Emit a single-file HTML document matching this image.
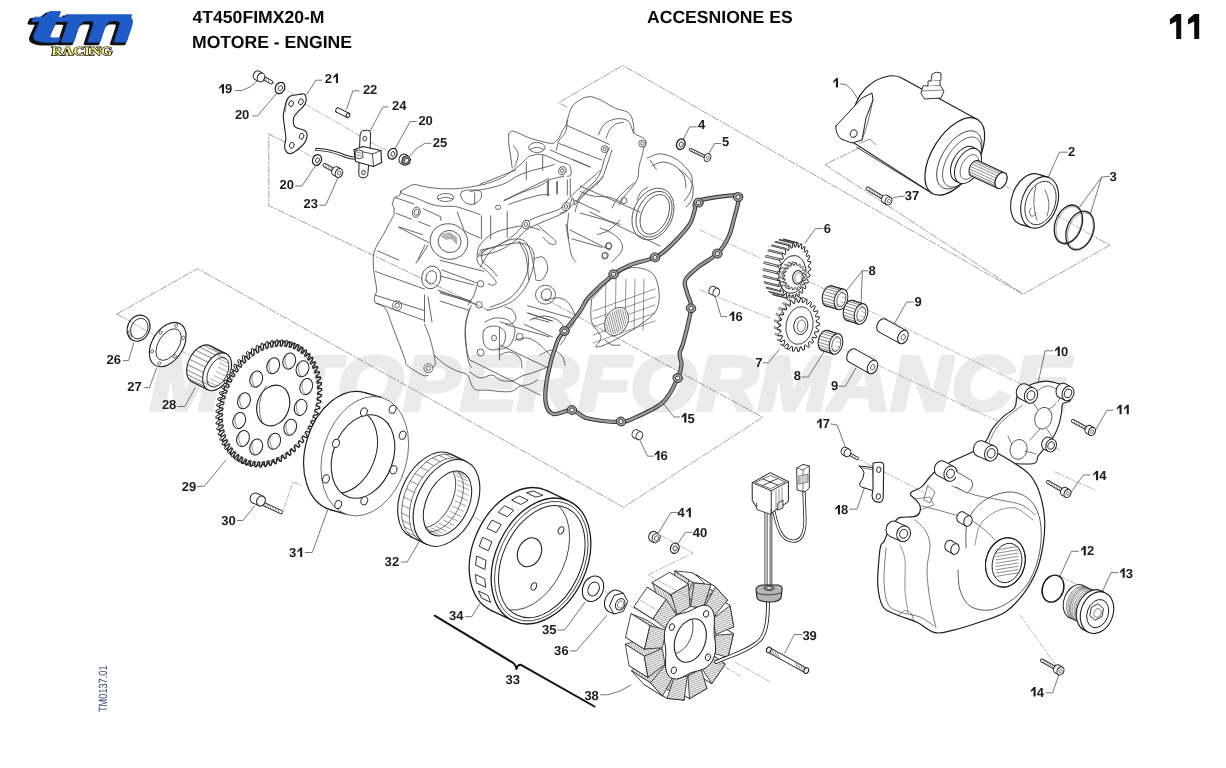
<!DOCTYPE html>
<html><head><meta charset="utf-8"><title>Accensione ES</title>
<style>
html,body{margin:0;padding:0;background:#fff;}
body{width:1226px;height:768px;overflow:hidden;position:relative;font-family:"Liberation Sans",sans-serif;}
svg{position:absolute;left:0;top:0;will-change:transform;}
text{text-rendering:geometricPrecision;}
</style></head><body>
<svg width="1226" height="768" viewBox="0 0 1226 768">

<rect width="1226" height="768" fill="#fff"/>
<text x="150" y="409.5" font-family="Liberation Sans" font-weight="bold" font-style="italic" font-size="77" fill="#eaeaea" stroke="#eaeaea" stroke-width="4" stroke-linejoin="round" textLength="920" lengthAdjust="spacingAndGlyphs">MOTOPERFORMANCE</text>
<g>
<text x="0" y="0" font-family="Liberation Sans" font-weight="bold" font-style="italic" font-size="100" transform="translate(25.5,43.800000000000004) scale(1.1,0.47)" fill="#111" stroke="#111" stroke-width="5" stroke-linejoin="round">t</text>
<text x="0" y="0" font-family="Liberation Sans" font-weight="bold" font-style="italic" font-size="100" transform="translate(57.699999999999996,44.300000000000004) scale(0.85,0.5)" fill="#111" stroke="#111" stroke-width="5" stroke-linejoin="round">m</text>
<path d="M66,14.8 L131.5,14.8 L130.1,20.8 L64.5,20.8 Z" fill="#111" stroke="#111" stroke-width="3.0" stroke-linejoin="round" transform="translate(-2.6,2.2)"/>
<text x="0" y="0" font-family="Liberation Sans" font-weight="bold" font-style="italic" font-size="100" transform="translate(28.1,41.6) scale(1.1,0.47)" fill="#1f5cc8" stroke="#1f5cc8" stroke-width="1.6" stroke-linejoin="round">t</text>
<text x="0" y="0" font-family="Liberation Sans" font-weight="bold" font-style="italic" font-size="100" transform="translate(60.3,42.1) scale(0.85,0.5)" fill="#1f5cc8" stroke="#1f5cc8" stroke-width="1.6" stroke-linejoin="round">m</text>
<path d="M66,14.8 L131.5,14.8 L130.1,20.8 L64.5,20.8 Z" fill="#1f5cc8" stroke="#1f5cc8" stroke-width="0.96" stroke-linejoin="round" transform="translate(0,0)"/>
<text x="51.5" y="55.4" font-family="Liberation Serif" font-weight="bold" font-size="12" fill="#f3ec78" stroke="#111" stroke-width="1.3" paint-order="stroke" textLength="61" lengthAdjust="spacingAndGlyphs">RACING</text>
</g>
<g font-family="Liberation Sans" font-weight="bold" fill="#0a0a0a">
<text x="192.5" y="23.2" font-size="17.6">4T450FIMX20-M</text>
<text x="192" y="48.4" font-size="17.6">MOTORE - ENGINE</text>
<text x="647" y="22.8" font-size="17.6">ACCESNIONE ES</text>
<path d="M1169.9,19.3 L1176.3,14 L1181.2,14 L1181.2,38.9 L1176.2,38.9 L1176.2,21.6 L1169.9,24.6 Z M1188,19.3 L1194.3,14 L1199.2,14 L1199.2,38.9 L1194.2,38.9 L1194.2,21.6 L1188,24.6 Z" fill="#0a0a0a"/>
</g>
<path d="M117.0,314.0 L197.5,268.6 L623.6,507.3 L762.6,417.2 L540.0,296.0" fill="none" stroke="#777" stroke-width="0.7" stroke-dasharray="7,2,1.5,2" stroke-linejoin="round" stroke-linecap="round" />
<path d="M117.0,314.0 L131.0,322.0" fill="none" stroke="#777" stroke-width="0.7" stroke-dasharray="7,2,1.5,2" stroke-linejoin="round" stroke-linecap="round" />
<path d="M285.2,142.3 L268.8,134.0 L268.8,205.6 L490.0,311.0" fill="none" stroke="#777" stroke-width="0.7" stroke-dasharray="7,2,1.5,2" stroke-linejoin="round" stroke-linecap="round" />
<path d="M567.0,107.0 L558.3,102.9 L622.9,65.4 L1023.0,294.1 L1110.0,245.2 L1096.5,237.9" fill="none" stroke="#777" stroke-width="0.7" stroke-dasharray="7,2,1.5,2" stroke-linejoin="round" stroke-linecap="round" />
<path d="M869.0,142.4 L855.5,149.8 L824.9,164.5 L1023.0,294.1" fill="none" stroke="#777" stroke-width="0.7" stroke-dasharray="7,2,1.5,2" stroke-linejoin="round" stroke-linecap="round" />
<path d="M131.0,322.0 L300.0,418.0" fill="none" stroke="#888" stroke-width="0.6" stroke-dasharray="6,2,1.5,2" stroke-linejoin="round" stroke-linecap="round" />
<path d="M335.0,438.0 L620.0,600.0" fill="none" stroke="#888" stroke-width="0.6" stroke-dasharray="6,2,1.5,2" stroke-linejoin="round" stroke-linecap="round" />
<path d="M630.0,606.0 L700.0,646.0" fill="none" stroke="#888" stroke-width="0.6" stroke-dasharray="6,2,1.5,2" stroke-linejoin="round" stroke-linecap="round" />
<ellipse cx="138.6" cy="328.2" rx="11.0" ry="13.4" fill="none" stroke="#1e1e1e" stroke-width="1.1" transform="rotate(25 138.6 328.2)" />
<ellipse cx="139.3" cy="328.6" rx="8.3" ry="10.6" fill="none" stroke="#1e1e1e" stroke-width="0.8" transform="rotate(25 139.3 328.6)" />
<ellipse cx="129.5" cy="332.0" rx="1.3" ry="1.3" fill="#fff" stroke="#1e1e1e" stroke-width="0.6" />
<ellipse cx="130.5" cy="336.0" rx="1.3" ry="1.3" fill="#fff" stroke="#1e1e1e" stroke-width="0.6" />
<ellipse cx="167.7" cy="344.6" rx="15.5" ry="24.2" fill="#fff" stroke="#1e1e1e" stroke-width="1.1" transform="rotate(32 167.7 344.6)" />
<ellipse cx="168.6" cy="344.6" rx="10.2" ry="17.5" fill="none" stroke="#1e1e1e" stroke-width="0.8" transform="rotate(32 168.6 344.6)" />
<ellipse cx="174.9" cy="356.4" rx="1.4" ry="1.8" fill="#fff" stroke="#1e1e1e" stroke-width="0.6" transform="rotate(32 174.9 356.4)" />
<ellipse cx="159.3" cy="363.5" rx="1.4" ry="1.8" fill="#fff" stroke="#1e1e1e" stroke-width="0.6" transform="rotate(32 159.3 363.5)" />
<ellipse cx="152.1" cy="351.5" rx="1.4" ry="1.8" fill="#fff" stroke="#1e1e1e" stroke-width="0.6" transform="rotate(32 152.1 351.5)" />
<ellipse cx="160.6" cy="332.6" rx="1.4" ry="1.8" fill="#fff" stroke="#1e1e1e" stroke-width="0.6" transform="rotate(32 160.6 332.6)" />
<ellipse cx="176.3" cy="325.7" rx="1.4" ry="1.8" fill="#fff" stroke="#1e1e1e" stroke-width="0.6" transform="rotate(32 176.3 325.7)" />
<ellipse cx="183.3" cy="337.8" rx="1.4" ry="1.8" fill="#fff" stroke="#1e1e1e" stroke-width="0.6" transform="rotate(32 183.3 337.8)" />
<ellipse cx="201.1" cy="363.8" rx="12.5" ry="20.2" fill="#fff" stroke="#1e1e1e" stroke-width="1.1" transform="rotate(27 201.1 363.8)" />
<path d="M207.9,389.8 L191.9,381.8 L210.3,345.8 L226.3,353.8 Z" fill="#fff" stroke="none"/>
<path d="M207.9,389.8 L191.9,381.8 M226.3,353.8 L210.3,345.8" stroke="#1e1e1e" stroke-width="1.1" fill="none"/>
<path d="M206.8,389.1 L190.8,381.1" fill="none" stroke="#333" stroke-width="0.6" stroke-linejoin="round" stroke-linecap="round" />
<path d="M204.4,386.3 L188.4,378.3" fill="none" stroke="#333" stroke-width="0.6" stroke-linejoin="round" stroke-linecap="round" />
<path d="M203.0,382.4 L187.0,374.4" fill="none" stroke="#333" stroke-width="0.6" stroke-linejoin="round" stroke-linecap="round" />
<path d="M202.7,377.7 L186.7,369.7" fill="none" stroke="#333" stroke-width="0.6" stroke-linejoin="round" stroke-linecap="round" />
<path d="M203.5,372.5 L187.5,364.5" fill="none" stroke="#333" stroke-width="0.6" stroke-linejoin="round" stroke-linecap="round" />
<path d="M205.4,367.2 L189.4,359.2" fill="none" stroke="#333" stroke-width="0.6" stroke-linejoin="round" stroke-linecap="round" />
<path d="M208.2,362.4 L192.2,354.4" fill="none" stroke="#333" stroke-width="0.6" stroke-linejoin="round" stroke-linecap="round" />
<path d="M211.7,358.2 L195.7,350.2" fill="none" stroke="#333" stroke-width="0.6" stroke-linejoin="round" stroke-linecap="round" />
<path d="M215.6,355.1 L199.6,347.1" fill="none" stroke="#333" stroke-width="0.6" stroke-linejoin="round" stroke-linecap="round" />
<path d="M219.6,353.3 L203.6,345.3" fill="none" stroke="#333" stroke-width="0.6" stroke-linejoin="round" stroke-linecap="round" />
<path d="M223.5,353.0 L207.5,345.0" fill="none" stroke="#333" stroke-width="0.6" stroke-linejoin="round" stroke-linecap="round" />
<path d="M226.8,354.1 L210.8,346.1" fill="none" stroke="#333" stroke-width="0.6" stroke-linejoin="round" stroke-linecap="round" />
<path d="M229.4,356.6 L213.4,348.6" fill="none" stroke="#333" stroke-width="0.6" stroke-linejoin="round" stroke-linecap="round" />
<ellipse cx="217.1" cy="371.8" rx="12.5" ry="20.2" fill="#fff" stroke="#1e1e1e" stroke-width="1.1" transform="rotate(27 217.1 371.8)" />
<ellipse cx="217.9" cy="372.2" rx="9.3" ry="16.0" fill="#fff" stroke="#1e1e1e" stroke-width="0.8" transform="rotate(27 217.9 372.2)" />
<path d="M225.7,358.3 L216.1,353.5" fill="none" stroke="#555" stroke-width="0.5" stroke-linejoin="round" stroke-linecap="round" />
<path d="M227.7,360.4 L218.1,355.6" fill="none" stroke="#555" stroke-width="0.5" stroke-linejoin="round" stroke-linecap="round" />
<path d="M228.7,363.7 L219.1,358.9" fill="none" stroke="#555" stroke-width="0.5" stroke-linejoin="round" stroke-linecap="round" />
<path d="M228.8,367.6 L219.2,362.8" fill="none" stroke="#555" stroke-width="0.5" stroke-linejoin="round" stroke-linecap="round" />
<path d="M228.0,372.0 L218.4,367.2" fill="none" stroke="#555" stroke-width="0.5" stroke-linejoin="round" stroke-linecap="round" />
<path d="M226.2,376.4 L216.6,371.6" fill="none" stroke="#555" stroke-width="0.5" stroke-linejoin="round" stroke-linecap="round" />
<path d="M223.7,380.4 L214.1,375.6" fill="none" stroke="#555" stroke-width="0.5" stroke-linejoin="round" stroke-linecap="round" />
<path d="M220.6,383.7 L211.0,378.9" fill="none" stroke="#555" stroke-width="0.5" stroke-linejoin="round" stroke-linecap="round" />
<path d="M217.4,386.0 L207.8,381.2" fill="none" stroke="#555" stroke-width="0.5" stroke-linejoin="round" stroke-linecap="round" />
<path d="M214.1,387.0 L204.5,382.2" fill="none" stroke="#555" stroke-width="0.5" stroke-linejoin="round" stroke-linecap="round" />
<path d="M211.2,386.7 L201.6,381.9" fill="none" stroke="#555" stroke-width="0.5" stroke-linejoin="round" stroke-linecap="round" />
<path d="M308.3,420.9 L311.1,424.0 L310.4,425.4 L306.3,424.9 L305.7,426.3 L308.2,429.7 L307.4,431.1 L303.5,430.1 L302.7,431.3 L304.9,435.2 L304.0,436.5 L300.2,435.0 L299.4,436.1 L301.2,440.3 L300.2,441.5 L296.7,439.5 L295.8,440.6 L297.2,445.1 L296.2,446.2 L292.9,443.8 L291.9,444.8 L292.9,449.5 L291.8,450.5 L288.8,447.6 L287.8,448.5 L288.4,453.4 L287.2,454.3 L284.6,451.0 L283.5,451.8 L283.6,456.8 L282.4,457.6 L280.1,453.9 L279.0,454.6 L278.8,459.7 L277.5,460.4 L275.6,456.3 L274.4,456.9 L273.8,462.1 L272.5,462.6 L270.9,458.3 L269.8,458.7 L268.7,463.9 L267.4,464.3 L266.3,459.6 L265.1,459.9 L263.6,465.1 L262.4,465.3 L261.6,460.5 L260.5,460.6 L258.6,465.7 L257.3,465.8 L257.0,460.8 L255.9,460.7 L253.6,465.7 L252.4,465.6 L252.5,460.5 L251.4,460.3 L248.8,465.1 L247.6,464.9 L248.2,459.7 L247.1,459.4 L244.2,463.9 L243.1,463.5 L244.0,458.3 L243.0,457.9 L239.8,462.1 L238.7,461.6 L240.1,456.4 L239.1,455.8 L235.6,459.8 L234.6,459.1 L236.4,453.9 L235.5,453.3 L231.8,456.9 L230.9,456.1 L233.0,451.0 L232.2,450.2 L228.3,453.4 L227.5,452.5 L230.0,447.6 L229.3,446.7 L225.2,449.5 L224.5,448.5 L227.3,443.8 L226.7,442.8 L222.5,445.1 L221.9,444.0 L225.0,439.6 L224.5,438.5 L220.2,440.4 L219.7,439.1 L223.1,435.0 L222.7,433.8 L218.4,435.2 L218.0,433.9 L221.6,430.2 L221.3,428.9 L217.0,429.8 L216.8,428.4 L220.6,425.0 L220.4,423.7 L216.2,424.1 L216.0,422.6 L220.1,419.7 L220.0,418.3 L215.8,418.1 L215.8,416.6 L220.0,414.1 L220.0,412.7 L215.9,412.1 L216.1,410.6 L220.3,408.5 L220.5,407.1 L216.6,405.9 L216.8,404.4 L221.1,402.8 L221.4,401.4 L217.7,399.7 L218.0,398.2 L222.4,397.2 L222.7,395.7 L219.3,393.6 L219.8,392.1 L224.0,391.5 L224.5,390.1 L221.4,387.5 L221.9,386.0 L226.1,386.0 L226.7,384.7 L223.9,381.6 L224.6,380.2 L228.7,380.7 L229.3,379.3 L226.8,375.9 L227.6,374.5 L231.5,375.5 L232.3,374.3 L230.1,370.4 L231.0,369.1 L234.8,370.6 L235.6,369.5 L233.8,365.3 L234.8,364.1 L238.3,366.1 L239.2,365.0 L237.8,360.5 L238.8,359.4 L242.1,361.8 L243.1,360.8 L242.1,356.1 L243.2,355.1 L246.2,358.0 L247.2,357.1 L246.6,352.2 L247.8,351.3 L250.4,354.6 L251.5,353.8 L251.4,348.8 L252.6,348.0 L254.9,351.7 L256.0,351.0 L256.2,345.9 L257.5,345.2 L259.4,349.3 L260.6,348.7 L261.2,343.5 L262.5,343.0 L264.1,347.3 L265.2,346.9 L266.3,341.7 L267.6,341.3 L268.7,346.0 L269.9,345.7 L271.4,340.5 L272.6,340.3 L273.4,345.1 L274.5,345.0 L276.4,339.9 L277.7,339.8 L278.0,344.8 L279.1,344.9 L281.4,339.9 L282.6,340.0 L282.5,345.1 L283.6,345.3 L286.2,340.5 L287.4,340.7 L286.8,345.9 L287.9,346.2 L290.8,341.7 L291.9,342.1 L291.0,347.3 L292.0,347.7 L295.2,343.5 L296.3,344.0 L294.9,349.2 L295.9,349.8 L299.4,345.8 L300.4,346.5 L298.6,351.7 L299.5,352.3 L303.2,348.7 L304.1,349.5 L302.0,354.6 L302.8,355.4 L306.7,352.2 L307.5,353.1 L305.0,358.0 L305.7,358.9 L309.8,356.1 L310.5,357.1 L307.7,361.8 L308.3,362.8 L312.5,360.5 L313.1,361.6 L310.0,366.0 L310.5,367.1 L314.8,365.2 L315.3,366.5 L311.9,370.6 L312.3,371.8 L316.6,370.4 L317.0,371.7 L313.4,375.4 L313.7,376.7 L318.0,375.8 L318.2,377.2 L314.4,380.6 L314.6,381.9 L318.8,381.5 L319.0,383.0 L314.9,385.9 L315.0,387.3 L319.2,387.5 L319.2,389.0 L315.0,391.5 L315.0,392.9 L319.1,393.5 L318.9,395.0 L314.7,397.1 L314.5,398.5 L318.4,399.7 L318.2,401.2 L313.9,402.8 L313.6,404.2 L317.3,405.9 L317.0,407.4 L312.6,408.4 L312.3,409.9 L315.7,412.0 L315.2,413.5 L311.0,414.1 L310.5,415.5 L313.6,418.1 L313.1,419.6 L308.9,419.6 Z" fill="#fff" stroke="#1e1e1e" stroke-width="1.0" stroke-linejoin="round"/>
<path d="M310.8,422.1 L313.6,425.2 L312.9,426.6 L308.8,426.1 L308.2,427.5 L310.7,430.9 L309.9,432.3 L306.0,431.3 L305.2,432.5 L307.4,436.4 L306.5,437.7 L302.7,436.2 L301.9,437.3 L303.7,441.5 L302.7,442.7 L299.2,440.7 L298.3,441.8 L299.7,446.3 L298.7,447.4 L295.4,445.0 L294.4,446.0 L295.4,450.7 L294.3,451.7 L291.3,448.8 L290.3,449.7 L290.9,454.6 L289.7,455.5 L287.1,452.2 L286.0,453.0 L286.1,458.0 L284.9,458.8 L282.6,455.1 L281.5,455.8 L281.3,460.9 L280.0,461.6 L278.1,457.5 L276.9,458.1 L276.3,463.3 L275.0,463.8 L273.4,459.5 L272.3,459.9 L271.2,465.1 L269.9,465.5 L268.8,460.8 L267.6,461.1 L266.1,466.3 L264.9,466.5 L264.1,461.7 L263.0,461.8 L261.1,466.9 L259.8,467.0 L259.5,462.0 L258.4,461.9 L256.1,466.9 L254.9,466.8 L255.0,461.7 L253.9,461.5 L251.3,466.3 L250.1,466.1 L250.7,460.9 L249.6,460.6 L246.7,465.1 L245.6,464.7 L246.5,459.5 L245.5,459.1 L242.3,463.3 L241.2,462.8 L242.6,457.6 L241.6,457.0 L238.1,461.0 L237.1,460.3 L238.9,455.1 L238.0,454.5 L234.3,458.1 L233.4,457.3 L235.5,452.2 L234.7,451.4 L230.8,454.6 L230.0,453.7 L232.5,448.8 L231.8,447.9 L227.7,450.7 L227.0,449.7 L229.8,445.0 L229.2,444.0 L225.0,446.3 L224.4,445.2 L227.5,440.8 L227.0,439.7 L222.7,441.6 L222.2,440.3 L225.6,436.2 L225.2,435.0 L220.9,436.4 L220.5,435.1 L224.1,431.4 L223.8,430.1 L219.5,431.0 L219.3,429.6 L223.1,426.2 L222.9,424.9 L218.7,425.3 L218.5,423.8 L222.6,420.9 L222.5,419.5 L218.3,419.3 L218.3,417.8 L222.5,415.3 L222.5,413.9 L218.4,413.3 L218.6,411.8 L222.8,409.7 L223.0,408.3 L219.1,407.1 L219.3,405.6 L223.6,404.0 L223.9,402.6 L220.2,400.9 L220.5,399.4 L224.9,398.4 L225.2,396.9 L221.8,394.8 L222.3,393.3 L226.5,392.7 L227.0,391.3 L223.9,388.7 L224.4,387.2 L228.6,387.2 L229.2,385.9 L226.4,382.8 L227.1,381.4 L231.2,381.9 L231.8,380.5 L229.3,377.1 L230.1,375.7 L234.0,376.7 L234.8,375.5 L232.6,371.6 L233.5,370.3 L237.3,371.8 L238.1,370.7 L236.3,366.5 L237.3,365.3 L240.8,367.3 L241.7,366.2 L240.3,361.7 L241.3,360.6 L244.6,363.0 L245.6,362.0 L244.6,357.3 L245.7,356.3 L248.7,359.2 L249.7,358.3 L249.1,353.4 L250.3,352.5 L252.9,355.8 L254.0,355.0 L253.9,350.0 L255.1,349.2 L257.4,352.9 L258.5,352.2 L258.7,347.1 L260.0,346.4 L261.9,350.5 L263.1,349.9 L263.7,344.7 L265.0,344.2 L266.6,348.5 L267.7,348.1 L268.8,342.9 L270.1,342.5 L271.2,347.2 L272.4,346.9 L273.9,341.7 L275.1,341.5 L275.9,346.3 L277.0,346.2 L278.9,341.1 L280.2,341.0 L280.5,346.0 L281.6,346.1 L283.9,341.1 L285.1,341.2 L285.0,346.3 L286.1,346.5 L288.7,341.7 L289.9,341.9 L289.3,347.1 L290.4,347.4 L293.3,342.9 L294.4,343.3 L293.5,348.5 L294.5,348.9 L297.7,344.7 L298.8,345.2 L297.4,350.4 L298.4,351.0 L301.9,347.0 L302.9,347.7 L301.1,352.9 L302.0,353.5 L305.7,349.9 L306.6,350.7 L304.5,355.8 L305.3,356.6 L309.2,353.4 L310.0,354.3 L307.5,359.2 L308.2,360.1 L312.3,357.3 L313.0,358.3 L310.2,363.0 L310.8,364.0 L315.0,361.7 L315.6,362.8 L312.5,367.2 L313.0,368.3 L317.3,366.4 L317.8,367.7 L314.4,371.8 L314.8,373.0 L319.1,371.6 L319.5,372.9 L315.9,376.6 L316.2,377.9 L320.5,377.0 L320.7,378.4 L316.9,381.8 L317.1,383.1 L321.3,382.7 L321.5,384.2 L317.4,387.1 L317.5,388.5 L321.7,388.7 L321.7,390.2 L317.5,392.7 L317.5,394.1 L321.6,394.7 L321.4,396.2 L317.2,398.3 L317.0,399.7 L320.9,400.9 L320.7,402.4 L316.4,404.0 L316.1,405.4 L319.8,407.1 L319.5,408.6 L315.1,409.6 L314.8,411.1 L318.2,413.2 L317.7,414.7 L313.5,415.3 L313.0,416.7 L316.1,419.3 L315.6,420.8 L311.4,420.8 Z" fill="#fff" stroke="#1e1e1e" stroke-width="1.3" stroke-linejoin="round"/>
<ellipse cx="270.0" cy="404.0" rx="45.1" ry="60.9" fill="none" stroke="#555" stroke-width="0.5" transform="rotate(24 270.0 404.0)" />
<ellipse cx="273.2" cy="365.8" rx="6.2" ry="8.2" fill="#fff" stroke="#1e1e1e" stroke-width="1.0" transform="rotate(19 273.2 365.8)" />
<path d="M270.2,359.3 Q266.7,366.8 271.7,373.3" fill="none" stroke="#444" stroke-width="0.6" stroke-linejoin="round" stroke-linecap="round" />
<ellipse cx="289.2" cy="361.1" rx="6.2" ry="8.2" fill="#fff" stroke="#1e1e1e" stroke-width="1.0" transform="rotate(19 289.2 361.1)" />
<path d="M286.2,354.6 Q282.7,362.1 287.7,368.6" fill="none" stroke="#444" stroke-width="0.6" stroke-linejoin="round" stroke-linecap="round" />
<ellipse cx="302.5" cy="368.7" rx="6.2" ry="8.2" fill="#fff" stroke="#1e1e1e" stroke-width="1.0" transform="rotate(19 302.5 368.7)" />
<path d="M299.5,362.2 Q296.0,369.7 301.0,376.2" fill="none" stroke="#444" stroke-width="0.6" stroke-linejoin="round" stroke-linecap="round" />
<ellipse cx="306.2" cy="386.6" rx="6.2" ry="8.2" fill="#fff" stroke="#1e1e1e" stroke-width="1.0" transform="rotate(19 306.2 386.6)" />
<path d="M303.2,380.1 Q299.7,387.6 304.7,394.1" fill="none" stroke="#444" stroke-width="0.6" stroke-linejoin="round" stroke-linecap="round" />
<ellipse cx="300.6" cy="407.4" rx="6.2" ry="8.2" fill="#fff" stroke="#1e1e1e" stroke-width="1.0" transform="rotate(19 300.6 407.4)" />
<path d="M297.6,400.9 Q294.1,408.4 299.1,414.9" fill="none" stroke="#444" stroke-width="0.6" stroke-linejoin="round" stroke-linecap="round" />
<ellipse cx="290.2" cy="427.2" rx="6.2" ry="8.2" fill="#fff" stroke="#1e1e1e" stroke-width="1.0" transform="rotate(19 290.2 427.2)" />
<path d="M287.2,420.7 Q283.7,428.2 288.7,434.7" fill="none" stroke="#444" stroke-width="0.6" stroke-linejoin="round" stroke-linecap="round" />
<ellipse cx="274.2" cy="441.3" rx="6.2" ry="8.2" fill="#fff" stroke="#1e1e1e" stroke-width="1.0" transform="rotate(19 274.2 441.3)" />
<path d="M271.2,434.8 Q267.7,442.3 272.7,448.8" fill="none" stroke="#444" stroke-width="0.6" stroke-linejoin="round" stroke-linecap="round" />
<ellipse cx="256.2" cy="447.0" rx="6.2" ry="8.2" fill="#fff" stroke="#1e1e1e" stroke-width="1.0" transform="rotate(19 256.2 447.0)" />
<path d="M253.2,440.5 Q249.7,448.0 254.7,454.5" fill="none" stroke="#444" stroke-width="0.6" stroke-linejoin="round" stroke-linecap="round" />
<ellipse cx="243.0" cy="438.5" rx="6.2" ry="8.2" fill="#fff" stroke="#1e1e1e" stroke-width="1.0" transform="rotate(19 243.0 438.5)" />
<path d="M240.0,432.0 Q236.5,439.5 241.5,446.0" fill="none" stroke="#444" stroke-width="0.6" stroke-linejoin="round" stroke-linecap="round" />
<ellipse cx="239.2" cy="420.6" rx="6.2" ry="8.2" fill="#fff" stroke="#1e1e1e" stroke-width="1.0" transform="rotate(19 239.2 420.6)" />
<path d="M236.2,414.1 Q232.7,421.6 237.7,428.1" fill="none" stroke="#444" stroke-width="0.6" stroke-linejoin="round" stroke-linecap="round" />
<ellipse cx="244.0" cy="400.8" rx="6.2" ry="8.2" fill="#fff" stroke="#1e1e1e" stroke-width="1.0" transform="rotate(19 244.0 400.8)" />
<path d="M241.0,394.3 Q237.5,401.8 242.5,408.3" fill="none" stroke="#444" stroke-width="0.6" stroke-linejoin="round" stroke-linecap="round" />
<ellipse cx="256.2" cy="379.1" rx="6.2" ry="8.2" fill="#fff" stroke="#1e1e1e" stroke-width="1.0" transform="rotate(19 256.2 379.1)" />
<path d="M253.2,372.6 Q249.7,380.1 254.7,386.6" fill="none" stroke="#444" stroke-width="0.6" stroke-linejoin="round" stroke-linecap="round" />
<ellipse cx="273.2" cy="405.5" rx="16.0" ry="20.8" fill="#fff" stroke="#1e1e1e" stroke-width="1.1" transform="rotate(19 273.2 405.5)" />
<path d="M266,386 Q255,402 262,423" fill="none" stroke="#444" stroke-width="0.7" stroke-linejoin="round" stroke-linecap="round" />
<path d="M259.0,502.0 L281.0,512.0" fill="none" stroke="#1e1e1e" stroke-width="4.2" stroke-linejoin="round" stroke-linecap="round" />
<path d="M259.0,502.0 L281.0,512.0" fill="none" stroke="#fff" stroke-width="2.6" stroke-linejoin="round" stroke-linecap="round" />
<path d="M264.4,502.5 L265.6,506.9" fill="none" stroke="#333" stroke-width="0.5" stroke-linejoin="round" stroke-linecap="round" />
<path d="M267.1,503.7 L268.3,508.1" fill="none" stroke="#333" stroke-width="0.5" stroke-linejoin="round" stroke-linecap="round" />
<path d="M269.8,505.0 L271.0,509.4" fill="none" stroke="#333" stroke-width="0.5" stroke-linejoin="round" stroke-linecap="round" />
<path d="M272.5,506.2 L273.7,510.6" fill="none" stroke="#333" stroke-width="0.5" stroke-linejoin="round" stroke-linecap="round" />
<path d="M275.2,507.4 L276.4,511.8" fill="none" stroke="#333" stroke-width="0.5" stroke-linejoin="round" stroke-linecap="round" />
<path d="M277.9,508.6 L279.1,513.0" fill="none" stroke="#333" stroke-width="0.5" stroke-linejoin="round" stroke-linecap="round" />
<ellipse cx="254.5" cy="498.0" rx="4.2" ry="5.2" fill="#fff" stroke="#1e1e1e" stroke-width="1.0" transform="rotate(25 254.5 498.0)" />
<path d="M258.8,505.7 L252.3,502.7 L256.7,493.3 L263.2,496.3 Z" fill="#fff" stroke="none"/>
<path d="M258.8,505.7 L252.3,502.7 M263.2,496.3 L256.7,493.3" stroke="#1e1e1e" stroke-width="1.0" fill="none"/>
<ellipse cx="261.0" cy="501.0" rx="4.2" ry="5.2" fill="#fff" stroke="#1e1e1e" stroke-width="1.0" transform="rotate(25 261.0 501.0)" />
<ellipse cx="347.5" cy="451.1" rx="42.0" ry="61.0" fill="#fff" stroke="#1e1e1e" stroke-width="1.2" transform="rotate(16.5 347.5 451.1)" />
<path d="M347.5,514.7 L330.2,509.6 L364.8,392.6 L382.1,397.7 Z" fill="#fff" stroke="none"/>
<path d="M347.5,514.7 L330.2,509.6 M382.1,397.7 L364.8,392.6" stroke="#1e1e1e" stroke-width="1.2" fill="none"/>
<ellipse cx="364.8" cy="456.2" rx="42.0" ry="61.0" fill="#fff" stroke="#444" stroke-width="0.7" transform="rotate(16.5 364.8 456.2)" />
<ellipse cx="363.0" cy="456.5" rx="30.0" ry="43.0" fill="#fff" stroke="#1e1e1e" stroke-width="1.1" transform="rotate(20 363.0 456.5)" />
<clipPath id="c31"><ellipse cx="363" cy="456.5" rx="30" ry="43" transform="rotate(20 363 456.5)"/></clipPath>
<g clip-path="url(#c31)"><ellipse cx="345.7" cy="451.4" rx="30.0" ry="43.0" fill="none" stroke="#1e1e1e" stroke-width="1.0" transform="rotate(20 345.7 451.4)" /></g>
<ellipse cx="363.9" cy="412.0" rx="3.3" ry="4.3" fill="#fff" stroke="#1e1e1e" stroke-width="0.9" transform="rotate(16 363.9 412.0)" />
<ellipse cx="392.6" cy="409.3" rx="3.3" ry="4.3" fill="#fff" stroke="#1e1e1e" stroke-width="0.9" transform="rotate(16 392.6 409.3)" />
<ellipse cx="402.6" cy="435.2" rx="3.3" ry="4.3" fill="#fff" stroke="#1e1e1e" stroke-width="0.9" transform="rotate(16 402.6 435.2)" />
<ellipse cx="393.5" cy="469.8" rx="3.3" ry="4.3" fill="#fff" stroke="#1e1e1e" stroke-width="0.9" transform="rotate(16 393.5 469.8)" />
<ellipse cx="364.3" cy="500.8" rx="3.3" ry="4.3" fill="#fff" stroke="#1e1e1e" stroke-width="0.9" transform="rotate(16 364.3 500.8)" />
<ellipse cx="338.2" cy="504.5" rx="3.3" ry="4.3" fill="#fff" stroke="#1e1e1e" stroke-width="0.9" transform="rotate(16 338.2 504.5)" />
<ellipse cx="326.0" cy="478.9" rx="3.3" ry="4.3" fill="#fff" stroke="#1e1e1e" stroke-width="0.9" transform="rotate(16 326.0 478.9)" />
<ellipse cx="336.0" cy="443.4" rx="3.3" ry="4.3" fill="#fff" stroke="#1e1e1e" stroke-width="0.9" transform="rotate(16 336.0 443.4)" />
<ellipse cx="431.0" cy="495.5" rx="29.5" ry="46.0" fill="#fff" stroke="#1e1e1e" stroke-width="1.1" transform="rotate(26 431.0 495.5)" />
<path d="M426.3,544.3 L410.8,536.8 L451.2,454.2 L466.7,461.7 Z" fill="#fff" stroke="none"/>
<path d="M426.3,544.3 L410.8,536.8 M466.7,461.7 L451.2,454.2" stroke="#1e1e1e" stroke-width="1.1" fill="none"/>
<ellipse cx="442.6" cy="501.1" rx="29.5" ry="46.0" fill="none" stroke="#333" stroke-width="0.6" transform="rotate(26 442.6 501.1)" />
<ellipse cx="434.9" cy="497.4" rx="29.5" ry="46.0" fill="none" stroke="#333" stroke-width="0.6" transform="rotate(26 434.9 497.4)" />
<path d="M415.0,536.1 L407.2,532.3" fill="none" stroke="#333" stroke-width="0.55" stroke-linejoin="round" stroke-linecap="round" />
<path d="M412.0,530.6 L404.2,526.9" fill="none" stroke="#333" stroke-width="0.55" stroke-linejoin="round" stroke-linecap="round" />
<path d="M410.1,524.1 L402.3,520.3" fill="none" stroke="#333" stroke-width="0.55" stroke-linejoin="round" stroke-linecap="round" />
<path d="M409.3,516.7 L401.6,513.0" fill="none" stroke="#333" stroke-width="0.55" stroke-linejoin="round" stroke-linecap="round" />
<path d="M409.8,508.8 L402.0,505.1" fill="none" stroke="#333" stroke-width="0.55" stroke-linejoin="round" stroke-linecap="round" />
<path d="M411.4,500.6 L403.7,496.9" fill="none" stroke="#333" stroke-width="0.55" stroke-linejoin="round" stroke-linecap="round" />
<path d="M414.2,492.5 L406.5,488.7" fill="none" stroke="#333" stroke-width="0.55" stroke-linejoin="round" stroke-linecap="round" />
<path d="M418.0,484.6 L410.2,480.8" fill="none" stroke="#333" stroke-width="0.55" stroke-linejoin="round" stroke-linecap="round" />
<path d="M422.7,477.3 L414.9,473.6" fill="none" stroke="#333" stroke-width="0.55" stroke-linejoin="round" stroke-linecap="round" />
<path d="M428.1,470.9 L420.3,467.2" fill="none" stroke="#333" stroke-width="0.55" stroke-linejoin="round" stroke-linecap="round" />
<path d="M434.0,465.6 L426.2,461.8" fill="none" stroke="#333" stroke-width="0.55" stroke-linejoin="round" stroke-linecap="round" />
<path d="M440.2,461.6 L432.5,457.8" fill="none" stroke="#333" stroke-width="0.55" stroke-linejoin="round" stroke-linecap="round" />
<path d="M446.5,458.9 L438.8,455.2" fill="none" stroke="#333" stroke-width="0.55" stroke-linejoin="round" stroke-linecap="round" />
<path d="M452.7,457.8 L445.0,454.1" fill="none" stroke="#333" stroke-width="0.55" stroke-linejoin="round" stroke-linecap="round" />
<path d="M458.5,458.3 L450.8,454.5" fill="none" stroke="#333" stroke-width="0.55" stroke-linejoin="round" stroke-linecap="round" />
<path d="M463.8,460.3 L456.0,456.5" fill="none" stroke="#333" stroke-width="0.55" stroke-linejoin="round" stroke-linecap="round" />
<path d="M468.3,463.8 L460.5,460.0" fill="none" stroke="#333" stroke-width="0.55" stroke-linejoin="round" stroke-linecap="round" />
<path d="M471.8,468.6 L464.1,464.8" fill="none" stroke="#333" stroke-width="0.55" stroke-linejoin="round" stroke-linecap="round" />
<path d="M474.3,474.6 L466.6,470.8" fill="none" stroke="#333" stroke-width="0.55" stroke-linejoin="round" stroke-linecap="round" />
<path d="M475.7,481.5 L467.9,477.8" fill="none" stroke="#333" stroke-width="0.55" stroke-linejoin="round" stroke-linecap="round" />
<path d="M475.9,489.2 L468.1,485.4" fill="none" stroke="#333" stroke-width="0.55" stroke-linejoin="round" stroke-linecap="round" />
<path d="M474.8,497.2 L467.1,493.5" fill="none" stroke="#333" stroke-width="0.55" stroke-linejoin="round" stroke-linecap="round" />
<ellipse cx="446.5" cy="503.0" rx="29.5" ry="46.0" fill="#fff" stroke="#1e1e1e" stroke-width="1.1" transform="rotate(26 446.5 503.0)" />
<ellipse cx="447.5" cy="503.5" rx="21.0" ry="34.5" fill="#fff" stroke="#1e1e1e" stroke-width="1.0" transform="rotate(26 447.5 503.5)" />
<clipPath id="c32"><ellipse cx="447.5" cy="503.5" rx="21" ry="34.5" transform="rotate(26 447.5 503.5)"/></clipPath>
<g clip-path="url(#c32)"><ellipse cx="432.0" cy="496.0" rx="20.5" ry="34.0" fill="none" stroke="#333" stroke-width="0.8" transform="rotate(26 432.0 496.0)" /><ellipse cx="439.8" cy="499.8" rx="20.5" ry="34.0" fill="none" stroke="#333" stroke-width="0.6" transform="rotate(26 439.8 499.8)" /><path d="M463.6,474.4 L452.8,469.1" fill="none" stroke="#444" stroke-width="0.5" stroke-linejoin="round" stroke-linecap="round" /><path d="M465.9,477.3 L455.0,472.1" fill="none" stroke="#444" stroke-width="0.5" stroke-linejoin="round" stroke-linecap="round" /><path d="M467.5,481.0 L456.7,475.8" fill="none" stroke="#444" stroke-width="0.5" stroke-linejoin="round" stroke-linecap="round" /><path d="M468.5,485.3 L457.7,480.1" fill="none" stroke="#444" stroke-width="0.5" stroke-linejoin="round" stroke-linecap="round" /><path d="M468.9,490.1 L458.0,484.9" fill="none" stroke="#444" stroke-width="0.5" stroke-linejoin="round" stroke-linecap="round" /><path d="M468.5,495.3 L457.7,490.0" fill="none" stroke="#444" stroke-width="0.5" stroke-linejoin="round" stroke-linecap="round" /><path d="M467.5,500.7 L456.7,495.4" fill="none" stroke="#444" stroke-width="0.5" stroke-linejoin="round" stroke-linecap="round" /><path d="M465.9,506.1 L455.0,500.8" fill="none" stroke="#444" stroke-width="0.5" stroke-linejoin="round" stroke-linecap="round" /><path d="M463.6,511.4 L452.8,506.1" fill="none" stroke="#444" stroke-width="0.5" stroke-linejoin="round" stroke-linecap="round" /><path d="M460.8,516.4 L450.0,511.2" fill="none" stroke="#444" stroke-width="0.5" stroke-linejoin="round" stroke-linecap="round" /><path d="M457.6,521.0 L446.7,515.8" fill="none" stroke="#444" stroke-width="0.5" stroke-linejoin="round" stroke-linecap="round" /><path d="M454.0,525.1 L443.1,519.9" fill="none" stroke="#444" stroke-width="0.5" stroke-linejoin="round" stroke-linecap="round" /><path d="M450.1,528.6 L439.3,523.3" fill="none" stroke="#444" stroke-width="0.5" stroke-linejoin="round" stroke-linecap="round" /><path d="M446.1,531.3 L435.3,526.0" fill="none" stroke="#444" stroke-width="0.5" stroke-linejoin="round" stroke-linecap="round" /><path d="M442.1,533.1 L431.3,527.9" fill="none" stroke="#444" stroke-width="0.5" stroke-linejoin="round" stroke-linecap="round" /><path d="M438.2,534.1 L427.3,528.8" fill="none" stroke="#444" stroke-width="0.5" stroke-linejoin="round" stroke-linecap="round" /><path d="M434.5,534.1 L423.6,528.9" fill="none" stroke="#444" stroke-width="0.5" stroke-linejoin="round" stroke-linecap="round" /></g>
<ellipse cx="519.0" cy="550.5" rx="45.5" ry="66.0" fill="#fff" stroke="#1e1e1e" stroke-width="1.3" transform="rotate(25 519.0 550.5)" />
<path d="M513.1,620.8 L491.1,610.3 L546.9,490.7 L568.9,501.2 Z" fill="#fff" stroke="none"/>
<path d="M513.1,620.8 L491.1,610.3 M568.9,501.2 L546.9,490.7" stroke="#1e1e1e" stroke-width="1.3" fill="none"/>
<path d="M490.6,602.1 L487.8,595.4 L478.5,591.0 L481.4,597.7 Z" fill="#fff" stroke="#1e1e1e" stroke-width="0.9" stroke-linejoin="round" stroke-linecap="round" />
<path d="M485.6,586.9 L484.7,578.8 L475.5,574.4 L476.3,582.5 Z" fill="#fff" stroke="#1e1e1e" stroke-width="0.9" stroke-linejoin="round" stroke-linecap="round" />
<path d="M484.9,569.1 L486.1,560.4 L476.8,556.0 L475.6,564.7 Z" fill="#fff" stroke="#1e1e1e" stroke-width="0.9" stroke-linejoin="round" stroke-linecap="round" />
<path d="M488.6,550.4 L491.8,541.7 L482.5,537.3 L479.4,546.0 Z" fill="#fff" stroke="#1e1e1e" stroke-width="0.9" stroke-linejoin="round" stroke-linecap="round" />
<path d="M496.4,532.3 L501.3,524.5 L492.0,520.1 L487.2,527.9 Z" fill="#fff" stroke="#1e1e1e" stroke-width="0.9" stroke-linejoin="round" stroke-linecap="round" />
<path d="M507.6,516.4 L513.8,510.3 L504.5,505.8 L498.4,512.0 Z" fill="#fff" stroke="#1e1e1e" stroke-width="0.9" stroke-linejoin="round" stroke-linecap="round" />
<path d="M521.2,504.3 L528.1,500.3 L518.8,495.9 L512.0,499.9 Z" fill="#fff" stroke="#1e1e1e" stroke-width="0.9" stroke-linejoin="round" stroke-linecap="round" />
<path d="M536.0,497.0 L542.9,495.4 L533.7,491.0 L526.8,492.6 Z" fill="#fff" stroke="#1e1e1e" stroke-width="0.9" stroke-linejoin="round" stroke-linecap="round" />
<ellipse cx="541.0" cy="561.0" rx="45.5" ry="66.0" fill="#fff" stroke="#1e1e1e" stroke-width="1.3" transform="rotate(25 541.0 561.0)" />
<ellipse cx="541.3" cy="561.2" rx="42.5" ry="63.0" fill="none" stroke="#333" stroke-width="0.8" transform="rotate(25 541.3 561.2)" />
<ellipse cx="541.8" cy="561.6" rx="39.0" ry="59.0" fill="none" stroke="#1e1e1e" stroke-width="1.0" transform="rotate(25 541.8 561.6)" />
<clipPath id="c34"><ellipse cx="541.8" cy="561.6" rx="39" ry="59" transform="rotate(25 541.8 561.6)"/></clipPath>
<g clip-path="url(#c34)"><ellipse cx="526.4" cy="554.2" rx="39.0" ry="59.0" fill="none" stroke="#333" stroke-width="0.8" transform="rotate(25 526.4 554.2)" /></g>
<ellipse cx="529.5" cy="552.3" rx="11.5" ry="15.0" fill="#fff" stroke="#1e1e1e" stroke-width="1.1" transform="rotate(25 529.5 552.3)" />
<ellipse cx="561.0" cy="530.4" rx="2.6" ry="3.8" fill="#fff" stroke="#1e1e1e" stroke-width="0.9" transform="rotate(25 561.0 530.4)" />
<ellipse cx="533.8" cy="586.4" rx="2.6" ry="3.8" fill="#fff" stroke="#1e1e1e" stroke-width="0.9" transform="rotate(25 533.8 586.4)" />
<ellipse cx="593.0" cy="588.8" rx="10.2" ry="13.2" fill="#fff" stroke="#1e1e1e" stroke-width="1.1" transform="rotate(25 593.0 588.8)" />
<ellipse cx="593.6" cy="589.0" rx="5.4" ry="7.3" fill="#fff" stroke="#1e1e1e" stroke-width="0.9" transform="rotate(25 593.6 589.0)" />
<ellipse cx="613.5" cy="601.1" rx="8.5" ry="11.5" fill="#fff" stroke="#1e1e1e" stroke-width="1.0" transform="rotate(25 613.5 601.1)" />
<path d="M613.6,613.9 L608.6,611.5 L618.4,590.7 L623.4,593.1 Z" fill="#fff" stroke="none"/>
<path d="M613.6,613.9 L608.6,611.5 M623.4,593.1 L618.4,590.7" stroke="#1e1e1e" stroke-width="1.0" fill="none"/>
<path d="M622.9,611.6 L613.8,614.0 L609.4,605.9 L614.1,595.4 L623.2,593.0 L627.6,601.1 Z" fill="#fff" stroke="#1e1e1e" stroke-width="1.0" stroke-linejoin="round" stroke-linecap="round" />
<ellipse cx="620.2" cy="604.3" rx="4.5" ry="6.0" fill="#fff" stroke="#1e1e1e" stroke-width="0.9" transform="rotate(25 620.2 604.3)" />
<ellipse cx="620.5" cy="604.5" rx="2.8" ry="3.8" fill="#fff" stroke="#444" stroke-width="0.6" transform="rotate(25 620.5 604.5)" />
<path d="M434.7,615.7 L512,662.2 Q515.6,664 516.4,669 Q517.6,664.6 521,664.8 L594.5,706.5" fill="none" stroke="#111" stroke-width="2.0" stroke-linejoin="round" stroke-linecap="round" />
<path d="M235.2,90.6 L241.7,90.6 L250.0,87.0 L257.3,80.8" fill="none" stroke="#4a4a4a" stroke-width="0.75" stroke-linejoin="round" stroke-linecap="round" />
<path d="M252.7,116.0 L257.3,116.0 L276.2,93.9" fill="none" stroke="#4a4a4a" stroke-width="0.75" stroke-linejoin="round" stroke-linecap="round" />
<path d="M321.7,80.2 L315.9,80.2 L306.8,94.5" fill="none" stroke="#4a4a4a" stroke-width="0.75" stroke-linejoin="round" stroke-linecap="round" />
<path d="M359.2,90.8 L352.9,90.8 L346.7,109.0" fill="none" stroke="#4a4a4a" stroke-width="0.75" stroke-linejoin="round" stroke-linecap="round" />
<path d="M388.3,106.9 L383.1,106.9 L369.6,131.9" fill="none" stroke="#4a4a4a" stroke-width="0.75" stroke-linejoin="round" stroke-linecap="round" />
<path d="M416.5,121.5 L410.2,121.5 L394.6,149.6" fill="none" stroke="#4a4a4a" stroke-width="0.75" stroke-linejoin="round" stroke-linecap="round" />
<path d="M431.0,143.3 L424.8,143.3 L416.0,149.0 L409.2,156.9" fill="none" stroke="#4a4a4a" stroke-width="0.75" stroke-linejoin="round" stroke-linecap="round" />
<path d="M295.6,186.0 L301.9,186.0 L316.5,164.2" fill="none" stroke="#4a4a4a" stroke-width="0.75" stroke-linejoin="round" stroke-linecap="round" />
<path d="M319.6,205.2 L325.8,205.2 L338.3,176.7" fill="none" stroke="#4a4a4a" stroke-width="0.75" stroke-linejoin="round" stroke-linecap="round" />
<path d="M696.9,126.9 L689.6,126.9 L683.3,139.4" fill="none" stroke="#4a4a4a" stroke-width="0.75" stroke-linejoin="round" stroke-linecap="round" />
<path d="M720.8,143.5 L714.6,143.5 L707.3,156.0" fill="none" stroke="#4a4a4a" stroke-width="0.75" stroke-linejoin="round" stroke-linecap="round" />
<path d="M840.5,84.0 L846.0,84.5 L852.0,90.0 L857.8,99.0" fill="none" stroke="#4a4a4a" stroke-width="0.75" stroke-linejoin="round" stroke-linecap="round" />
<path d="M1067.2,152.2 L1059.4,152.2 L1046.9,180.3" fill="none" stroke="#4a4a4a" stroke-width="0.75" stroke-linejoin="round" stroke-linecap="round" />
<path d="M1109.4,176.3 L1101.6,177.2 L1079.7,206.9" fill="none" stroke="#4a4a4a" stroke-width="0.75" stroke-linejoin="round" stroke-linecap="round" />
<path d="M1101.6,177.2 L1090.6,213.1" fill="none" stroke="#4a4a4a" stroke-width="0.75" stroke-linejoin="round" stroke-linecap="round" />
<path d="M904.7,196.0 L893.8,197.5 L889.0,200.6" fill="none" stroke="#4a4a4a" stroke-width="0.75" stroke-linejoin="round" stroke-linecap="round" />
<path d="M822.8,228.6 L815.5,228.6 L805.1,243.0" fill="none" stroke="#4a4a4a" stroke-width="0.75" stroke-linejoin="round" stroke-linecap="round" />
<path d="M868.1,270.8 L862.4,270.8 L842.9,295.0" fill="none" stroke="#4a4a4a" stroke-width="0.75" stroke-linejoin="round" stroke-linecap="round" />
<path d="M862.4,270.8 L861.1,302.9" fill="none" stroke="#4a4a4a" stroke-width="0.75" stroke-linejoin="round" stroke-linecap="round" />
<path d="M913.2,302.0 L906.7,302.0 L893.6,325.0" fill="none" stroke="#4a4a4a" stroke-width="0.75" stroke-linejoin="round" stroke-linecap="round" />
<path d="M763.4,362.8 L768.6,362.8 L779.0,349.7" fill="none" stroke="#4a4a4a" stroke-width="0.75" stroke-linejoin="round" stroke-linecap="round" />
<path d="M802.5,377.0 L808.2,377.0 L824.6,351.0" fill="none" stroke="#4a4a4a" stroke-width="0.75" stroke-linejoin="round" stroke-linecap="round" />
<path d="M839.0,386.2 L845.5,386.2 L855.9,368.0" fill="none" stroke="#4a4a4a" stroke-width="0.75" stroke-linejoin="round" stroke-linecap="round" />
<path d="M1052.6,350.8 L1045.1,350.8 L1037.7,384.5" fill="none" stroke="#4a4a4a" stroke-width="0.75" stroke-linejoin="round" stroke-linecap="round" />
<path d="M1113.0,410.2 L1107.0,410.2 L1094.7,431.5" fill="none" stroke="#4a4a4a" stroke-width="0.75" stroke-linejoin="round" stroke-linecap="round" />
<path d="M830.8,424.0 L837.2,425.0 L845.6,447.8" fill="none" stroke="#4a4a4a" stroke-width="0.75" stroke-linejoin="round" stroke-linecap="round" />
<path d="M1089.7,475.0 L1083.3,475.0 L1067.4,497.3" fill="none" stroke="#4a4a4a" stroke-width="0.75" stroke-linejoin="round" stroke-linecap="round" />
<path d="M849.6,509.2 L857.0,509.2 L864.5,487.4" fill="none" stroke="#4a4a4a" stroke-width="0.75" stroke-linejoin="round" stroke-linecap="round" />
<path d="M1078.3,551.3 L1071.4,551.3 L1060.0,576.0" fill="none" stroke="#4a4a4a" stroke-width="0.75" stroke-linejoin="round" stroke-linecap="round" />
<path d="M1117.9,572.6 L1111.0,572.6 L1102.0,592.4" fill="none" stroke="#4a4a4a" stroke-width="0.75" stroke-linejoin="round" stroke-linecap="round" />
<path d="M1046.1,692.9 L1052.6,692.9 L1060.0,671.6" fill="none" stroke="#4a4a4a" stroke-width="0.75" stroke-linejoin="round" stroke-linecap="round" />
<path d="M305.3,552.5 L312.3,552.5 L327.5,510.3" fill="none" stroke="#4a4a4a" stroke-width="0.75" stroke-linejoin="round" stroke-linecap="round" />
<path d="M401.3,562.0 L407.3,562.0 L418.9,542.0" fill="none" stroke="#4a4a4a" stroke-width="0.75" stroke-linejoin="round" stroke-linecap="round" />
<path d="M465.3,616.7 L471.8,616.7 L479.6,604.0" fill="none" stroke="#4a4a4a" stroke-width="0.75" stroke-linejoin="round" stroke-linecap="round" />
<path d="M557.7,630.0 L564.6,630.0 L585.1,602.0" fill="none" stroke="#4a4a4a" stroke-width="0.75" stroke-linejoin="round" stroke-linecap="round" />
<path d="M570.4,650.9 L576.3,650.9 L606.6,615.7" fill="none" stroke="#4a4a4a" stroke-width="0.75" stroke-linejoin="round" stroke-linecap="round" />
<path d="M600.7,694.8 L607.6,694.8 L620.0,691.0 L631.0,685.0" fill="none" stroke="#4a4a4a" stroke-width="0.75" stroke-linejoin="round" stroke-linecap="round" />
<path d="M197.2,486.7 L204.4,486.1 L225.8,460.3" fill="none" stroke="#4a4a4a" stroke-width="0.75" stroke-linejoin="round" stroke-linecap="round" />
<path d="M237.3,520.5 L243.0,520.5 L254.5,506.1" fill="none" stroke="#4a4a4a" stroke-width="0.75" stroke-linejoin="round" stroke-linecap="round" />
<path d="M123.3,360.6 L128.5,360.6 L133.8,343.0" fill="none" stroke="#4a4a4a" stroke-width="0.75" stroke-linejoin="round" stroke-linecap="round" />
<path d="M144.6,387.7 L149.4,387.7 L156.7,367.9" fill="none" stroke="#4a4a4a" stroke-width="0.75" stroke-linejoin="round" stroke-linecap="round" />
<path d="M177.5,406.5 L184.8,406.5 L195.2,387.7" fill="none" stroke="#4a4a4a" stroke-width="0.75" stroke-linejoin="round" stroke-linecap="round" />
<path d="M678.2,512.6 L670.7,512.6 L658.5,533.0" fill="none" stroke="#4a4a4a" stroke-width="0.75" stroke-linejoin="round" stroke-linecap="round" />
<path d="M691.7,532.3 L685.6,532.3 L678.2,543.0" fill="none" stroke="#4a4a4a" stroke-width="0.75" stroke-linejoin="round" stroke-linecap="round" />
<path d="M801.7,634.5 L794.3,634.5 L784.8,653.1" fill="none" stroke="#4a4a4a" stroke-width="0.75" stroke-linejoin="round" stroke-linecap="round" />
<path d="M726.8,316.6 L721.1,316.6 L714.3,293.2" fill="none" stroke="#4a4a4a" stroke-width="0.75" stroke-linejoin="round" stroke-linecap="round" />
<path d="M679.6,417.0 L674.0,417.0 L662.6,402.6" fill="none" stroke="#4a4a4a" stroke-width="0.75" stroke-linejoin="round" stroke-linecap="round" />
<path d="M653.2,456.2 L647.5,456.2 L640.0,440.4" fill="none" stroke="#4a4a4a" stroke-width="0.75" stroke-linejoin="round" stroke-linecap="round" />
<path d="M281.7,514.7 L293.1,481.8 L301.7,486.1" fill="none" stroke="#777" stroke-width="0.6" stroke-dasharray="4,2,1,2" stroke-linejoin="round" stroke-linecap="round" />
<path d="M401.0,191.1 C402.0,190.5 404.8,188.7 406.9,187.6 C409.0,186.5 411.2,184.8 413.9,184.6 C416.6,184.4 419.8,185.8 423.3,186.4 C426.8,187.0 430.9,187.8 435.0,188.2 C439.1,188.6 443.4,188.8 447.9,188.8 C452.4,188.8 456.6,188.8 462.0,188.2 C467.4,187.6 475.7,186.0 480.0,185.2 C484.3,184.4 483.8,184.6 487.6,183.3 C491.4,182.0 498.9,179.4 502.8,177.4 C506.7,175.4 508.3,173.6 511.0,171.6 C513.7,169.6 516.9,167.7 519.2,165.7 C521.6,163.7 523.2,161.5 525.1,159.8 C527.0,158.1 528.0,156.6 530.9,155.7 C533.8,154.8 538.0,153.6 542.7,154.6 C547.4,155.6 554.8,159.9 559.1,161.6 C563.4,163.2 566.5,163.2 568.4,164.5 C570.3,165.8 570.4,167.4 570.8,169.2 C571.2,171.0 571.4,173.9 570.8,175.1 C570.2,176.3 567.9,176.1 567.3,176.3" fill="none" stroke="#4d4d4d" stroke-width="0.85" stroke-linejoin="round" stroke-linecap="round" />
<path d="M401.0,191.1 C401.2,191.5 399.6,192.2 402.2,193.4 C404.8,194.6 411.6,196.3 416.3,198.1 C421.0,199.9 426.0,202.6 430.3,204.0 C434.6,205.4 438.1,205.9 442.0,206.3 C445.9,206.7 450.3,205.9 453.8,206.3 C457.3,206.7 458.7,207.3 463.1,208.7 C467.5,210.1 477.2,213.5 480.0,214.5" fill="none" stroke="#4d4d4d" stroke-width="0.85" stroke-linejoin="round" stroke-linecap="round" />
<path d="M470.0,191.5 C473.3,190.9 484.0,189.4 489.9,188.0 C495.8,186.6 500.7,185.2 505.2,183.3 C509.7,181.4 513.0,178.2 516.9,176.3 C520.8,174.4 523.7,173.2 528.6,171.6 C533.5,170.0 541.9,168.1 546.2,166.9 C550.5,165.7 553.0,164.9 554.4,164.5" fill="none" stroke="#4d4d4d" stroke-width="0.85" stroke-linejoin="round" stroke-linecap="round" />
<path d="M504.0,200.9 C506.9,199.5 515.6,195.2 521.6,192.7 C527.6,190.1 535.6,187.8 540.3,185.6 C545.0,183.4 545.8,181.4 549.7,179.8 C553.6,178.2 561.4,176.9 563.8,176.3" fill="none" stroke="#4d4d4d" stroke-width="0.85" stroke-linejoin="round" stroke-linecap="round" />
<path d="M508.7,204.4 C511.0,203.6 517.4,201.3 522.7,199.7 C528.0,198.1 535.8,195.8 540.3,195.0 C544.8,194.2 548.1,195.0 549.7,195.0" fill="none" stroke="#4d4d4d" stroke-width="0.85" stroke-linejoin="round" stroke-linecap="round" />
<path d="M401.0,191.1 L399.8,195.2 L394.0,198.1 L392.2,205.2 L394.6,208.7" fill="none" stroke="#4d4d4d" stroke-width="0.85" stroke-linejoin="round" stroke-linecap="round" />
<path d="M394.0,208.7 C394.0,209.7 394.4,212.8 394.0,214.5 C393.6,216.2 393.4,215.9 391.6,219.2 C389.8,222.5 386.3,229.0 383.4,234.5 C380.5,240.0 375.7,246.2 374.1,252.0 C372.5,257.8 373.3,263.3 373.7,269.5 C374.1,275.7 376.4,284.5 376.6,289.1 C376.8,293.7 374.9,294.6 374.7,296.9 C374.5,299.2 373.8,300.9 375.6,302.8 C377.4,304.8 382.5,304.4 385.4,308.6 C388.3,312.8 389.9,319.7 393.2,328.2 C396.5,336.7 402.7,353.2 405.0,359.4 C407.3,365.6 404.0,362.7 406.9,365.3 C409.8,367.9 418.9,373.5 422.5,375.1 C426.1,376.7 427.4,375.1 428.4,375.1" fill="none" stroke="#4d4d4d" stroke-width="0.85" stroke-linejoin="round" stroke-linecap="round" />
<path d="M395.2,197.5 L413.9,204.0" fill="none" stroke="#4d4d4d" stroke-width="0.85" stroke-linejoin="round" stroke-linecap="round" />
<path d="M396.3,213.4 L411.6,219.2" fill="none" stroke="#4d4d4d" stroke-width="0.85" stroke-linejoin="round" stroke-linecap="round" />
<path d="M398.7,227.4 L429.1,242.7" fill="none" stroke="#4d4d4d" stroke-width="0.85" stroke-linejoin="round" stroke-linecap="round" />
<path d="M377.6,250.9 L398.7,260.0" fill="none" stroke="#4d4d4d" stroke-width="0.85" stroke-linejoin="round" stroke-linecap="round" />
<path d="M423.3,208.7 L440.9,216.9 L440.9,220.4" fill="none" stroke="#4d4d4d" stroke-width="0.85" stroke-linejoin="round" stroke-linecap="round" />
<path d="M457.3,212.2 L464.3,231.0 L480.0,238.0" fill="none" stroke="#4d4d4d" stroke-width="0.85" stroke-linejoin="round" stroke-linecap="round" />
<path d="M418.6,221.6 L430.3,226.3" fill="none" stroke="#4d4d4d" stroke-width="0.85" stroke-linejoin="round" stroke-linecap="round" />
<path d="M428.0,245.0 L418.6,260.0" fill="none" stroke="#4d4d4d" stroke-width="0.85" stroke-linejoin="round" stroke-linecap="round" />
<ellipse cx="416.3" cy="212.2" rx="3.8" ry="5.2" fill="none" stroke="#4d4d4d" stroke-width="0.85" transform="rotate(15 416.3 212.2)" />
<ellipse cx="416.5" cy="212.3" rx="2.2" ry="3.2" fill="none" stroke="#4d4d4d" stroke-width="0.85" transform="rotate(15 416.5 212.3)" />
<ellipse cx="445.5" cy="197.5" rx="8.2" ry="4.0" fill="none" stroke="#4d4d4d" stroke-width="0.85" />
<path d="M438.0,199.0 C439.2,198.7 443.0,197.3 445.5,197.3 C448.0,197.3 451.8,198.7 453.0,199.0" fill="none" stroke="#4d4d4d" stroke-width="0.85" stroke-linejoin="round" stroke-linecap="round" />
<ellipse cx="536.8" cy="147.5" rx="8.2" ry="5.0" fill="none" stroke="#4d4d4d" stroke-width="0.85" />
<path d="M530.0,149.5 C531.1,149.1 534.5,147.3 536.8,147.3 C539.0,147.3 542.4,149.1 543.5,149.5" fill="none" stroke="#4d4d4d" stroke-width="0.85" stroke-linejoin="round" stroke-linecap="round" />
<path d="M462.0,191.5 C463.5,190.3 467.0,190.1 470.0,190.0 C473.0,189.9 478.2,189.7 480.0,191.0 C481.8,192.3 482.0,195.8 481.0,198.0 C480.0,200.2 476.5,203.2 474.0,204.0 C471.5,204.8 468.2,204.2 466.0,203.0 C463.8,201.8 461.7,198.9 461.0,197.0 C460.3,195.1 460.5,192.7 462.0,191.5 Z" fill="none" stroke="#4d4d4d" stroke-width="0.85" stroke-linejoin="round" stroke-linecap="round" />
<ellipse cx="449.0" cy="241.5" rx="19.0" ry="17.6" fill="none" stroke="#4d4d4d" stroke-width="0.85" transform="rotate(20 449.0 241.5)" />
<ellipse cx="449.6" cy="241.5" rx="11.5" ry="11.0" fill="none" stroke="#4d4d4d" stroke-width="0.85" transform="rotate(20 449.6 241.5)" />
<path d="M441.0,236.0 C442.3,235.5 446.3,232.7 449.0,233.0 C451.7,233.3 455.7,237.2 457.0,238.0" fill="none" stroke="#4d4d4d" stroke-width="0.6" stroke-linejoin="round" stroke-linecap="round" />
<path d="M442.2,236.8 C443.5,236.4 447.3,234.0 449.8,234.5 C452.3,235.0 455.8,238.8 457.0,239.6" fill="none" stroke="#4d4d4d" stroke-width="0.6" stroke-linejoin="round" stroke-linecap="round" />
<path d="M443.4,237.6 C444.6,237.3 448.3,235.4 450.6,236.0 C452.9,236.6 455.9,240.3 457.0,241.2" fill="none" stroke="#4d4d4d" stroke-width="0.6" stroke-linejoin="round" stroke-linecap="round" />
<path d="M444.6,238.4 C445.7,238.2 449.3,236.8 451.4,237.5 C453.5,238.2 456.1,241.9 457.0,242.8" fill="none" stroke="#4d4d4d" stroke-width="0.6" stroke-linejoin="round" stroke-linecap="round" />
<path d="M445.8,239.2 C446.9,239.2 450.3,238.1 452.2,239.0 C454.1,239.9 456.2,243.5 457.0,244.4" fill="none" stroke="#4d4d4d" stroke-width="0.6" stroke-linejoin="round" stroke-linecap="round" />
<path d="M508.7,134.1 C509.5,133.6 510.1,130.5 513.4,131.1 C516.7,131.7 523.7,135.8 528.6,137.6 C533.5,139.4 538.8,140.7 542.7,141.7 C546.6,142.7 549.9,143.4 552.0,143.4 C554.1,143.4 554.3,142.7 555.5,141.7 C556.7,140.7 557.9,139.5 559.1,137.6 C560.3,135.7 561.4,132.7 562.6,130.5 C563.8,128.3 565.3,126.3 566.1,124.7 C566.9,123.1 567.0,121.5 567.2,120.9" fill="none" stroke="#4d4d4d" stroke-width="0.85" stroke-linejoin="round" stroke-linecap="round" />
<path d="M508.7,134.1 L508.7,143.4 L511.0,158.7 L512.2,168.0" fill="none" stroke="#4d4d4d" stroke-width="0.85" stroke-linejoin="round" stroke-linecap="round" />
<path d="M513.4,145.8 C514.2,147.0 517.4,150.3 518.0,152.8 C518.6,155.3 517.5,158.7 516.9,161.0 C516.3,163.3 514.9,165.9 514.5,166.9" fill="none" stroke="#4d4d4d" stroke-width="0.85" stroke-linejoin="round" stroke-linecap="round" />
<path d="M526.3,162.2 L526.3,179.8" fill="none" stroke="#4d4d4d" stroke-width="0.85" stroke-linejoin="round" stroke-linecap="round" />
<path d="M542.7,155.2 L542.7,170.4" fill="none" stroke="#4d4d4d" stroke-width="0.85" stroke-linejoin="round" stroke-linecap="round" />
<path d="M548.5,181.0 L548.5,195.0" fill="none" stroke="#4d4d4d" stroke-width="0.85" stroke-linejoin="round" stroke-linecap="round" />
<path d="M567.3,179.8 L567.3,195.0" fill="none" stroke="#4d4d4d" stroke-width="0.85" stroke-linejoin="round" stroke-linecap="round" />
<path d="M556.7,182.0 L556.7,193.0" fill="none" stroke="#4d4d4d" stroke-width="0.85" stroke-linejoin="round" stroke-linecap="round" />
<path d="M474.7,192.7 L474.7,204.4" fill="none" stroke="#4d4d4d" stroke-width="0.85" stroke-linejoin="round" stroke-linecap="round" />
<ellipse cx="562.6" cy="170.4" rx="2.6" ry="2.2" fill="none" stroke="#4d4d4d" stroke-width="0.85" />
<ellipse cx="498.1" cy="207.3" rx="2.6" ry="2.2" fill="none" stroke="#4d4d4d" stroke-width="0.85" />
<path d="M573.1,159.8 L590.0,166.9" fill="none" stroke="#4d4d4d" stroke-width="0.85" stroke-linejoin="round" stroke-linecap="round" />
<path d="M567.2,120.9 C568.0,118.6 569.5,110.5 571.9,106.9 C574.2,103.3 578.2,100.8 581.3,99.1 C584.4,97.4 587.2,96.5 590.6,96.7 C594.0,97.0 597.4,98.6 601.6,100.6 C605.8,102.5 611.4,106.6 615.6,108.4 C619.8,110.2 624.0,110.3 626.6,111.6 C629.2,112.9 630.1,114.0 631.3,116.3 C632.5,118.6 633.1,122.8 633.6,125.6 C634.1,128.4 633.2,131.6 634.4,133.4 C635.6,135.2 638.8,135.6 640.6,136.6 C642.4,137.6 644.4,138.4 645.3,139.7 C646.2,141.0 646.4,143.1 646.1,144.4 C645.9,145.7 644.2,147.0 643.8,147.5" fill="none" stroke="#4d4d4d" stroke-width="0.85" stroke-linejoin="round" stroke-linecap="round" />
<path d="M598.4,135.0 C599.2,133.4 601.3,127.9 603.1,125.6 C604.9,123.2 606.8,122.1 609.4,120.9 C612.0,119.7 615.7,118.6 618.8,118.6 C621.9,118.6 625.9,119.2 628.1,120.9 C630.3,122.6 631.1,126.7 632.0,128.8 C632.9,130.9 633.3,132.6 633.6,133.4" fill="none" stroke="#4d4d4d" stroke-width="0.85" stroke-linejoin="round" stroke-linecap="round" />
<path d="M606.3,138.1 C606.8,136.8 607.8,132.6 609.4,130.3 C611.0,128.0 613.3,125.4 615.6,124.1 C617.9,122.8 622.1,122.8 623.4,122.5" fill="none" stroke="#4d4d4d" stroke-width="0.85" stroke-linejoin="round" stroke-linecap="round" />
<path d="M567.2,120.9 C566.9,122.7 566.9,128.8 565.6,131.9 C564.3,135.0 560.7,137.6 559.4,139.7 C558.1,141.8 558.3,142.6 557.8,144.4 C557.3,146.2 556.5,149.6 556.3,150.6" fill="none" stroke="#4d4d4d" stroke-width="0.85" stroke-linejoin="round" stroke-linecap="round" />
<path d="M567.2,125.6 L609.4,144.4" fill="none" stroke="#4d4d4d" stroke-width="0.85" stroke-linejoin="round" stroke-linecap="round" />
<path d="M559.4,143.6 L601.6,160.0" fill="none" stroke="#4d4d4d" stroke-width="0.85" stroke-linejoin="round" stroke-linecap="round" />
<path d="M550.0,150.0 L590.0,167.0" fill="none" stroke="#4d4d4d" stroke-width="0.85" stroke-linejoin="round" stroke-linecap="round" />
<ellipse cx="604.7" cy="149.1" rx="3.5" ry="3.5" fill="none" stroke="#4d4d4d" stroke-width="0.85" />
<ellipse cx="604.7" cy="149.1" rx="1.6" ry="1.6" fill="none" stroke="#4d4d4d" stroke-width="0.85" />
<ellipse cx="642.2" cy="143.6" rx="3.5" ry="3.5" fill="none" stroke="#4d4d4d" stroke-width="0.85" />
<ellipse cx="642.2" cy="143.6" rx="1.6" ry="1.6" fill="none" stroke="#4d4d4d" stroke-width="0.85" />
<path d="M609.4,147.5 C608.6,149.3 606.0,154.8 604.7,158.4 C603.4,162.1 602.9,166.0 601.6,169.4 C600.3,172.8 599.0,175.9 596.9,178.8 C594.8,181.7 591.7,184.0 589.1,186.6 C586.5,189.2 583.6,191.3 581.3,194.4 C578.9,197.5 576.5,204.5 575.0,205.0 C573.5,205.5 573.4,197.2 572.5,197.5 C571.6,197.8 570.7,204.6 569.4,206.9 C568.1,209.2 566.3,210.6 564.7,211.6 C563.1,212.6 560.8,212.8 560.0,213.1" fill="none" stroke="#4d4d4d" stroke-width="0.85" stroke-linejoin="round" stroke-linecap="round" />
<path d="M612.0,150.0 C611.2,152.5 608.5,160.7 607.0,165.0 C605.5,169.3 604.7,172.8 603.0,176.0 C601.3,179.2 599.8,181.2 597.0,184.0 C594.2,186.8 589.2,189.8 586.0,193.0 C582.8,196.2 579.8,199.8 578.0,203.0 C576.2,206.2 575.5,210.5 575.0,212.0" fill="none" stroke="#4d4d4d" stroke-width="0.85" stroke-linejoin="round" stroke-linecap="round" />
<path d="M643.8,147.5 C643.5,148.8 643.0,152.2 642.2,155.3 C641.4,158.4 639.9,162.4 639.1,166.3 C638.3,170.2 638.8,175.2 637.5,178.8 C636.2,182.4 633.6,185.0 631.3,188.1 C628.9,191.2 625.5,194.7 623.4,197.5 C621.3,200.3 619.6,203.8 618.8,205.0" fill="none" stroke="#4d4d4d" stroke-width="0.85" stroke-linejoin="round" stroke-linecap="round" />
<path d="M646.9,158.4 C649.0,157.6 654.7,153.8 659.4,153.8 C664.1,153.8 670.3,155.8 675.0,158.4 C679.7,161.0 684.6,166.0 687.5,169.4 C690.4,172.8 691.7,175.2 692.2,178.8 C692.7,182.5 691.9,187.7 690.6,191.3 C689.3,194.9 685.4,199.1 684.4,200.6" fill="none" stroke="#4d4d4d" stroke-width="0.85" stroke-linejoin="round" stroke-linecap="round" />
<path d="M652.0,166.0 C653.8,165.3 659.2,162.0 663.0,162.0 C666.8,162.0 671.5,163.7 675.0,166.0 C678.5,168.3 682.2,172.3 684.0,176.0 C685.8,179.7 685.7,186.0 686.0,188.0" fill="none" stroke="#4d4d4d" stroke-width="0.85" stroke-linejoin="round" stroke-linecap="round" />
<path d="M650.0,160.0 L656.3,169.4" fill="none" stroke="#4d4d4d" stroke-width="0.85" stroke-linejoin="round" stroke-linecap="round" />
<ellipse cx="653.0" cy="214.0" rx="19.5" ry="27.0" fill="none" stroke="#4d4d4d" stroke-width="0.85" transform="rotate(25 653.0 214.0)" />
<ellipse cx="654.0" cy="214.2" rx="16.5" ry="24.0" fill="none" stroke="#4d4d4d" stroke-width="0.85" transform="rotate(25 654.0 214.2)" />
<ellipse cx="654.8" cy="214.4" rx="13.0" ry="21.0" fill="none" stroke="#4d4d4d" stroke-width="0.85" transform="rotate(25 654.8 214.4)" />
<path d="M637.0,200.0 C637.7,198.7 639.2,194.2 641.0,192.0 C642.8,189.8 646.8,187.8 648.0,187.0" fill="none" stroke="#4d4d4d" stroke-width="0.85" stroke-linejoin="round" stroke-linecap="round" />
<path d="M678.8,169.4 C680.0,170.3 683.7,172.4 686.0,175.0 C688.3,177.6 691.8,181.0 692.8,185.0 C693.8,189.0 693.1,195.3 692.0,199.0 C690.9,202.7 687.0,205.7 686.0,207.0" fill="none" stroke="#4d4d4d" stroke-width="0.85" stroke-linejoin="round" stroke-linecap="round" />
<ellipse cx="624.0" cy="200.6" rx="3.0" ry="3.0" fill="none" stroke="#4d4d4d" stroke-width="0.85" />
<ellipse cx="608.4" cy="245.9" rx="3.0" ry="3.0" fill="none" stroke="#4d4d4d" stroke-width="0.85" />
<ellipse cx="605.3" cy="255.3" rx="3.0" ry="3.0" fill="none" stroke="#4d4d4d" stroke-width="0.85" />
<path d="M612.0,208.0 C613.0,206.3 615.3,201.3 618.0,198.0 C620.7,194.7 625.3,190.5 628.0,188.0 C630.7,185.5 633.0,183.8 634.0,183.0" fill="none" stroke="#4d4d4d" stroke-width="0.85" stroke-linejoin="round" stroke-linecap="round" />
<path d="M600.0,228.0 C601.7,228.7 606.7,230.0 610.0,232.0 C613.3,234.0 618.0,237.0 620.0,240.0 C622.0,243.0 623.3,246.3 622.0,250.0 C620.7,253.7 613.7,260.0 612.0,262.0" fill="none" stroke="#4d4d4d" stroke-width="0.85" stroke-linejoin="round" stroke-linecap="round" />
<path d="M574.0,200.0 L600.0,212.0" fill="none" stroke="#4d4d4d" stroke-width="0.85" stroke-linejoin="round" stroke-linecap="round" />
<path d="M580.0,186.0 L640.0,212.0" fill="none" stroke="#4d4d4d" stroke-width="0.85" stroke-linejoin="round" stroke-linecap="round" />
<path d="M590.0,212.0 L660.0,246.0" fill="none" stroke="#4d4d4d" stroke-width="0.85" stroke-linejoin="round" stroke-linecap="round" />
<path d="M570.0,230.0 L610.0,250.0" fill="none" stroke="#4d4d4d" stroke-width="0.85" stroke-linejoin="round" stroke-linecap="round" />
<path d="M477.5,257.2 C479.1,255.9 482.2,251.5 486.9,249.4 C491.6,247.3 499.9,245.8 505.6,244.7 C511.3,243.6 516.9,242.3 521.3,243.1 C525.7,243.9 530.1,246.0 532.2,249.4 C534.3,252.8 534.6,257.7 533.8,263.4 C533.0,269.1 530.6,277.8 527.5,283.8 C524.4,289.8 519.7,295.5 515.0,299.4 C510.3,303.3 504.1,305.4 499.4,307.2 C494.7,309.0 489.0,309.8 486.9,310.3" fill="none" stroke="#4d4d4d" stroke-width="0.85" stroke-linejoin="round" stroke-linecap="round" />
<path d="M519.7,241.6 C521.0,243.4 526.2,247.6 527.5,252.5 C528.8,257.4 529.1,265.1 527.5,271.3 C525.9,277.6 521.8,285.1 518.1,290.0 C514.5,294.9 510.3,298.0 505.6,300.9 C500.9,303.8 492.6,306.1 490.0,307.2" fill="none" stroke="#4d4d4d" stroke-width="0.85" stroke-linejoin="round" stroke-linecap="round" />
<path d="M477.0,255.0 C477.5,253.3 477.5,248.5 480.0,245.0 C482.5,241.5 487.0,236.8 492.0,234.0 C497.0,231.2 504.5,229.3 510.0,228.0 C515.5,226.7 520.0,225.7 525.0,226.0 C530.0,226.3 537.5,229.3 540.0,230.0" fill="none" stroke="#4d4d4d" stroke-width="0.85" stroke-linejoin="round" stroke-linecap="round" />
<ellipse cx="480.6" cy="283.8" rx="3.2" ry="3.2" fill="none" stroke="#4d4d4d" stroke-width="0.85" />
<ellipse cx="479.0" cy="304.8" rx="3.2" ry="3.2" fill="none" stroke="#4d4d4d" stroke-width="0.85" />
<ellipse cx="546.3" cy="294.7" rx="5.0" ry="6.0" fill="none" stroke="#4d4d4d" stroke-width="0.85" transform="rotate(20 546.3 294.7)" />
<ellipse cx="519.7" cy="336.9" rx="3.5" ry="3.5" fill="none" stroke="#4d4d4d" stroke-width="0.85" />
<ellipse cx="480.6" cy="352.5" rx="3.5" ry="3.5" fill="none" stroke="#4d4d4d" stroke-width="0.85" />
<path d="M471.3,305.6 C470.5,307.7 467.7,313.4 466.6,318.1 C465.6,322.8 465.0,328.6 465.0,333.8 C465.0,339.0 465.8,345.0 466.6,349.4 C467.4,353.8 469.2,358.2 469.7,360.0" fill="none" stroke="#4d4d4d" stroke-width="0.85" stroke-linejoin="round" stroke-linecap="round" />
<path d="M477.0,285.0 C476.5,286.7 475.5,291.7 474.0,295.0 C472.5,298.3 469.0,303.3 468.0,305.0" fill="none" stroke="#4d4d4d" stroke-width="0.85" stroke-linejoin="round" stroke-linecap="round" />
<path d="M440.0,260.3 L483.8,271.3" fill="none" stroke="#4d4d4d" stroke-width="0.85" stroke-linejoin="round" stroke-linecap="round" />
<path d="M440.0,276.0 L474.0,285.0" fill="none" stroke="#4d4d4d" stroke-width="0.85" stroke-linejoin="round" stroke-linecap="round" />
<path d="M440.0,293.0 L471.0,302.0" fill="none" stroke="#4d4d4d" stroke-width="0.85" stroke-linejoin="round" stroke-linecap="round" />
<path d="M440.0,301.0 L468.0,310.0" fill="none" stroke="#4d4d4d" stroke-width="0.85" stroke-linejoin="round" stroke-linecap="round" />
<path d="M527.5,305.6 L571.3,318.1" fill="none" stroke="#4d4d4d" stroke-width="0.85" stroke-linejoin="round" stroke-linecap="round" />
<path d="M527.5,313.0 L552.5,321.0" fill="none" stroke="#4d4d4d" stroke-width="0.85" stroke-linejoin="round" stroke-linecap="round" />
<path d="M505.6,324.4 L549.4,336.9" fill="none" stroke="#4d4d4d" stroke-width="0.85" stroke-linejoin="round" stroke-linecap="round" />
<path d="M533.0,318.0 L549.0,322.0" fill="none" stroke="#4d4d4d" stroke-width="0.85" stroke-linejoin="round" stroke-linecap="round" />
<path d="M499.4,327.5 L499.4,360.0" fill="none" stroke="#4d4d4d" stroke-width="0.85" stroke-linejoin="round" stroke-linecap="round" />
<ellipse cx="428.4" cy="368.2" rx="4.5" ry="4.5" fill="none" stroke="#4d4d4d" stroke-width="0.85" />
<ellipse cx="428.4" cy="368.2" rx="2.2" ry="2.2" fill="none" stroke="#4d4d4d" stroke-width="0.85" />
<ellipse cx="397.1" cy="305.7" rx="4.5" ry="5.0" fill="none" stroke="#4d4d4d" stroke-width="0.85" />
<ellipse cx="397.1" cy="305.7" rx="2.2" ry="2.5" fill="none" stroke="#4d4d4d" stroke-width="0.85" />
<path d="M424.5,324.3 C425.5,326.9 428.6,333.7 430.4,339.9 C432.2,346.1 434.7,356.8 435.2,361.4 C435.7,366.0 433.6,366.3 433.3,367.3" fill="none" stroke="#4d4d4d" stroke-width="0.85" stroke-linejoin="round" stroke-linecap="round" />
<path d="M374.7,295.0 L393.2,300.8 L424.5,310.6" fill="none" stroke="#4d4d4d" stroke-width="0.85" stroke-linejoin="round" stroke-linecap="round" />
<path d="M375.6,302.8 L418.6,318.4 L424.5,320.4" fill="none" stroke="#4d4d4d" stroke-width="0.85" stroke-linejoin="round" stroke-linecap="round" />
<ellipse cx="431.3" cy="277.4" rx="9.5" ry="11.5" fill="none" stroke="#4d4d4d" stroke-width="0.85" transform="rotate(15 431.3 277.4)" />
<ellipse cx="431.3" cy="277.4" rx="5.2" ry="6.8" fill="none" stroke="#4d4d4d" stroke-width="0.85" transform="rotate(15 431.3 277.4)" />
<path d="M375.6,271.5 L424.5,289.1" fill="none" stroke="#4d4d4d" stroke-width="0.85" stroke-linejoin="round" stroke-linecap="round" />
<path d="M442.0,270.0 L477.0,283.0" fill="none" stroke="#4d4d4d" stroke-width="0.85" stroke-linejoin="round" stroke-linecap="round" />
<path d="M438.0,290.0 L477.0,305.0" fill="none" stroke="#4d4d4d" stroke-width="0.85" stroke-linejoin="round" stroke-linecap="round" />
<path d="M424.5,295.0 L424.5,322.0" fill="none" stroke="#4d4d4d" stroke-width="0.85" stroke-linejoin="round" stroke-linecap="round" />
<path d="M428.0,297.0 L432.0,322.0" fill="none" stroke="#4d4d4d" stroke-width="0.85" stroke-linejoin="round" stroke-linecap="round" />
<path d="M469.4,308.6 C468.8,311.9 465.8,320.1 465.5,328.2 C465.2,336.3 466.5,351.0 467.5,357.5 C468.5,364.0 470.8,365.7 471.4,367.3" fill="none" stroke="#4d4d4d" stroke-width="0.85" stroke-linejoin="round" stroke-linecap="round" />
<path d="M434.3,355.5 C436.2,357.1 442.1,362.7 446.0,365.3 C449.9,367.9 454.1,369.6 457.7,371.2 C461.3,372.8 464.7,372.2 467.5,375.1 C470.3,378.0 470.8,386.3 474.3,388.8 C477.8,391.3 482.7,389.8 488.7,390.3 C494.7,390.8 504.9,392.4 510.1,391.7 C515.4,391.0 517.1,387.2 520.2,386.0 C523.3,384.8 525.9,385.5 528.8,384.5 C531.7,383.5 536.0,380.9 537.4,380.2" fill="none" stroke="#4d4d4d" stroke-width="0.85" stroke-linejoin="round" stroke-linecap="round" />
<path d="M470.0,372.0 C471.7,373.0 476.3,377.5 480.0,378.0 C483.7,378.5 488.7,374.7 492.0,375.0 C495.3,375.3 496.7,379.0 500.0,380.0 C503.3,381.0 508.3,381.7 512.0,381.0 C515.7,380.3 518.2,377.5 522.0,376.0 C525.8,374.5 530.7,373.5 535.0,372.0 C539.3,370.5 545.8,367.8 548.0,367.0" fill="none" stroke="#4d4d4d" stroke-width="0.85" stroke-linejoin="round" stroke-linecap="round" />
<path d="M485.0,322.0 C486.7,321.3 491.2,318.3 495.0,318.0 C498.8,317.7 504.7,318.0 508.0,320.0 C511.3,322.0 514.7,325.8 515.0,330.0 C515.3,334.2 512.8,341.7 510.0,345.0 C507.2,348.3 500.0,349.2 498.0,350.0" fill="none" stroke="#4d4d4d" stroke-width="0.85" stroke-linejoin="round" stroke-linecap="round" />
<path d="M515.0,340.0 C517.2,339.7 523.8,337.2 528.0,338.0 C532.2,338.8 536.3,342.2 540.0,345.0 C543.7,347.8 548.3,353.3 550.0,355.0" fill="none" stroke="#4d4d4d" stroke-width="0.85" stroke-linejoin="round" stroke-linecap="round" />
<path d="M545.0,300.0 C547.5,299.7 555.8,297.2 560.0,298.0 C564.2,298.8 567.5,301.3 570.0,305.0 C572.5,308.7 575.8,315.0 575.0,320.0 C574.2,325.0 566.7,332.5 565.0,335.0" fill="none" stroke="#4d4d4d" stroke-width="0.85" stroke-linejoin="round" stroke-linecap="round" />
<path d="M591.5,299.4 C591.5,303.0 589.9,315.0 591.5,321.2 C593.1,327.5 600.2,332.7 601.0,337.0 C601.8,341.3 593.7,346.5 596.0,347.0 C598.3,347.5 606.1,344.8 615.0,340.0 C623.9,335.2 642.1,324.2 649.4,318.0 C656.7,311.8 657.5,308.5 658.8,302.5 C660.0,296.5 658.8,287.4 657.2,282.2 C655.6,277.0 653.9,273.6 649.4,271.2 C644.9,268.9 636.6,266.5 630.0,268.0 C623.4,269.5 616.4,274.8 610.0,280.0 C603.6,285.2 594.6,296.2 591.5,299.4" fill="none" stroke="#4d4d4d" stroke-width="0.85" stroke-linejoin="round" stroke-linecap="round" />
<path d="M593.0,311.0 L655.0,289.0" fill="none" stroke="#4d4d4d" stroke-width="0.6" stroke-linejoin="round" stroke-linecap="round" />
<path d="M593.0,319.0 L655.0,297.0" fill="none" stroke="#4d4d4d" stroke-width="0.6" stroke-linejoin="round" stroke-linecap="round" />
<path d="M593.0,327.0 L655.0,305.0" fill="none" stroke="#4d4d4d" stroke-width="0.6" stroke-linejoin="round" stroke-linecap="round" />
<path d="M593.0,335.0 L655.0,313.0" fill="none" stroke="#4d4d4d" stroke-width="0.6" stroke-linejoin="round" stroke-linecap="round" />
<path d="M593.0,343.0 L655.0,321.0" fill="none" stroke="#4d4d4d" stroke-width="0.6" stroke-linejoin="round" stroke-linecap="round" />
<path d="M606.0,279.0 L605.0,330.0" fill="none" stroke="#4d4d4d" stroke-width="0.6" stroke-linejoin="round" stroke-linecap="round" />
<path d="M616.0,279.0 L615.0,330.0" fill="none" stroke="#4d4d4d" stroke-width="0.6" stroke-linejoin="round" stroke-linecap="round" />
<path d="M626.0,279.0 L625.0,330.0" fill="none" stroke="#4d4d4d" stroke-width="0.6" stroke-linejoin="round" stroke-linecap="round" />
<path d="M635.0,279.0 L634.0,330.0" fill="none" stroke="#4d4d4d" stroke-width="0.6" stroke-linejoin="round" stroke-linecap="round" />
<path d="M644.0,279.0 L643.0,330.0" fill="none" stroke="#4d4d4d" stroke-width="0.6" stroke-linejoin="round" stroke-linecap="round" />
<ellipse cx="616.6" cy="321.5" rx="11.0" ry="15.0" fill="#fff" stroke="#444" stroke-width="0.8" transform="rotate(28 616.6 321.5)" />
<clipPath id="cov"><ellipse cx="616.6" cy="321.5" rx="9.5" ry="13.5" transform="rotate(28 616.6 321.5)"/></clipPath>
<g clip-path="url(#cov)"><path d="M600.0,300.0 L612.0,345.0" fill="none" stroke="#333" stroke-width="0.55" stroke-linejoin="round" stroke-linecap="round" /><path d="M602.2,300.0 L614.2,345.0" fill="none" stroke="#333" stroke-width="0.55" stroke-linejoin="round" stroke-linecap="round" /><path d="M604.4,300.0 L616.4,345.0" fill="none" stroke="#333" stroke-width="0.55" stroke-linejoin="round" stroke-linecap="round" /><path d="M606.6,300.0 L618.6,345.0" fill="none" stroke="#333" stroke-width="0.55" stroke-linejoin="round" stroke-linecap="round" /><path d="M608.8,300.0 L620.8,345.0" fill="none" stroke="#333" stroke-width="0.55" stroke-linejoin="round" stroke-linecap="round" /><path d="M611.0,300.0 L623.0,345.0" fill="none" stroke="#333" stroke-width="0.55" stroke-linejoin="round" stroke-linecap="round" /><path d="M613.2,300.0 L625.2,345.0" fill="none" stroke="#333" stroke-width="0.55" stroke-linejoin="round" stroke-linecap="round" /><path d="M615.4,300.0 L627.4,345.0" fill="none" stroke="#333" stroke-width="0.55" stroke-linejoin="round" stroke-linecap="round" /><path d="M617.6,300.0 L629.6,345.0" fill="none" stroke="#333" stroke-width="0.55" stroke-linejoin="round" stroke-linecap="round" /><path d="M619.8,300.0 L631.8,345.0" fill="none" stroke="#333" stroke-width="0.55" stroke-linejoin="round" stroke-linecap="round" /><path d="M622.0,300.0 L634.0,345.0" fill="none" stroke="#333" stroke-width="0.55" stroke-linejoin="round" stroke-linecap="round" /><path d="M624.2,300.0 L636.2,345.0" fill="none" stroke="#333" stroke-width="0.55" stroke-linejoin="round" stroke-linecap="round" /><path d="M626.4,300.0 L638.4,345.0" fill="none" stroke="#333" stroke-width="0.55" stroke-linejoin="round" stroke-linecap="round" /><path d="M628.6,300.0 L640.6,345.0" fill="none" stroke="#333" stroke-width="0.55" stroke-linejoin="round" stroke-linecap="round" /><path d="M630.8,300.0 L642.8,345.0" fill="none" stroke="#333" stroke-width="0.55" stroke-linejoin="round" stroke-linecap="round" /><path d="M633.0,300.0 L645.0,345.0" fill="none" stroke="#333" stroke-width="0.55" stroke-linejoin="round" stroke-linecap="round" /></g>
<path d="M605.0,340.0 C606.2,340.8 609.5,344.2 612.0,345.0 C614.5,345.8 618.7,345.0 620.0,345.0" fill="none" stroke="#4d4d4d" stroke-width="0.85" stroke-linejoin="round" stroke-linecap="round" />
<path d="M480.0,250.2 C482.9,249.5 491.7,248.3 497.2,245.9 C502.7,243.5 508.9,239.0 513.0,235.9 C517.0,232.8 519.1,229.7 521.5,227.3 C523.9,224.9 524.2,223.5 527.3,221.6 C530.4,219.7 535.2,217.7 540.2,215.8 C545.2,213.9 553.6,211.8 557.4,210.1 C561.2,208.4 561.2,207.7 563.1,205.8 C565.0,203.9 566.4,201.3 568.8,198.7 C571.2,196.1 574.5,192.7 577.4,190.1 C580.3,187.5 582.9,185.5 586.0,182.9 C589.1,180.3 593.6,176.5 596.0,174.3 C598.4,172.2 599.6,170.7 600.3,170.0" fill="none" stroke="#4d4d4d" stroke-width="0.85" stroke-linejoin="round" stroke-linecap="round" />
<path d="M480.0,256.0 C483.3,255.0 494.0,252.8 500.0,250.2 C506.0,247.6 511.5,243.5 515.8,240.2 C520.1,236.9 521.7,233.1 525.8,230.2 C529.9,227.3 534.9,225.4 540.2,223.0 C545.5,220.6 553.1,217.7 557.4,215.8 C561.7,213.9 563.4,213.4 566.0,211.5 C568.6,209.6 570.2,207.2 573.1,204.4 C576.0,201.6 579.9,197.5 583.2,194.4 C586.6,191.3 589.9,188.7 593.2,185.8 C596.5,182.9 601.5,178.6 603.2,177.2" fill="none" stroke="#4d4d4d" stroke-width="0.85" stroke-linejoin="round" stroke-linecap="round" />
<ellipse cx="525.8" cy="224.4" rx="3.6" ry="4.2" fill="#fff" stroke="#4d4d4d" stroke-width="0.85" transform="rotate(20 525.8 224.4)" />
<ellipse cx="525.8" cy="224.4" rx="1.7" ry="2.0" fill="none" stroke="#4d4d4d" stroke-width="0.85" transform="rotate(20 525.8 224.4)" />
<ellipse cx="566.0" cy="206.5" rx="3.6" ry="4.2" fill="#fff" stroke="#4d4d4d" stroke-width="0.85" transform="rotate(20 566.0 206.5)" />
<ellipse cx="566.0" cy="206.5" rx="1.7" ry="2.0" fill="none" stroke="#4d4d4d" stroke-width="0.85" transform="rotate(20 566.0 206.5)" />
<ellipse cx="562.4" cy="170.7" rx="3.6" ry="4.2" fill="#fff" stroke="#4d4d4d" stroke-width="0.85" transform="rotate(20 562.4 170.7)" />
<ellipse cx="562.4" cy="170.7" rx="1.7" ry="2.0" fill="none" stroke="#4d4d4d" stroke-width="0.85" transform="rotate(20 562.4 170.7)" />
<path d="M547.3,181.5 L547.3,195.8" fill="none" stroke="#4d4d4d" stroke-width="0.85" stroke-linejoin="round" stroke-linecap="round" />
<path d="M557.4,181.5 L557.4,194.4" fill="none" stroke="#4d4d4d" stroke-width="0.85" stroke-linejoin="round" stroke-linecap="round" />
<path d="M570.3,178.6 L570.3,195.8" fill="none" stroke="#4d4d4d" stroke-width="0.85" stroke-linejoin="round" stroke-linecap="round" />
<path d="M481.4,215.8 L481.4,238.8" fill="none" stroke="#4d4d4d" stroke-width="0.85" stroke-linejoin="round" stroke-linecap="round" />
<path d="M490.7,215.8 L490.7,238.8" fill="none" stroke="#4d4d4d" stroke-width="0.85" stroke-linejoin="round" stroke-linecap="round" />
<path d="M507.2,211.5 L507.2,237.3" fill="none" stroke="#4d4d4d" stroke-width="0.85" stroke-linejoin="round" stroke-linecap="round" />
<path d="M480.0,184.3 L515.8,170.0" fill="none" stroke="#4d4d4d" stroke-width="0.85" stroke-linejoin="round" stroke-linecap="round" />
<path d="M504.4,200.1 L548.8,178.6" fill="none" stroke="#4d4d4d" stroke-width="0.85" stroke-linejoin="round" stroke-linecap="round" />
<path d="M580.3,213.0 L620.0,224.4" fill="none" stroke="#4d4d4d" stroke-width="0.85" stroke-linejoin="round" stroke-linecap="round" />
<path d="M571.7,238.8 L601.8,247.4" fill="none" stroke="#4d4d4d" stroke-width="0.85" stroke-linejoin="round" stroke-linecap="round" />
<path d="M566.0,224.4 C566.5,227.3 567.8,236.3 568.8,241.6 C569.8,246.9 570.5,252.7 571.7,256.0 C572.9,259.4 575.3,260.8 576.0,261.7" fill="none" stroke="#4d4d4d" stroke-width="0.85" stroke-linejoin="round" stroke-linecap="round" />
<path d="M568.8,213.0 C568.6,215.3 567.4,222.7 567.4,227.0 C567.4,231.3 568.6,236.8 568.8,238.8" fill="none" stroke="#4d4d4d" stroke-width="0.85" stroke-linejoin="round" stroke-linecap="round" />
<path d="M480.0,267.4 C481.9,264.5 486.7,254.7 491.5,250.2 C496.3,245.7 503.4,241.9 508.7,240.2 C514.0,238.5 519.4,238.5 523.0,240.2 C526.6,241.9 528.2,245.2 530.1,250.2 C532.0,255.2 533.4,265.3 534.4,270.3 C535.4,275.3 535.6,278.4 535.9,280.0" fill="none" stroke="#4d4d4d" stroke-width="0.85" stroke-linejoin="round" stroke-linecap="round" />
<path d="M518.7,241.6 C519.9,244.0 524.1,249.5 525.8,255.9 C527.5,262.3 528.2,276.0 528.7,280.0" fill="none" stroke="#4d4d4d" stroke-width="0.85" stroke-linejoin="round" stroke-linecap="round" />
<path d="M537.3,224.4 C538.2,225.4 540.6,228.0 543.0,230.2 C545.4,232.3 549.5,235.4 551.6,237.3 C553.8,239.2 555.4,240.4 555.9,241.6 C556.4,242.8 555.7,244.3 554.5,244.5 C553.3,244.7 550.7,244.2 548.8,243.0 C546.9,241.8 544.0,238.2 543.0,237.3" fill="none" stroke="#4d4d4d" stroke-width="0.85" stroke-linejoin="round" stroke-linecap="round" />
<path d="M580.3,191.5 C582.2,192.2 586.9,194.9 591.7,195.8 C596.5,196.8 604.2,196.2 608.9,197.2 C613.6,198.1 618.1,200.8 620.0,201.5" fill="none" stroke="#4d4d4d" stroke-width="0.85" stroke-linejoin="round" stroke-linecap="round" />
<path d="M597.5,234.5 C599.4,233.8 605.1,232.6 608.9,230.2 C612.6,227.8 618.1,221.8 620.0,220.1" fill="none" stroke="#4d4d4d" stroke-width="0.85" stroke-linejoin="round" stroke-linecap="round" />
<ellipse cx="604.6" cy="256.0" rx="2.8" ry="3.2" fill="none" stroke="#4d4d4d" stroke-width="0.85" />
<ellipse cx="608.9" cy="245.9" rx="2.8" ry="3.2" fill="none" stroke="#4d4d4d" stroke-width="0.85" />
<path d="M484.0,330.0 C485.8,327.0 491.5,325.7 495.0,326.0 C498.5,326.3 503.7,328.8 505.0,332.0 C506.3,335.2 505.2,342.0 503.0,345.0 C500.8,348.0 495.2,350.2 492.0,350.0 C488.8,349.8 485.3,347.3 484.0,344.0 C482.7,340.7 482.2,333.0 484.0,330.0 Z" fill="none" stroke="#4d4d4d" stroke-width="0.85" stroke-linejoin="round" stroke-linecap="round" />
<ellipse cx="494.0" cy="338.0" rx="2.5" ry="2.8" fill="none" stroke="#4d4d4d" stroke-width="0.85" />
<path d="M483.8,249.4 C482.7,250.4 478.4,253.3 477.5,255.6 C476.6,257.9 476.7,260.8 478.3,263.4 C479.9,266.0 484.7,269.1 486.9,271.2 C489.1,273.4 490.0,274.2 491.6,276.0 C493.2,277.8 496.0,280.6 496.2,282.2 C496.5,283.8 494.4,285.0 493.1,285.3 C491.8,285.6 489.2,284.0 488.4,283.8" fill="none" stroke="#4d4d4d" stroke-width="0.85" stroke-linejoin="round" stroke-linecap="round" />
<path d="M488.0,248.0 C487.0,249.0 482.8,251.7 482.0,254.0 C481.2,256.3 481.7,259.7 483.0,262.0 C484.3,264.3 487.7,265.7 490.0,268.0 C492.3,270.3 495.8,274.7 497.0,276.0" fill="none" stroke="#4d4d4d" stroke-width="0.85" stroke-linejoin="round" stroke-linecap="round" />
<path d="M533.8,258.8 C535.3,258.5 540.7,255.7 543.0,257.2 C545.3,258.7 547.8,264.4 547.8,268.0 C547.8,271.6 544.8,276.9 543.0,279.0 C541.2,281.1 537.9,280.3 536.9,280.6" fill="none" stroke="#4d4d4d" stroke-width="0.85" stroke-linejoin="round" stroke-linecap="round" />
<ellipse cx="545.5" cy="294.7" rx="10.0" ry="9.5" fill="none" stroke="#4d4d4d" stroke-width="0.85" />
<path d="M505.0,307.0 C506.2,307.5 510.2,308.2 512.0,310.0 C513.8,311.8 516.2,315.7 516.0,318.0 C515.8,320.3 513.7,323.3 511.0,324.0 C508.3,324.7 501.8,322.3 500.0,322.0" fill="none" stroke="#4d4d4d" stroke-width="0.85" stroke-linejoin="round" stroke-linecap="round" />
<path d="M440.0,291.6 L471.2,301.0" fill="none" stroke="#4d4d4d" stroke-width="0.85" stroke-linejoin="round" stroke-linecap="round" />
<path d="M524.4,324.4 L552.5,336.9" fill="none" stroke="#4d4d4d" stroke-width="0.85" stroke-linejoin="round" stroke-linecap="round" />
<path d="M528.0,313.0 L552.0,321.0" fill="none" stroke="#4d4d4d" stroke-width="0.85" stroke-linejoin="round" stroke-linecap="round" />
<path d="M530.0,320.0 C532.5,319.3 540.0,315.7 545.0,316.0 C550.0,316.3 556.5,318.8 560.0,322.0 C563.5,325.2 566.0,331.2 566.0,335.0 C566.0,338.8 561.0,343.3 560.0,345.0" fill="none" stroke="#4d4d4d" stroke-width="0.85" stroke-linejoin="round" stroke-linecap="round" />
<path d="M500.0,355.0 C501.7,354.5 506.7,351.5 510.0,352.0 C513.3,352.5 518.0,355.3 520.0,358.0 C522.0,360.7 521.7,366.3 522.0,368.0" fill="none" stroke="#4d4d4d" stroke-width="0.85" stroke-linejoin="round" stroke-linecap="round" />
<path d="M540.0,355.0 C542.0,354.2 548.3,349.8 552.0,350.0 C555.7,350.2 559.8,353.5 562.0,356.0 C564.2,358.5 564.5,363.5 565.0,365.0" fill="none" stroke="#4d4d4d" stroke-width="0.85" stroke-linejoin="round" stroke-linecap="round" />
<path d="M470.0,360.0 L540.0,395.0" fill="none" stroke="#4d4d4d" stroke-width="0.85" stroke-linejoin="round" stroke-linecap="round" />
<path d="M500.0,345.0 L548.0,368.0" fill="none" stroke="#4d4d4d" stroke-width="0.85" stroke-linejoin="round" stroke-linecap="round" />
<path d="M399.0,226.9 L422.5,234.7" fill="none" stroke="#4d4d4d" stroke-width="0.85" stroke-linejoin="round" stroke-linecap="round" />
<path d="M416.0,263.3 L425.0,245.0" fill="none" stroke="#4d4d4d" stroke-width="0.85" stroke-linejoin="round" stroke-linecap="round" />
<path d="M738.1,195.1 C731.5,194.8 705.7,198.3 698.5,200.8 C691.3,203.3 696.3,206.1 694.7,210.2 C693.1,214.3 693.4,219.0 689.0,225.3 C684.6,231.6 673.9,242.6 668.3,247.9 C662.6,253.2 661.4,254.6 655.1,257.4 C648.8,260.2 637.5,262.1 630.6,264.9 C623.7,267.7 620.5,268.9 613.6,274.3 C606.7,279.7 594.7,290.7 589.0,297.0 C583.3,303.3 583.7,306.3 579.6,312.0 C575.5,317.7 568.3,325.9 564.5,331.0 C560.7,336.1 559.8,334.8 557.0,342.3 C554.2,349.8 549.4,366.1 547.5,376.2 C545.6,386.2 544.8,396.3 545.7,402.6 C546.7,408.9 548.8,412.7 553.2,414.0 C557.6,415.3 566.6,409.6 572.0,410.2 C577.4,410.8 579.3,415.8 585.3,417.7 C591.3,419.6 602.0,420.9 608.0,421.5 C614.0,422.1 617.3,421.8 621.1,421.5 C624.9,421.2 623.7,422.8 630.6,419.6 C637.5,416.5 654.8,409.5 662.6,402.6 C670.5,395.7 674.6,384.4 677.7,378.1 C680.9,371.8 681.2,369.1 681.5,365.0 C681.8,360.9 679.3,357.4 679.6,353.6 C679.9,349.8 681.5,349.9 683.4,342.3 C685.3,334.8 690.4,316.5 691.0,308.3 C691.6,300.1 688.2,297.9 687.2,293.2 C686.2,288.5 683.4,284.4 685.3,280.0 C687.2,275.6 693.1,271.2 698.5,266.8 C703.9,262.4 712.4,258.6 717.4,253.6 C722.4,248.6 725.9,242.6 728.7,236.6 C731.5,230.6 732.7,223.4 734.3,217.7 C735.9,212.0 737.5,206.4 738.1,202.6 C738.7,198.8 744.7,195.4 738.1,195.1 Z" fill="none" stroke="#303030" stroke-width="4.2" stroke-linejoin="round" stroke-linecap="round" />
<path d="M738.1,195.1 C731.5,194.8 705.7,198.3 698.5,200.8 C691.3,203.3 696.3,206.1 694.7,210.2 C693.1,214.3 693.4,219.0 689.0,225.3 C684.6,231.6 673.9,242.6 668.3,247.9 C662.6,253.2 661.4,254.6 655.1,257.4 C648.8,260.2 637.5,262.1 630.6,264.9 C623.7,267.7 620.5,268.9 613.6,274.3 C606.7,279.7 594.7,290.7 589.0,297.0 C583.3,303.3 583.7,306.3 579.6,312.0 C575.5,317.7 568.3,325.9 564.5,331.0 C560.7,336.1 559.8,334.8 557.0,342.3 C554.2,349.8 549.4,366.1 547.5,376.2 C545.6,386.2 544.8,396.3 545.7,402.6 C546.7,408.9 548.8,412.7 553.2,414.0 C557.6,415.3 566.6,409.6 572.0,410.2 C577.4,410.8 579.3,415.8 585.3,417.7 C591.3,419.6 602.0,420.9 608.0,421.5 C614.0,422.1 617.3,421.8 621.1,421.5 C624.9,421.2 623.7,422.8 630.6,419.6 C637.5,416.5 654.8,409.5 662.6,402.6 C670.5,395.7 674.6,384.4 677.7,378.1 C680.9,371.8 681.2,369.1 681.5,365.0 C681.8,360.9 679.3,357.4 679.6,353.6 C679.9,349.8 681.5,349.9 683.4,342.3 C685.3,334.8 690.4,316.5 691.0,308.3 C691.6,300.1 688.2,297.9 687.2,293.2 C686.2,288.5 683.4,284.4 685.3,280.0 C687.2,275.6 693.1,271.2 698.5,266.8 C703.9,262.4 712.4,258.6 717.4,253.6 C722.4,248.6 725.9,242.6 728.7,236.6 C731.5,230.6 732.7,223.4 734.3,217.7 C735.9,212.0 737.5,206.4 738.1,202.6 C738.7,198.8 744.7,195.4 738.1,195.1 Z" fill="none" stroke="#9a9a9a" stroke-width="2.4" stroke-linejoin="round" stroke-linecap="round" />
<ellipse cx="738.0" cy="197.0" rx="4.8" ry="4.4" fill="#9a9a9a" stroke="#303030" stroke-width="0.9" transform="rotate(20 738.0 197.0)" />
<ellipse cx="738.0" cy="197.0" rx="2.0" ry="1.9" fill="#fff" stroke="#303030" stroke-width="0.8" transform="rotate(20 738.0 197.0)" />
<ellipse cx="698.5" cy="202.6" rx="4.8" ry="4.4" fill="#9a9a9a" stroke="#303030" stroke-width="0.9" transform="rotate(20 698.5 202.6)" />
<ellipse cx="698.5" cy="202.6" rx="2.0" ry="1.9" fill="#fff" stroke="#303030" stroke-width="0.8" transform="rotate(20 698.5 202.6)" />
<ellipse cx="655.0" cy="257.4" rx="4.8" ry="4.4" fill="#9a9a9a" stroke="#303030" stroke-width="0.9" transform="rotate(20 655.0 257.4)" />
<ellipse cx="655.0" cy="257.4" rx="2.0" ry="1.9" fill="#fff" stroke="#303030" stroke-width="0.8" transform="rotate(20 655.0 257.4)" />
<ellipse cx="613.6" cy="274.3" rx="4.8" ry="4.4" fill="#9a9a9a" stroke="#303030" stroke-width="0.9" transform="rotate(20 613.6 274.3)" />
<ellipse cx="613.6" cy="274.3" rx="2.0" ry="1.9" fill="#fff" stroke="#303030" stroke-width="0.8" transform="rotate(20 613.6 274.3)" />
<ellipse cx="564.5" cy="331.0" rx="4.8" ry="4.4" fill="#9a9a9a" stroke="#303030" stroke-width="0.9" transform="rotate(20 564.5 331.0)" />
<ellipse cx="564.5" cy="331.0" rx="2.0" ry="1.9" fill="#fff" stroke="#303030" stroke-width="0.8" transform="rotate(20 564.5 331.0)" />
<ellipse cx="572.0" cy="410.0" rx="4.8" ry="4.4" fill="#9a9a9a" stroke="#303030" stroke-width="0.9" transform="rotate(20 572.0 410.0)" />
<ellipse cx="572.0" cy="410.0" rx="2.0" ry="1.9" fill="#fff" stroke="#303030" stroke-width="0.8" transform="rotate(20 572.0 410.0)" />
<ellipse cx="621.0" cy="421.5" rx="4.8" ry="4.4" fill="#9a9a9a" stroke="#303030" stroke-width="0.9" transform="rotate(20 621.0 421.5)" />
<ellipse cx="621.0" cy="421.5" rx="2.0" ry="1.9" fill="#fff" stroke="#303030" stroke-width="0.8" transform="rotate(20 621.0 421.5)" />
<ellipse cx="677.7" cy="378.0" rx="4.8" ry="4.4" fill="#9a9a9a" stroke="#303030" stroke-width="0.9" transform="rotate(20 677.7 378.0)" />
<ellipse cx="677.7" cy="378.0" rx="2.0" ry="1.9" fill="#fff" stroke="#303030" stroke-width="0.8" transform="rotate(20 677.7 378.0)" />
<ellipse cx="691.0" cy="308.3" rx="4.8" ry="4.4" fill="#9a9a9a" stroke="#303030" stroke-width="0.9" transform="rotate(20 691.0 308.3)" />
<ellipse cx="691.0" cy="308.3" rx="2.0" ry="1.9" fill="#fff" stroke="#303030" stroke-width="0.8" transform="rotate(20 691.0 308.3)" />
<ellipse cx="717.4" cy="253.6" rx="4.8" ry="4.4" fill="#9a9a9a" stroke="#303030" stroke-width="0.9" transform="rotate(20 717.4 253.6)" />
<ellipse cx="717.4" cy="253.6" rx="2.0" ry="1.9" fill="#fff" stroke="#303030" stroke-width="0.8" transform="rotate(20 717.4 253.6)" />
<ellipse cx="712.3" cy="290.3" rx="3.2" ry="4.2" fill="#fff" stroke="#1e1e1e" stroke-width="0.9" transform="rotate(25 712.3 290.3)" />
<path d="M714.5,296.1 L710.5,294.1 L714.1,286.5 L718.1,288.5 Z" fill="#fff" stroke="none"/>
<path d="M714.5,296.1 L710.5,294.1 M718.1,288.5 L714.1,286.5" stroke="#1e1e1e" stroke-width="0.9" fill="none"/>
<ellipse cx="716.3" cy="292.3" rx="3.2" ry="4.2" fill="#fff" stroke="#1e1e1e" stroke-width="0.9" transform="rotate(25 716.3 292.3)" />
<ellipse cx="635.4" cy="433.7" rx="3.2" ry="4.2" fill="#fff" stroke="#1e1e1e" stroke-width="0.9" transform="rotate(25 635.4 433.7)" />
<path d="M637.6,439.5 L633.6,437.5 L637.2,429.9 L641.2,431.9 Z" fill="#fff" stroke="none"/>
<path d="M637.6,439.5 L633.6,437.5 M641.2,431.9 L637.2,429.9" stroke="#1e1e1e" stroke-width="0.9" fill="none"/>
<ellipse cx="639.4" cy="435.7" rx="3.2" ry="4.2" fill="#fff" stroke="#1e1e1e" stroke-width="0.9" transform="rotate(25 639.4 435.7)" />
<path d="M1006.0,186.5 L1096.5,237.9" fill="none" stroke="#888" stroke-width="0.6" stroke-dasharray="6,2,1.5,2" stroke-linejoin="round" stroke-linecap="round" />
<path d="M870.4,84.3 C876,79 882.7,77.3 889,76 C894,75.3 897,76 900.3,77.3 L977.3,119.4 L954.8,156.4 L932.3,193.4 L852.9,142.3 C846,125 855,95 870.4,84.3 Z" fill="#fff" stroke="#1e1e1e" stroke-width="1.1" stroke-linejoin="round" stroke-linecap="round" />
<path d="M856.7,147.3 L868.9,154.7 L928,191" fill="none" stroke="#222" stroke-width="0.9" stroke-linejoin="round" stroke-linecap="round" />
<path d="M836,126 L862,98 L872,93 L873,100 L866,118 L862,140 L852,143 L841,139 Q835,133 836,126 Z" fill="#fff" stroke="#1e1e1e" stroke-width="1.0" stroke-linejoin="round" stroke-linecap="round" />
<path d="M873,100 L868,122 L862,140" fill="none" stroke="#333" stroke-width="0.7" stroke-linejoin="round" stroke-linecap="round" />
<path d="M860,143 L870,139 L876,145" fill="none" stroke="#444" stroke-width="0.6" stroke-linejoin="round" stroke-linecap="round" />
<ellipse cx="853.7" cy="133.6" rx="3.3" ry="3.9" fill="#fff" stroke="#1e1e1e" stroke-width="0.9" transform="rotate(20 853.7 133.6)" />
<path d="M921,93 L923,86 L940,85 L944,91 L941,98 L925,99 Z" fill="#fff" stroke="#1e1e1e" stroke-width="0.9" stroke-linejoin="round" stroke-linecap="round" />
<path d="M922,91 L943,90" fill="none" stroke="#333" stroke-width="0.6" stroke-linejoin="round" stroke-linecap="round" />
<path d="M928,86 L928,81 L940,80 L940,85" fill="#fff" stroke="#1e1e1e" stroke-width="0.9" stroke-linejoin="round" stroke-linecap="round" />
<path d="M931,81 L932,74 Q936,71 941,73 L941,80" fill="#fff" stroke="#1e1e1e" stroke-width="0.9" stroke-linejoin="round" stroke-linecap="round" />
<ellipse cx="954.8" cy="156.4" rx="22.7" ry="43.3" fill="#fff" stroke="#1e1e1e" stroke-width="1.2" transform="rotate(31.8 954.8 156.4)" />
<ellipse cx="959.3" cy="159.9" rx="17.5" ry="32.5" fill="none" stroke="#333" stroke-width="0.8" transform="rotate(31.8 959.3 159.9)" />
<ellipse cx="962.0" cy="162.0" rx="15.0" ry="28.0" fill="none" stroke="#333" stroke-width="0.7" transform="rotate(31.8 962.0 162.0)" />
<ellipse cx="964.0" cy="164.0" rx="11.5" ry="19.0" fill="#fff" stroke="#1e1e1e" stroke-width="1.0" transform="rotate(28 964.0 164.0)" />
<path d="M959.1,182.8 L955.1,180.8 L972.9,147.2 L976.9,149.2 Z" fill="#fff" stroke="none"/>
<path d="M959.1,182.8 L955.1,180.8 M976.9,149.2 L972.9,147.2" stroke="#1e1e1e" stroke-width="1.0" fill="none"/>
<ellipse cx="968.0" cy="166.0" rx="11.5" ry="19.0" fill="#fff" stroke="#1e1e1e" stroke-width="1.0" transform="rotate(28 968.0 166.0)" />
<ellipse cx="969.5" cy="167.0" rx="8.0" ry="13.5" fill="none" stroke="#444" stroke-width="0.7" transform="rotate(28 969.5 167.0)" />
<ellipse cx="975.0" cy="168.5" rx="5.4" ry="8.5" fill="#fff" stroke="#1e1e1e" stroke-width="1.0" transform="rotate(25 975.0 168.5)" />
<path d="M997.4,188.2 L971.4,176.2 L978.6,160.8 L1004.6,172.8 Z" fill="#fff" stroke="none"/>
<path d="M997.4,188.2 L971.4,176.2 M1004.6,172.8 L978.6,160.8" stroke="#1e1e1e" stroke-width="1.0" fill="none"/>
<ellipse cx="1001.0" cy="180.5" rx="5.4" ry="8.5" fill="#fff" stroke="#1e1e1e" stroke-width="1.0" transform="rotate(25 1001.0 180.5)" />
<path d="M996.3,187.4 L971.3,175.9" fill="none" stroke="#333" stroke-width="0.55" stroke-linejoin="round" stroke-linecap="round" />
<path d="M995.3,185.7 L970.3,174.2" fill="none" stroke="#333" stroke-width="0.55" stroke-linejoin="round" stroke-linecap="round" />
<path d="M994.9,183.4 L969.9,171.9" fill="none" stroke="#333" stroke-width="0.55" stroke-linejoin="round" stroke-linecap="round" />
<path d="M995.2,180.8 L970.2,169.3" fill="none" stroke="#333" stroke-width="0.55" stroke-linejoin="round" stroke-linecap="round" />
<path d="M996.1,178.2 L971.1,166.7" fill="none" stroke="#333" stroke-width="0.55" stroke-linejoin="round" stroke-linecap="round" />
<path d="M997.5,175.8 L972.5,164.3" fill="none" stroke="#333" stroke-width="0.55" stroke-linejoin="round" stroke-linecap="round" />
<path d="M999.3,174.0 L974.3,162.5" fill="none" stroke="#333" stroke-width="0.55" stroke-linejoin="round" stroke-linecap="round" />
<path d="M1001.3,172.8 L976.3,161.3" fill="none" stroke="#333" stroke-width="0.55" stroke-linejoin="round" stroke-linecap="round" />
<path d="M1003.3,172.5 L978.3,161.0" fill="none" stroke="#333" stroke-width="0.55" stroke-linejoin="round" stroke-linecap="round" />
<ellipse cx="1001.0" cy="180.5" rx="5.4" ry="8.5" fill="#fff" stroke="#1e1e1e" stroke-width="1.0" transform="rotate(25 1001.0 180.5)" />
<ellipse cx="1029.6" cy="199.4" rx="17.7" ry="26.6" fill="#fff" stroke="#1e1e1e" stroke-width="1.1" transform="rotate(20 1029.6 199.4)" />
<path d="M1030.5,227.4 L1020.5,224.4 L1038.7,174.4 L1048.7,177.4 Z" fill="#fff" stroke="none"/>
<path d="M1030.5,227.4 L1020.5,224.4 M1048.7,177.4 L1038.7,174.4" stroke="#1e1e1e" stroke-width="1.1" fill="none"/>
<ellipse cx="1039.6" cy="202.4" rx="17.7" ry="26.6" fill="#fff" stroke="#1e1e1e" stroke-width="1.1" transform="rotate(20 1039.6 202.4)" />
<ellipse cx="1040.5" cy="203.0" rx="14.5" ry="22.5" fill="#fff" stroke="#1e1e1e" stroke-width="0.8" transform="rotate(20 1040.5 203.0)" />
<path d="M1036,186 Q1031,203 1037,220" fill="none" stroke="#333" stroke-width="0.7" stroke-linejoin="round" stroke-linecap="round" />
<path d="M1045,190 Q1052,203 1047,216" fill="none" stroke="#333" stroke-width="0.7" stroke-linejoin="round" stroke-linecap="round" />
<path d="M1031,208 q-3,4 0,8 q4,1 5,-3" fill="none" stroke="#333" stroke-width="0.7" stroke-linejoin="round" stroke-linecap="round" />
<ellipse cx="1068.4" cy="224.4" rx="13.2" ry="20.0" fill="none" stroke="#1e1e1e" stroke-width="1.3" transform="rotate(20 1068.4 224.4)" />
<ellipse cx="1068.8" cy="224.7" rx="12.0" ry="18.8" fill="none" stroke="#555" stroke-width="0.5" transform="rotate(20 1068.8 224.7)" />
<ellipse cx="1080.0" cy="230.5" rx="13.2" ry="20.0" fill="none" stroke="#1e1e1e" stroke-width="1.3" transform="rotate(20 1080.0 230.5)" />
<ellipse cx="1080.4" cy="230.8" rx="12.0" ry="18.8" fill="none" stroke="#555" stroke-width="0.5" transform="rotate(20 1080.4 230.8)" />
<path d="M867.5,188.5 L885.0,199.0" fill="none" stroke="#1e1e1e" stroke-width="4.0" stroke-linejoin="round" stroke-linecap="round" />
<path d="M867.5,188.5 L885.0,199.0" fill="none" stroke="#fff" stroke-width="2.4" stroke-linejoin="round" stroke-linecap="round" />
<path d="M869.0,187.9 L870.0,191.5" fill="none" stroke="#333" stroke-width="0.5" stroke-linejoin="round" stroke-linecap="round" />
<path d="M871.6,189.4 L872.6,193.1" fill="none" stroke="#333" stroke-width="0.5" stroke-linejoin="round" stroke-linecap="round" />
<path d="M874.2,191.0 L875.2,194.6" fill="none" stroke="#333" stroke-width="0.5" stroke-linejoin="round" stroke-linecap="round" />
<path d="M876.8,192.5 L877.8,196.2" fill="none" stroke="#333" stroke-width="0.5" stroke-linejoin="round" stroke-linecap="round" />
<path d="M879.4,194.1 L880.4,197.7" fill="none" stroke="#333" stroke-width="0.5" stroke-linejoin="round" stroke-linecap="round" />
<path d="M882.0,195.6 L883.0,199.2" fill="none" stroke="#333" stroke-width="0.5" stroke-linejoin="round" stroke-linecap="round" />
<ellipse cx="885.0" cy="199.0" rx="3.3" ry="4.2" fill="#fff" stroke="#1e1e1e" stroke-width="1.0" transform="rotate(25 885.0 199.0)" />
<path d="M886.7,204.8 L883.2,202.8 L886.8,195.2 L890.3,197.2 Z" fill="#fff" stroke="none"/>
<path d="M886.7,204.8 L883.2,202.8 M890.3,197.2 L886.8,195.2" stroke="#1e1e1e" stroke-width="1.0" fill="none"/>
<ellipse cx="888.5" cy="201.0" rx="3.3" ry="4.2" fill="#fff" stroke="#1e1e1e" stroke-width="1.0" transform="rotate(25 888.5 201.0)" />
<ellipse cx="888.6" cy="201.1" rx="1.4" ry="1.9" fill="#fff" stroke="#333" stroke-width="0.6" transform="rotate(25 888.6 201.1)" />
<ellipse cx="680.8" cy="144.2" rx="4.2" ry="5.4" fill="#fff" stroke="#1e1e1e" stroke-width="1.3" transform="rotate(20 680.8 144.2)" />
<ellipse cx="681.2" cy="144.4" rx="2.0" ry="2.6" fill="#fff" stroke="#1e1e1e" stroke-width="0.8" transform="rotate(20 681.2 144.4)" />
<path d="M690.6,149.8 L705.0,156.5" fill="none" stroke="#1e1e1e" stroke-width="3.4" stroke-linejoin="round" stroke-linecap="round" />
<path d="M690.6,149.8 L705.0,156.5" fill="none" stroke="#fff" stroke-width="1.8" stroke-linejoin="round" stroke-linecap="round" />
<path d="M691.6,149.0 L692.4,152.0" fill="none" stroke="#333" stroke-width="0.5" stroke-linejoin="round" stroke-linecap="round" />
<path d="M694.2,150.2 L695.0,153.2" fill="none" stroke="#333" stroke-width="0.5" stroke-linejoin="round" stroke-linecap="round" />
<path d="M696.8,151.4 L697.6,154.4" fill="none" stroke="#333" stroke-width="0.5" stroke-linejoin="round" stroke-linecap="round" />
<path d="M699.4,152.6 L700.2,155.6" fill="none" stroke="#333" stroke-width="0.5" stroke-linejoin="round" stroke-linecap="round" />
<path d="M702.0,153.8 L702.8,156.8" fill="none" stroke="#333" stroke-width="0.5" stroke-linejoin="round" stroke-linecap="round" />
<ellipse cx="707.5" cy="157.5" rx="3.2" ry="4.2" fill="#fff" stroke="#1e1e1e" stroke-width="1.0" transform="rotate(25 707.5 157.5)" />
<ellipse cx="707.7" cy="157.6" rx="1.3" ry="1.8" fill="#fff" stroke="#333" stroke-width="0.6" transform="rotate(25 707.7 157.6)" />
<path d="M700.0,230.0 L760.0,258.0" fill="none" stroke="#888" stroke-width="0.6" stroke-dasharray="6,2,1.5,2" stroke-linejoin="round" stroke-linecap="round" />
<path d="M810.0,282.0 L1050.0,398.0" fill="none" stroke="#888" stroke-width="0.6" stroke-dasharray="6,2,1.5,2" stroke-linejoin="round" stroke-linecap="round" />
<path d="M700.0,290.0 L770.0,318.0" fill="none" stroke="#888" stroke-width="0.6" stroke-dasharray="6,2,1.5,2" stroke-linejoin="round" stroke-linecap="round" />
<path d="M815.0,336.0 L1060.0,450.0" fill="none" stroke="#888" stroke-width="0.6" stroke-dasharray="6,2,1.5,2" stroke-linejoin="round" stroke-linecap="round" />
<path d="M793.9,269.5 L796.1,271.5 L795.7,273.2 L793.1,273.7 L792.7,275.1 L794.4,278.1 L793.9,279.7 L791.3,279.1 L790.7,280.4 L791.9,284.1 L791.2,285.4 L788.9,283.8 L788.2,284.9 L788.7,289.1 L787.9,290.1 L785.9,287.6 L785.1,288.4 L785.1,292.8 L784.1,293.6 L782.6,290.2 L781.8,290.6 L781.1,295.1 L780.1,295.5 L779.2,291.4 L778.3,291.5 L777.0,295.8 L776.0,295.7 L775.8,291.3 L775.0,291.1 L773.2,294.8 L772.2,294.4 L772.6,289.8 L771.9,289.2 L769.7,292.3 L768.9,291.4 L769.9,287.0 L769.3,286.1 L766.8,288.3 L766.2,287.1 L767.8,283.1 L767.4,281.9 L764.7,283.1 L764.3,281.6 L766.4,278.2 L766.1,276.9 L763.5,277.0 L763.3,275.4 L765.7,272.8 L765.7,271.3 L763.2,270.3 L763.3,268.6 L765.9,267.0 L766.1,265.5 L763.9,263.5 L764.3,261.8 L766.9,261.3 L767.3,259.9 L765.6,256.9 L766.1,255.3 L768.7,255.9 L769.3,254.6 L768.1,250.9 L768.8,249.6 L771.1,251.2 L771.8,250.1 L771.3,245.9 L772.1,244.9 L774.1,247.4 L774.9,246.6 L774.9,242.2 L775.9,241.4 L777.4,244.8 L778.2,244.4 L778.9,239.9 L779.9,239.5 L780.8,243.6 L781.7,243.5 L783.0,239.2 L784.0,239.3 L784.2,243.7 L785.0,243.9 L786.8,240.2 L787.8,240.6 L787.4,245.2 L788.1,245.8 L790.3,242.7 L791.1,243.6 L790.1,248.0 L790.7,248.9 L793.2,246.7 L793.8,247.9 L792.2,251.9 L792.6,253.1 L795.3,251.9 L795.7,253.4 L793.6,256.8 L793.9,258.1 L796.5,258.0 L796.7,259.6 L794.3,262.2 L794.3,263.7 L796.8,264.7 L796.7,266.4 L794.1,268.0 Z" fill="#fff" stroke="#1e1e1e" stroke-width="1.0" stroke-linejoin="round"/>
<path d="M763.2,270.3 L763.3,268.6 L763.9,263.5 L764.3,261.8 L765.6,256.9 L766.1,255.3 L768.1,250.9 L768.8,249.6 L771.2,245.9 L772.1,244.8 L774.9,242.2 L775.9,241.4 L778.9,239.9 L779.9,239.6 L783.0,239.2 L784.0,239.3 L798.0,242.8 L800.9,243.7 L801.8,244.2 L804.3,246.2 L805.1,247.1 L807.2,250.2 L807.8,251.4 L809.3,255.4 L809.7,256.9 L810.5,261.5 L810.7,263.1 L810.8,268.2 L810.7,269.9 L810.1,275.0 L809.7,276.7 L808.4,281.6 L807.9,283.2 L805.9,287.6 L805.2,288.9 L802.8,292.6 L801.9,293.6 L799.1,296.3 L798.1,297.1 L795.1,298.6 L794.1,298.9 L791.0,299.3 L790.0,299.2 L776.0,295.7 L773.1,294.9 L772.2,294.4 L769.7,292.3 L768.9,291.4 L766.8,288.3 L766.2,287.1 L764.7,283.1 L764.3,281.6 L763.5,277.0 L763.3,275.4 Z" fill="#fff" stroke="none"/>
<path d="M773.2,294.8 L787.2,298.3" stroke="#1e1e1e" stroke-width="0.8" fill="none"/>
<path d="M772.2,294.4 L786.2,297.9" stroke="#1e1e1e" stroke-width="0.8" fill="none"/>
<path d="M769.7,292.3 L783.7,295.8" stroke="#1e1e1e" stroke-width="0.8" fill="none"/>
<path d="M768.9,291.4 L782.9,294.9" stroke="#1e1e1e" stroke-width="0.8" fill="none"/>
<path d="M766.8,288.3 L780.8,291.8" stroke="#1e1e1e" stroke-width="0.8" fill="none"/>
<path d="M766.2,287.1 L780.2,290.6" stroke="#1e1e1e" stroke-width="0.8" fill="none"/>
<path d="M764.7,283.1 L778.7,286.6" stroke="#1e1e1e" stroke-width="0.8" fill="none"/>
<path d="M764.3,281.6 L778.3,285.1" stroke="#1e1e1e" stroke-width="0.8" fill="none"/>
<path d="M763.5,277.0 L777.5,280.5" stroke="#1e1e1e" stroke-width="0.8" fill="none"/>
<path d="M763.3,275.4 L777.3,278.9" stroke="#1e1e1e" stroke-width="0.8" fill="none"/>
<path d="M763.2,270.3 L777.2,273.8" stroke="#1e1e1e" stroke-width="0.8" fill="none"/>
<path d="M763.3,268.6 L777.3,272.1" stroke="#1e1e1e" stroke-width="0.8" fill="none"/>
<path d="M763.9,263.5 L777.9,267.0" stroke="#1e1e1e" stroke-width="0.8" fill="none"/>
<path d="M764.3,261.8 L778.3,265.3" stroke="#1e1e1e" stroke-width="0.8" fill="none"/>
<path d="M765.6,256.9 L779.6,260.4" stroke="#1e1e1e" stroke-width="0.8" fill="none"/>
<path d="M766.1,255.3 L780.1,258.8" stroke="#1e1e1e" stroke-width="0.8" fill="none"/>
<path d="M768.1,250.9 L782.1,254.4" stroke="#1e1e1e" stroke-width="0.8" fill="none"/>
<path d="M768.8,249.6 L782.8,253.1" stroke="#1e1e1e" stroke-width="0.8" fill="none"/>
<path d="M771.3,245.9 L785.3,249.4" stroke="#1e1e1e" stroke-width="0.8" fill="none"/>
<path d="M772.1,244.9 L786.1,248.4" stroke="#1e1e1e" stroke-width="0.8" fill="none"/>
<path d="M774.9,242.2 L788.9,245.7" stroke="#1e1e1e" stroke-width="0.8" fill="none"/>
<path d="M775.9,241.4 L789.9,244.9" stroke="#1e1e1e" stroke-width="0.8" fill="none"/>
<path d="M778.9,239.9 L792.9,243.4" stroke="#1e1e1e" stroke-width="0.8" fill="none"/>
<path d="M779.9,239.5 L793.9,243.0" stroke="#1e1e1e" stroke-width="0.8" fill="none"/>
<path d="M783.0,239.2 L797.0,242.7" stroke="#1e1e1e" stroke-width="0.8" fill="none"/>
<path d="M784.0,239.3 L798.0,242.8" stroke="#1e1e1e" stroke-width="0.8" fill="none"/>
<path d="M807.9,273.0 L810.1,275.0 L809.7,276.7 L807.1,277.2 L806.7,278.6 L808.4,281.6 L807.9,283.2 L805.3,282.6 L804.7,283.9 L805.9,287.6 L805.2,288.9 L802.9,287.3 L802.2,288.4 L802.7,292.6 L801.9,293.6 L799.9,291.1 L799.1,291.9 L799.1,296.3 L798.1,297.1 L796.6,293.7 L795.8,294.1 L795.1,298.6 L794.1,299.0 L793.2,294.9 L792.3,295.0 L791.0,299.3 L790.0,299.2 L789.8,294.8 L789.0,294.6 L787.2,298.3 L786.2,297.9 L786.6,293.3 L785.9,292.7 L783.7,295.8 L782.9,294.9 L783.9,290.5 L783.3,289.6 L780.8,291.8 L780.2,290.6 L781.8,286.6 L781.4,285.4 L778.7,286.6 L778.3,285.1 L780.4,281.7 L780.1,280.4 L777.5,280.5 L777.3,278.9 L779.7,276.3 L779.7,274.8 L777.2,273.8 L777.3,272.1 L779.9,270.5 L780.1,269.0 L777.9,267.0 L778.3,265.3 L780.9,264.8 L781.3,263.4 L779.6,260.4 L780.1,258.8 L782.7,259.4 L783.3,258.1 L782.1,254.4 L782.8,253.1 L785.1,254.7 L785.8,253.6 L785.3,249.4 L786.1,248.4 L788.1,250.9 L788.9,250.1 L788.9,245.7 L789.9,244.9 L791.4,248.3 L792.2,247.9 L792.9,243.4 L793.9,243.0 L794.8,247.1 L795.7,247.0 L797.0,242.7 L798.0,242.8 L798.2,247.2 L799.0,247.4 L800.8,243.7 L801.8,244.1 L801.4,248.7 L802.1,249.3 L804.3,246.2 L805.1,247.1 L804.1,251.5 L804.7,252.4 L807.2,250.2 L807.8,251.4 L806.2,255.4 L806.6,256.6 L809.3,255.4 L809.7,256.9 L807.6,260.3 L807.9,261.6 L810.5,261.5 L810.7,263.1 L808.3,265.7 L808.3,267.2 L810.8,268.2 L810.7,269.9 L808.1,271.5 Z" fill="#fff" stroke="#1e1e1e" stroke-width="1.0" stroke-linejoin="round"/>
<ellipse cx="792.5" cy="274.4" rx="13.5" ry="19.0" fill="none" stroke="#1e1e1e" stroke-width="0.9" transform="rotate(8 792.5 274.4)" />
<path d="M800.5,276.8 L802.2,278.3 L801.9,279.4 L799.7,279.7 L799.3,280.5 L800.5,282.6 L799.9,283.6 L797.8,283.0 L797.2,283.6 L797.7,286.1 L796.9,286.8 L795.1,285.4 L794.4,285.8 L794.1,288.3 L793.1,288.6 L791.9,286.6 L791.1,286.7 L790.1,289.0 L789.1,288.9 L788.6,286.4 L787.8,286.2 L786.2,288.0 L785.3,287.5 L785.6,285.0 L784.9,284.4 L782.9,285.5 L782.2,284.7 L783.2,282.4 L782.8,281.6 L780.6,281.9 L780.2,280.8 L781.8,279.0 L781.6,278.0 L779.5,277.4 L779.5,276.2 L781.4,275.1 L781.5,274.2 L779.8,272.7 L780.1,271.6 L782.3,271.3 L782.7,270.5 L781.5,268.4 L782.1,267.4 L784.2,268.0 L784.8,267.4 L784.3,264.9 L785.1,264.2 L786.9,265.6 L787.6,265.2 L787.9,262.7 L788.9,262.4 L790.1,264.4 L790.9,264.3 L791.9,262.0 L792.9,262.1 L793.4,264.6 L794.2,264.8 L795.8,263.0 L796.7,263.5 L796.4,266.0 L797.1,266.6 L799.1,265.5 L799.8,266.3 L798.8,268.6 L799.2,269.4 L801.4,269.1 L801.8,270.2 L800.2,272.0 L800.4,273.0 L802.5,273.6 L802.5,274.8 L800.6,275.9 Z" fill="#fff" stroke="#1e1e1e" stroke-width="0.8" stroke-linejoin="round"/>
<path d="M779.5,276.2 L779.8,272.7 L780.1,271.6 L781.5,268.4 L782.1,267.4 L784.3,264.9 L785.1,264.2 L787.9,262.7 L788.9,262.4 L791.9,262.0 L792.9,262.1 L796.4,263.1 L799.3,264.0 L800.2,264.5 L802.6,266.5 L803.3,267.3 L804.9,270.1 L805.3,271.2 L806.0,274.6 L806.0,275.8 L805.7,279.3 L805.4,280.4 L804.0,283.6 L803.4,284.6 L801.2,287.1 L800.4,287.8 L797.6,289.3 L796.6,289.6 L793.6,290.0 L792.6,289.9 L789.1,288.9 L786.2,288.0 L785.3,287.5 L782.9,285.5 L782.2,284.7 L780.6,281.9 L780.2,280.8 L779.5,277.4 Z" fill="#fff" stroke="none"/>
<path d="M787.8,286.2 L791.3,287.2" stroke="#1e1e1e" stroke-width="0.5" fill="none"/>
<path d="M786.2,288.0 L789.7,289.0" stroke="#1e1e1e" stroke-width="0.5" fill="none"/>
<path d="M785.3,287.5 L788.8,288.5" stroke="#1e1e1e" stroke-width="0.5" fill="none"/>
<path d="M785.6,285.0 L789.1,286.0" stroke="#1e1e1e" stroke-width="0.5" fill="none"/>
<path d="M784.9,284.4 L788.4,285.4" stroke="#1e1e1e" stroke-width="0.5" fill="none"/>
<path d="M782.9,285.5 L786.4,286.5" stroke="#1e1e1e" stroke-width="0.5" fill="none"/>
<path d="M782.2,284.7 L785.7,285.7" stroke="#1e1e1e" stroke-width="0.5" fill="none"/>
<path d="M783.2,282.4 L786.7,283.4" stroke="#1e1e1e" stroke-width="0.5" fill="none"/>
<path d="M782.8,281.6 L786.3,282.6" stroke="#1e1e1e" stroke-width="0.5" fill="none"/>
<path d="M780.6,281.9 L784.1,282.9" stroke="#1e1e1e" stroke-width="0.5" fill="none"/>
<path d="M780.2,280.8 L783.7,281.8" stroke="#1e1e1e" stroke-width="0.5" fill="none"/>
<path d="M781.8,279.0 L785.3,280.0" stroke="#1e1e1e" stroke-width="0.5" fill="none"/>
<path d="M781.6,278.0 L785.1,279.0" stroke="#1e1e1e" stroke-width="0.5" fill="none"/>
<path d="M779.5,277.4 L783.0,278.4" stroke="#1e1e1e" stroke-width="0.5" fill="none"/>
<path d="M779.5,276.2 L783.0,277.2" stroke="#1e1e1e" stroke-width="0.5" fill="none"/>
<path d="M781.4,275.1 L784.9,276.1" stroke="#1e1e1e" stroke-width="0.5" fill="none"/>
<path d="M781.5,274.2 L785.0,275.2" stroke="#1e1e1e" stroke-width="0.5" fill="none"/>
<path d="M779.8,272.7 L783.3,273.7" stroke="#1e1e1e" stroke-width="0.5" fill="none"/>
<path d="M780.1,271.6 L783.6,272.6" stroke="#1e1e1e" stroke-width="0.5" fill="none"/>
<path d="M782.3,271.3 L785.8,272.3" stroke="#1e1e1e" stroke-width="0.5" fill="none"/>
<path d="M782.7,270.5 L786.2,271.5" stroke="#1e1e1e" stroke-width="0.5" fill="none"/>
<path d="M781.5,268.4 L785.0,269.4" stroke="#1e1e1e" stroke-width="0.5" fill="none"/>
<path d="M782.1,267.4 L785.6,268.4" stroke="#1e1e1e" stroke-width="0.5" fill="none"/>
<path d="M784.2,268.0 L787.7,269.0" stroke="#1e1e1e" stroke-width="0.5" fill="none"/>
<path d="M784.8,267.4 L788.3,268.4" stroke="#1e1e1e" stroke-width="0.5" fill="none"/>
<path d="M784.3,264.9 L787.8,265.9" stroke="#1e1e1e" stroke-width="0.5" fill="none"/>
<path d="M785.1,264.2 L788.6,265.2" stroke="#1e1e1e" stroke-width="0.5" fill="none"/>
<path d="M786.9,265.6 L790.4,266.6" stroke="#1e1e1e" stroke-width="0.5" fill="none"/>
<path d="M787.6,265.2 L791.1,266.2" stroke="#1e1e1e" stroke-width="0.5" fill="none"/>
<path d="M787.9,262.7 L791.4,263.7" stroke="#1e1e1e" stroke-width="0.5" fill="none"/>
<path d="M788.9,262.4 L792.4,263.4" stroke="#1e1e1e" stroke-width="0.5" fill="none"/>
<path d="M790.1,264.4 L793.6,265.4" stroke="#1e1e1e" stroke-width="0.5" fill="none"/>
<path d="M790.9,264.3 L794.4,265.3" stroke="#1e1e1e" stroke-width="0.5" fill="none"/>
<path d="M791.9,262.0 L795.4,263.0" stroke="#1e1e1e" stroke-width="0.5" fill="none"/>
<path d="M792.9,262.1 L796.4,263.1" stroke="#1e1e1e" stroke-width="0.5" fill="none"/>
<path d="M793.4,264.6 L796.9,265.6" stroke="#1e1e1e" stroke-width="0.5" fill="none"/>
<path d="M804.0,277.8 L805.7,279.3 L805.4,280.4 L803.2,280.7 L802.8,281.5 L804.0,283.6 L803.4,284.6 L801.3,284.0 L800.7,284.6 L801.2,287.1 L800.4,287.8 L798.6,286.4 L797.9,286.8 L797.6,289.3 L796.6,289.6 L795.4,287.6 L794.6,287.7 L793.6,290.0 L792.6,289.9 L792.1,287.4 L791.3,287.2 L789.7,289.0 L788.8,288.5 L789.1,286.0 L788.4,285.4 L786.4,286.5 L785.7,285.7 L786.7,283.4 L786.3,282.6 L784.1,282.9 L783.7,281.8 L785.3,280.0 L785.1,279.0 L783.0,278.4 L783.0,277.2 L784.9,276.1 L785.0,275.2 L783.3,273.7 L783.6,272.6 L785.8,272.3 L786.2,271.5 L785.0,269.4 L785.6,268.4 L787.7,269.0 L788.3,268.4 L787.8,265.9 L788.6,265.2 L790.4,266.6 L791.1,266.2 L791.4,263.7 L792.4,263.4 L793.6,265.4 L794.4,265.3 L795.4,263.0 L796.4,263.1 L796.9,265.6 L797.7,265.8 L799.3,264.0 L800.2,264.5 L799.9,267.0 L800.6,267.6 L802.6,266.5 L803.3,267.3 L802.3,269.6 L802.7,270.4 L804.9,270.1 L805.3,271.2 L803.7,273.0 L803.9,274.0 L806.0,274.6 L806.0,275.8 L804.1,276.9 Z" fill="#fff" stroke="#1e1e1e" stroke-width="0.8" stroke-linejoin="round"/>
<ellipse cx="797.9" cy="277.4" rx="5.3" ry="6.8" fill="#fff" stroke="#1e1e1e" stroke-width="1.0" transform="rotate(8 797.9 277.4)" />
<ellipse cx="798.4" cy="277.8" rx="3.6" ry="5.0" fill="none" stroke="#444" stroke-width="0.6" transform="rotate(8 798.4 277.8)" />
<path d="M812.9,326.6 L815.8,328.8 L815.4,330.5 L811.8,330.7 L811.3,332.0 L813.7,335.2 L813.0,336.7 L809.5,335.8 L808.8,336.9 L810.4,340.8 L809.5,342.1 L806.4,340.1 L805.5,341.0 L806.2,345.4 L805.1,346.3 L802.5,343.4 L801.5,344.0 L801.4,348.6 L800.1,349.1 L798.2,345.4 L797.1,345.7 L796.1,350.2 L794.8,350.3 L793.8,346.0 L792.7,346.0 L790.8,350.1 L789.5,349.8 L789.4,345.3 L788.4,344.9 L785.8,348.3 L784.7,347.7 L785.4,343.1 L784.5,342.4 L781.4,345.0 L780.5,344.0 L782.1,339.8 L781.4,338.8 L777.9,340.4 L777.2,339.0 L779.6,335.4 L779.1,334.2 L775.5,334.7 L775.1,333.1 L778.1,330.2 L777.9,328.9 L774.4,328.2 L774.3,326.6 L777.7,324.7 L777.8,323.3 L774.6,321.5 L774.8,319.9 L778.4,319.0 L778.8,317.7 L776.1,314.9 L776.6,313.4 L780.2,313.7 L780.8,312.4 L778.8,308.9 L779.6,307.5 L782.9,308.9 L783.8,307.9 L782.6,303.7 L783.6,302.6 L786.5,305.1 L787.5,304.3 L787.1,299.8 L788.4,299.1 L790.6,302.5 L791.7,302.0 L792.2,297.4 L793.6,297.1 L795.0,301.1 L796.1,301.0 L797.6,296.7 L798.9,296.7 L799.4,301.2 L800.5,301.4 L802.7,297.6 L804.0,298.1 L803.6,302.6 L804.6,303.2 L807.5,300.1 L808.5,301.0 L807.3,305.4 L808.1,306.3 L811.4,304.1 L812.3,305.3 L810.3,309.3 L810.9,310.4 L814.4,309.4 L815.0,310.8 L812.3,314.1 L812.6,315.4 L816.2,315.5 L816.5,317.1 L813.2,319.5 L813.3,320.9 L816.7,322.1 L816.6,323.8 L813.1,325.2 Z" fill="#fff" stroke="#1e1e1e" stroke-width="1.0" stroke-linejoin="round"/>
<path d="M774.3,326.6 L774.6,321.5 L774.8,319.9 L776.1,314.9 L776.6,313.4 L778.8,308.9 L779.6,307.5 L782.5,303.7 L783.6,302.6 L787.1,299.8 L788.4,299.1 L792.2,297.4 L793.6,297.1 L797.6,296.7 L798.9,296.7 L802.7,297.6 L804.0,298.1 L807.0,299.4 L810.5,301.4 L811.5,302.3 L814.5,305.4 L815.3,306.6 L817.4,310.7 L818.0,312.1 L819.2,316.8 L819.5,318.4 L819.7,323.4 L819.6,325.1 L818.9,330.1 L818.4,331.8 L816.7,336.5 L816.0,338.0 L813.5,342.1 L812.5,343.4 L809.2,346.7 L808.1,347.6 L804.4,349.9 L803.1,350.4 L799.1,351.5 L797.8,351.6 L793.8,351.4 L792.5,351.1 L788.8,349.6 L785.8,348.4 L784.6,347.7 L781.4,345.0 L780.5,344.0 L777.9,340.4 L777.2,339.0 L775.5,334.7 L775.1,333.1 L774.4,328.2 Z" fill="#fff" stroke="none"/>
<path d="M788.4,344.9 L791.4,346.2" stroke="#1e1e1e" stroke-width="0.6" fill="none"/>
<path d="M785.8,348.3 L788.8,349.6" stroke="#1e1e1e" stroke-width="0.6" fill="none"/>
<path d="M784.7,347.7 L787.7,349.0" stroke="#1e1e1e" stroke-width="0.6" fill="none"/>
<path d="M785.4,343.1 L788.4,344.4" stroke="#1e1e1e" stroke-width="0.6" fill="none"/>
<path d="M784.5,342.4 L787.5,343.7" stroke="#1e1e1e" stroke-width="0.6" fill="none"/>
<path d="M781.4,345.0 L784.4,346.3" stroke="#1e1e1e" stroke-width="0.6" fill="none"/>
<path d="M780.5,344.0 L783.5,345.3" stroke="#1e1e1e" stroke-width="0.6" fill="none"/>
<path d="M782.1,339.8 L785.1,341.1" stroke="#1e1e1e" stroke-width="0.6" fill="none"/>
<path d="M781.4,338.8 L784.4,340.1" stroke="#1e1e1e" stroke-width="0.6" fill="none"/>
<path d="M777.9,340.4 L780.9,341.7" stroke="#1e1e1e" stroke-width="0.6" fill="none"/>
<path d="M777.2,339.0 L780.2,340.3" stroke="#1e1e1e" stroke-width="0.6" fill="none"/>
<path d="M779.6,335.4 L782.6,336.7" stroke="#1e1e1e" stroke-width="0.6" fill="none"/>
<path d="M779.1,334.2 L782.1,335.5" stroke="#1e1e1e" stroke-width="0.6" fill="none"/>
<path d="M775.5,334.7 L778.5,336.0" stroke="#1e1e1e" stroke-width="0.6" fill="none"/>
<path d="M775.1,333.1 L778.1,334.4" stroke="#1e1e1e" stroke-width="0.6" fill="none"/>
<path d="M778.1,330.2 L781.1,331.5" stroke="#1e1e1e" stroke-width="0.6" fill="none"/>
<path d="M777.9,328.9 L780.9,330.2" stroke="#1e1e1e" stroke-width="0.6" fill="none"/>
<path d="M774.4,328.2 L777.4,329.5" stroke="#1e1e1e" stroke-width="0.6" fill="none"/>
<path d="M774.3,326.6 L777.3,327.9" stroke="#1e1e1e" stroke-width="0.6" fill="none"/>
<path d="M777.7,324.7 L780.7,326.0" stroke="#1e1e1e" stroke-width="0.6" fill="none"/>
<path d="M777.8,323.3 L780.8,324.6" stroke="#1e1e1e" stroke-width="0.6" fill="none"/>
<path d="M774.6,321.5 L777.6,322.8" stroke="#1e1e1e" stroke-width="0.6" fill="none"/>
<path d="M774.8,319.9 L777.8,321.2" stroke="#1e1e1e" stroke-width="0.6" fill="none"/>
<path d="M778.4,319.0 L781.4,320.3" stroke="#1e1e1e" stroke-width="0.6" fill="none"/>
<path d="M778.8,317.7 L781.8,319.0" stroke="#1e1e1e" stroke-width="0.6" fill="none"/>
<path d="M776.1,314.9 L779.1,316.2" stroke="#1e1e1e" stroke-width="0.6" fill="none"/>
<path d="M776.6,313.4 L779.6,314.7" stroke="#1e1e1e" stroke-width="0.6" fill="none"/>
<path d="M780.2,313.7 L783.2,315.0" stroke="#1e1e1e" stroke-width="0.6" fill="none"/>
<path d="M780.8,312.4 L783.8,313.7" stroke="#1e1e1e" stroke-width="0.6" fill="none"/>
<path d="M778.8,308.9 L781.8,310.2" stroke="#1e1e1e" stroke-width="0.6" fill="none"/>
<path d="M779.6,307.5 L782.6,308.8" stroke="#1e1e1e" stroke-width="0.6" fill="none"/>
<path d="M782.9,308.9 L785.9,310.2" stroke="#1e1e1e" stroke-width="0.6" fill="none"/>
<path d="M783.8,307.9 L786.8,309.2" stroke="#1e1e1e" stroke-width="0.6" fill="none"/>
<path d="M782.6,303.7 L785.6,305.0" stroke="#1e1e1e" stroke-width="0.6" fill="none"/>
<path d="M783.6,302.6 L786.6,303.9" stroke="#1e1e1e" stroke-width="0.6" fill="none"/>
<path d="M786.5,305.1 L789.5,306.4" stroke="#1e1e1e" stroke-width="0.6" fill="none"/>
<path d="M787.5,304.3 L790.5,305.6" stroke="#1e1e1e" stroke-width="0.6" fill="none"/>
<path d="M787.1,299.8 L790.1,301.1" stroke="#1e1e1e" stroke-width="0.6" fill="none"/>
<path d="M788.4,299.1 L791.4,300.4" stroke="#1e1e1e" stroke-width="0.6" fill="none"/>
<path d="M790.6,302.5 L793.6,303.8" stroke="#1e1e1e" stroke-width="0.6" fill="none"/>
<path d="M791.7,302.0 L794.7,303.3" stroke="#1e1e1e" stroke-width="0.6" fill="none"/>
<path d="M792.2,297.4 L795.2,298.7" stroke="#1e1e1e" stroke-width="0.6" fill="none"/>
<path d="M793.6,297.1 L796.6,298.4" stroke="#1e1e1e" stroke-width="0.6" fill="none"/>
<path d="M795.0,301.1 L798.0,302.4" stroke="#1e1e1e" stroke-width="0.6" fill="none"/>
<path d="M796.1,301.0 L799.1,302.3" stroke="#1e1e1e" stroke-width="0.6" fill="none"/>
<path d="M797.6,296.7 L800.6,298.0" stroke="#1e1e1e" stroke-width="0.6" fill="none"/>
<path d="M798.9,296.7 L801.9,298.0" stroke="#1e1e1e" stroke-width="0.6" fill="none"/>
<path d="M799.4,301.2 L802.4,302.5" stroke="#1e1e1e" stroke-width="0.6" fill="none"/>
<path d="M800.5,301.4 L803.5,302.7" stroke="#1e1e1e" stroke-width="0.6" fill="none"/>
<path d="M802.7,297.6 L805.7,298.9" stroke="#1e1e1e" stroke-width="0.6" fill="none"/>
<path d="M815.9,327.9 L818.8,330.1 L818.4,331.8 L814.8,332.0 L814.3,333.3 L816.7,336.5 L816.0,338.0 L812.5,337.1 L811.8,338.2 L813.4,342.1 L812.5,343.4 L809.4,341.4 L808.5,342.3 L809.2,346.7 L808.1,347.6 L805.5,344.7 L804.5,345.3 L804.4,349.9 L803.1,350.4 L801.2,346.7 L800.1,347.0 L799.1,351.5 L797.8,351.6 L796.8,347.3 L795.7,347.3 L793.8,351.4 L792.5,351.1 L792.4,346.6 L791.4,346.2 L788.8,349.6 L787.7,349.0 L788.4,344.4 L787.5,343.7 L784.4,346.3 L783.5,345.3 L785.1,341.1 L784.4,340.1 L780.9,341.7 L780.2,340.3 L782.6,336.7 L782.1,335.5 L778.5,336.0 L778.1,334.4 L781.1,331.5 L780.9,330.2 L777.4,329.5 L777.3,327.9 L780.7,326.0 L780.8,324.6 L777.6,322.8 L777.8,321.2 L781.4,320.3 L781.8,319.0 L779.1,316.2 L779.6,314.7 L783.2,315.0 L783.8,313.7 L781.8,310.2 L782.6,308.8 L785.9,310.2 L786.8,309.2 L785.6,305.0 L786.6,303.9 L789.5,306.4 L790.5,305.6 L790.1,301.1 L791.4,300.4 L793.6,303.8 L794.7,303.3 L795.2,298.7 L796.6,298.4 L798.0,302.4 L799.1,302.3 L800.6,298.0 L801.9,298.0 L802.4,302.5 L803.5,302.7 L805.7,298.9 L807.0,299.4 L806.6,303.9 L807.6,304.5 L810.5,301.4 L811.5,302.3 L810.3,306.7 L811.1,307.6 L814.4,305.4 L815.3,306.6 L813.3,310.6 L813.9,311.7 L817.4,310.7 L818.0,312.1 L815.3,315.4 L815.6,316.7 L819.2,316.8 L819.5,318.4 L816.2,320.8 L816.3,322.2 L819.7,323.4 L819.6,325.1 L816.1,326.5 Z" fill="#fff" stroke="#1e1e1e" stroke-width="1.0" stroke-linejoin="round"/>
<ellipse cx="799.5" cy="325.5" rx="13.5" ry="19.0" fill="none" stroke="#1e1e1e" stroke-width="0.8" transform="rotate(10 799.5 325.5)" />
<ellipse cx="800.8" cy="325.6" rx="7.0" ry="9.0" fill="#fff" stroke="#1e1e1e" stroke-width="0.9" transform="rotate(10 800.8 325.6)" />
<ellipse cx="801.3" cy="325.9" rx="4.0" ry="6.0" fill="#fff" stroke="#444" stroke-width="0.7" transform="rotate(10 801.3 325.9)" />
<ellipse cx="829.0" cy="296.0" rx="6.5" ry="10.5" fill="#fff" stroke="#1e1e1e" stroke-width="1.0" transform="rotate(15 829.0 296.0)" />
<path d="M838.3,309.5 L826.3,306.1 L831.7,285.9 L843.7,289.3 Z" fill="#fff" stroke="none"/>
<path d="M838.3,309.5 L826.3,306.1 M843.7,289.3 L831.7,285.9" stroke="#1e1e1e" stroke-width="1.0" fill="none"/>
<path d="M838.3,309.5 L826.3,306.1" fill="none" stroke="#333" stroke-width="0.6" stroke-linejoin="round" stroke-linecap="round" />
<path d="M836.5,308.5 L824.5,305.1" fill="none" stroke="#333" stroke-width="0.6" stroke-linejoin="round" stroke-linecap="round" />
<path d="M835.1,306.6 L823.1,303.2" fill="none" stroke="#333" stroke-width="0.6" stroke-linejoin="round" stroke-linecap="round" />
<path d="M834.3,304.0 L822.3,300.6" fill="none" stroke="#333" stroke-width="0.6" stroke-linejoin="round" stroke-linecap="round" />
<path d="M834.2,300.9 L822.2,297.5" fill="none" stroke="#333" stroke-width="0.6" stroke-linejoin="round" stroke-linecap="round" />
<path d="M834.7,297.7 L822.7,294.3" fill="none" stroke="#333" stroke-width="0.6" stroke-linejoin="round" stroke-linecap="round" />
<path d="M835.9,294.7 L823.9,291.3" fill="none" stroke="#333" stroke-width="0.6" stroke-linejoin="round" stroke-linecap="round" />
<path d="M837.5,292.1 L825.5,288.7" fill="none" stroke="#333" stroke-width="0.6" stroke-linejoin="round" stroke-linecap="round" />
<path d="M839.5,290.2 L827.5,286.8" fill="none" stroke="#333" stroke-width="0.6" stroke-linejoin="round" stroke-linecap="round" />
<path d="M841.6,289.2 L829.6,285.8" fill="none" stroke="#333" stroke-width="0.6" stroke-linejoin="round" stroke-linecap="round" />
<path d="M843.7,289.3 L831.7,285.9" fill="none" stroke="#333" stroke-width="0.6" stroke-linejoin="round" stroke-linecap="round" />
<ellipse cx="841.0" cy="299.4" rx="6.5" ry="10.5" fill="#fff" stroke="#1e1e1e" stroke-width="1.0" transform="rotate(15 841.0 299.4)" />
<ellipse cx="841.3" cy="299.6" rx="4.2" ry="7.5" fill="#fff" stroke="#333" stroke-width="0.7" transform="rotate(15 841.3 299.6)" />
<path d="M843.2,292.4 L839.2,290.9" fill="none" stroke="#555" stroke-width="0.45" stroke-linejoin="round" stroke-linecap="round" />
<path d="M845.3,294.4 L841.3,292.9" fill="none" stroke="#555" stroke-width="0.45" stroke-linejoin="round" stroke-linecap="round" />
<path d="M845.8,298.4 L841.8,296.9" fill="none" stroke="#555" stroke-width="0.45" stroke-linejoin="round" stroke-linecap="round" />
<path d="M844.6,302.9 L840.6,301.4" fill="none" stroke="#555" stroke-width="0.45" stroke-linejoin="round" stroke-linecap="round" />
<path d="M842.1,306.1 L838.1,304.6" fill="none" stroke="#555" stroke-width="0.45" stroke-linejoin="round" stroke-linecap="round" />
<path d="M839.4,306.8 L835.4,305.3" fill="none" stroke="#555" stroke-width="0.45" stroke-linejoin="round" stroke-linecap="round" />
<ellipse cx="850.0" cy="310.5" rx="6.5" ry="10.5" fill="#fff" stroke="#1e1e1e" stroke-width="1.0" transform="rotate(15 850.0 310.5)" />
<path d="M858.3,324.1 L847.3,320.6 L852.7,300.4 L863.7,303.9 Z" fill="#fff" stroke="none"/>
<path d="M858.3,324.1 L847.3,320.6 M863.7,303.9 L852.7,300.4" stroke="#1e1e1e" stroke-width="1.0" fill="none"/>
<path d="M858.3,324.1 L847.3,320.6" fill="none" stroke="#333" stroke-width="0.6" stroke-linejoin="round" stroke-linecap="round" />
<path d="M856.5,323.1 L845.5,319.6" fill="none" stroke="#333" stroke-width="0.6" stroke-linejoin="round" stroke-linecap="round" />
<path d="M855.1,321.2 L844.1,317.7" fill="none" stroke="#333" stroke-width="0.6" stroke-linejoin="round" stroke-linecap="round" />
<path d="M854.3,318.6 L843.3,315.1" fill="none" stroke="#333" stroke-width="0.6" stroke-linejoin="round" stroke-linecap="round" />
<path d="M854.2,315.5 L843.2,312.0" fill="none" stroke="#333" stroke-width="0.6" stroke-linejoin="round" stroke-linecap="round" />
<path d="M854.7,312.3 L843.7,308.8" fill="none" stroke="#333" stroke-width="0.6" stroke-linejoin="round" stroke-linecap="round" />
<path d="M855.9,309.3 L844.9,305.8" fill="none" stroke="#333" stroke-width="0.6" stroke-linejoin="round" stroke-linecap="round" />
<path d="M857.5,306.7 L846.5,303.2" fill="none" stroke="#333" stroke-width="0.6" stroke-linejoin="round" stroke-linecap="round" />
<path d="M859.5,304.8 L848.5,301.3" fill="none" stroke="#333" stroke-width="0.6" stroke-linejoin="round" stroke-linecap="round" />
<path d="M861.6,303.8 L850.6,300.3" fill="none" stroke="#333" stroke-width="0.6" stroke-linejoin="round" stroke-linecap="round" />
<path d="M863.7,303.9 L852.7,300.4" fill="none" stroke="#333" stroke-width="0.6" stroke-linejoin="round" stroke-linecap="round" />
<ellipse cx="861.0" cy="314.0" rx="6.5" ry="10.5" fill="#fff" stroke="#1e1e1e" stroke-width="1.0" transform="rotate(15 861.0 314.0)" />
<ellipse cx="861.3" cy="314.2" rx="4.2" ry="7.5" fill="#fff" stroke="#333" stroke-width="0.7" transform="rotate(15 861.3 314.2)" />
<path d="M863.2,307.0 L859.2,305.5" fill="none" stroke="#555" stroke-width="0.45" stroke-linejoin="round" stroke-linecap="round" />
<path d="M865.3,309.0 L861.3,307.5" fill="none" stroke="#555" stroke-width="0.45" stroke-linejoin="round" stroke-linecap="round" />
<path d="M865.8,313.0 L861.8,311.5" fill="none" stroke="#555" stroke-width="0.45" stroke-linejoin="round" stroke-linecap="round" />
<path d="M864.6,317.5 L860.6,316.0" fill="none" stroke="#555" stroke-width="0.45" stroke-linejoin="round" stroke-linecap="round" />
<path d="M862.1,320.7 L858.1,319.2" fill="none" stroke="#555" stroke-width="0.45" stroke-linejoin="round" stroke-linecap="round" />
<path d="M859.4,321.4 L855.4,319.9" fill="none" stroke="#555" stroke-width="0.45" stroke-linejoin="round" stroke-linecap="round" />
<ellipse cx="825.0" cy="340.5" rx="6.5" ry="10.5" fill="#fff" stroke="#1e1e1e" stroke-width="1.0" transform="rotate(15 825.0 340.5)" />
<path d="M833.3,354.1 L822.3,350.6 L827.7,330.4 L838.7,333.9 Z" fill="#fff" stroke="none"/>
<path d="M833.3,354.1 L822.3,350.6 M838.7,333.9 L827.7,330.4" stroke="#1e1e1e" stroke-width="1.0" fill="none"/>
<path d="M833.3,354.1 L822.3,350.6" fill="none" stroke="#333" stroke-width="0.6" stroke-linejoin="round" stroke-linecap="round" />
<path d="M831.5,353.1 L820.5,349.6" fill="none" stroke="#333" stroke-width="0.6" stroke-linejoin="round" stroke-linecap="round" />
<path d="M830.1,351.2 L819.1,347.7" fill="none" stroke="#333" stroke-width="0.6" stroke-linejoin="round" stroke-linecap="round" />
<path d="M829.3,348.6 L818.3,345.1" fill="none" stroke="#333" stroke-width="0.6" stroke-linejoin="round" stroke-linecap="round" />
<path d="M829.2,345.5 L818.2,342.0" fill="none" stroke="#333" stroke-width="0.6" stroke-linejoin="round" stroke-linecap="round" />
<path d="M829.7,342.3 L818.7,338.8" fill="none" stroke="#333" stroke-width="0.6" stroke-linejoin="round" stroke-linecap="round" />
<path d="M830.9,339.3 L819.9,335.8" fill="none" stroke="#333" stroke-width="0.6" stroke-linejoin="round" stroke-linecap="round" />
<path d="M832.5,336.7 L821.5,333.2" fill="none" stroke="#333" stroke-width="0.6" stroke-linejoin="round" stroke-linecap="round" />
<path d="M834.5,334.8 L823.5,331.3" fill="none" stroke="#333" stroke-width="0.6" stroke-linejoin="round" stroke-linecap="round" />
<path d="M836.6,333.8 L825.6,330.3" fill="none" stroke="#333" stroke-width="0.6" stroke-linejoin="round" stroke-linecap="round" />
<path d="M838.7,333.9 L827.7,330.4" fill="none" stroke="#333" stroke-width="0.6" stroke-linejoin="round" stroke-linecap="round" />
<ellipse cx="836.0" cy="344.0" rx="6.5" ry="10.5" fill="#fff" stroke="#1e1e1e" stroke-width="1.0" transform="rotate(15 836.0 344.0)" />
<ellipse cx="836.3" cy="344.2" rx="4.2" ry="7.5" fill="#fff" stroke="#333" stroke-width="0.7" transform="rotate(15 836.3 344.2)" />
<path d="M838.2,337.0 L834.2,335.5" fill="none" stroke="#555" stroke-width="0.45" stroke-linejoin="round" stroke-linecap="round" />
<path d="M840.3,339.0 L836.3,337.5" fill="none" stroke="#555" stroke-width="0.45" stroke-linejoin="round" stroke-linecap="round" />
<path d="M840.8,343.0 L836.8,341.5" fill="none" stroke="#555" stroke-width="0.45" stroke-linejoin="round" stroke-linecap="round" />
<path d="M839.6,347.5 L835.6,346.0" fill="none" stroke="#555" stroke-width="0.45" stroke-linejoin="round" stroke-linecap="round" />
<path d="M837.1,350.7 L833.1,349.2" fill="none" stroke="#555" stroke-width="0.45" stroke-linejoin="round" stroke-linecap="round" />
<path d="M834.4,351.4 L830.4,349.9" fill="none" stroke="#555" stroke-width="0.45" stroke-linejoin="round" stroke-linecap="round" />
<ellipse cx="882.0" cy="325.5" rx="4.8" ry="7.2" fill="#fff" stroke="#1e1e1e" stroke-width="1.0" transform="rotate(25 882.0 325.5)" />
<path d="M900.0,343.5 L879.0,332.0 L885.0,319.0 L906.0,330.5 Z" fill="#fff" stroke="none"/>
<path d="M900.0,343.5 L879.0,332.0 M906.0,330.5 L885.0,319.0" stroke="#1e1e1e" stroke-width="1.0" fill="none"/>
<ellipse cx="903.0" cy="337.0" rx="4.8" ry="7.2" fill="#fff" stroke="#1e1e1e" stroke-width="1.0" transform="rotate(25 903.0 337.0)" />
<ellipse cx="903.3" cy="337.2" rx="2.0" ry="2.8" fill="#fff" stroke="#333" stroke-width="0.7" transform="rotate(25 903.3 337.2)" />
<ellipse cx="852.0" cy="355.5" rx="4.8" ry="7.2" fill="#fff" stroke="#1e1e1e" stroke-width="1.0" transform="rotate(25 852.0 355.5)" />
<path d="M869.5,373.5 L849.0,362.0 L855.0,349.0 L875.5,360.5 Z" fill="#fff" stroke="none"/>
<path d="M869.5,373.5 L849.0,362.0 M875.5,360.5 L855.0,349.0" stroke="#1e1e1e" stroke-width="1.0" fill="none"/>
<ellipse cx="872.5" cy="367.0" rx="4.8" ry="7.2" fill="#fff" stroke="#1e1e1e" stroke-width="1.0" transform="rotate(25 872.5 367.0)" />
<ellipse cx="872.8" cy="367.2" rx="2.0" ry="2.8" fill="#fff" stroke="#333" stroke-width="0.7" transform="rotate(25 872.8 367.2)" />
<path d="M1017.3,396.0 C1015.6,399.2 1017.1,404.2 1014.7,407.7 C1012.3,411.2 1006.7,413.4 1003.0,416.9 C999.3,420.4 995.1,424.9 992.5,428.6 C989.9,432.3 988.6,436.4 987.3,439.0 C986.0,441.6 984.2,441.5 984.7,444.2 C985.2,446.9 987.5,452.0 990.0,455.0 C992.5,458.0 992.9,460.6 1000.0,462.0 C1007.1,463.4 1026.6,464.7 1032.9,463.7 C1039.2,462.7 1036.1,458.5 1038.1,455.9 C1040.0,453.3 1042.0,451.4 1044.6,448.1 C1047.2,444.9 1051.3,440.3 1053.7,436.4 C1056.1,432.5 1057.6,428.6 1058.9,424.7 C1060.2,420.8 1060.8,416.5 1061.5,413.0 C1062.2,409.5 1061.3,406.0 1062.8,403.8 C1064.3,401.6 1070.1,403.0 1070.6,400.0 C1071.1,397.0 1068.0,388.7 1066.0,386.0 C1064.0,383.3 1062.2,384.5 1058.9,383.7 C1055.6,382.9 1050.2,381.1 1045.9,381.1 C1041.6,381.1 1036.4,382.5 1032.9,383.7 C1029.4,384.9 1027.6,386.1 1025.0,388.2 C1022.4,390.2 1019.0,392.8 1017.3,396.0 Z" fill="#fff" stroke="#1e1e1e" stroke-width="1.1" stroke-linejoin="round" stroke-linecap="round" />
<path d="M1022.5,405.1 C1020.8,406.4 1015.9,409.7 1012.0,413.0 C1008.1,416.3 1002.5,420.6 999.0,424.7 C995.5,428.8 993.0,434.1 991.2,437.7 C989.4,441.2 988.5,444.6 988.0,446.0" fill="none" stroke="#444" stroke-width="0.7" stroke-linejoin="round" stroke-linecap="round" />
<path d="M1036.0,392.0 C1037.7,391.0 1042.7,386.5 1046.0,386.0 C1049.3,385.5 1053.7,387.3 1056.0,389.0 C1058.3,390.7 1059.7,393.8 1060.0,396.0 C1060.3,398.2 1058.3,401.0 1058.0,402.0" fill="none" stroke="#444" stroke-width="0.7" stroke-linejoin="round" stroke-linecap="round" />
<ellipse cx="1043.3" cy="418.2" rx="8.5" ry="11.0" fill="#fff" stroke="#444" stroke-width="0.8" transform="rotate(15 1043.3 418.2)" />
<ellipse cx="1018.6" cy="449.4" rx="8.5" ry="10.0" fill="#fff" stroke="#444" stroke-width="0.8" transform="rotate(15 1018.6 449.4)" />
<path d="M1033.0,402.0 L1038.0,410.0" fill="none" stroke="#444" stroke-width="0.7" stroke-linejoin="round" stroke-linecap="round" />
<path d="M1048.0,410.0 L1056.0,404.0" fill="none" stroke="#444" stroke-width="0.7" stroke-linejoin="round" stroke-linecap="round" />
<path d="M1040.0,429.0 L1030.0,440.0" fill="none" stroke="#444" stroke-width="0.7" stroke-linejoin="round" stroke-linecap="round" />
<path d="M1047.0,429.0 L1052.0,437.0" fill="none" stroke="#444" stroke-width="0.7" stroke-linejoin="round" stroke-linecap="round" />
<path d="M1008.0,436.0 L1012.0,445.0" fill="none" stroke="#444" stroke-width="0.7" stroke-linejoin="round" stroke-linecap="round" />
<path d="M1025.0,451.0 L1036.0,454.0" fill="none" stroke="#444" stroke-width="0.7" stroke-linejoin="round" stroke-linecap="round" />
<ellipse cx="1023.0" cy="391.5" rx="6.5" ry="8.0" fill="#fff" stroke="#1e1e1e" stroke-width="1.0" transform="rotate(20 1023.0 391.5)" />
<path d="M1028.3,402.9 L1020.3,399.0 L1025.7,384.0 L1033.7,387.9 Z" fill="#fff" stroke="none"/>
<path d="M1028.3,402.9 L1020.3,399.0 M1033.7,387.9 L1025.7,384.0" stroke="#1e1e1e" stroke-width="1.0" fill="none"/>
<ellipse cx="1031.0" cy="395.4" rx="6.5" ry="8.0" fill="#fff" stroke="#1e1e1e" stroke-width="1.0" transform="rotate(20 1031.0 395.4)" />
<ellipse cx="1031.0" cy="395.4" rx="3.9" ry="4.8" fill="#fff" stroke="#1e1e1e" stroke-width="0.9" transform="rotate(20 1031.0 395.4)" />
<ellipse cx="1062.0" cy="390.5" rx="5.8" ry="7.5" fill="#fff" stroke="#1e1e1e" stroke-width="1.0" transform="rotate(20 1062.0 390.5)" />
<path d="M1065.4,400.4 L1059.4,397.5 L1064.6,383.5 L1070.6,386.4 Z" fill="#fff" stroke="none"/>
<path d="M1065.4,400.4 L1059.4,397.5 M1070.6,386.4 L1064.6,383.5" stroke="#1e1e1e" stroke-width="1.0" fill="none"/>
<ellipse cx="1068.0" cy="393.4" rx="5.8" ry="7.5" fill="#fff" stroke="#1e1e1e" stroke-width="1.0" transform="rotate(20 1068.0 393.4)" />
<ellipse cx="1068.0" cy="393.4" rx="3.5" ry="4.5" fill="#fff" stroke="#1e1e1e" stroke-width="0.9" transform="rotate(20 1068.0 393.4)" />
<ellipse cx="1047.0" cy="443.5" rx="5.2" ry="6.5" fill="#fff" stroke="#1e1e1e" stroke-width="1.0" transform="rotate(20 1047.0 443.5)" />
<path d="M1048.9,451.6 L1044.8,449.6 L1049.2,437.4 L1053.3,439.4 Z" fill="#fff" stroke="none"/>
<path d="M1048.9,451.6 L1044.8,449.6 M1053.3,439.4 L1049.2,437.4" stroke="#1e1e1e" stroke-width="1.0" fill="none"/>
<ellipse cx="1051.1" cy="445.5" rx="5.2" ry="6.5" fill="#fff" stroke="#1e1e1e" stroke-width="1.0" transform="rotate(20 1051.1 445.5)" />
<ellipse cx="1051.1" cy="445.5" rx="3.1" ry="3.9" fill="#fff" stroke="#1e1e1e" stroke-width="0.9" transform="rotate(20 1051.1 445.5)" />
<path d="M984.6,445.2 C987.8,445.0 988.1,447.8 992.4,450.4 C996.7,453.0 1004.5,456.9 1010.6,460.8 C1016.7,464.7 1024.1,468.7 1028.9,473.9 C1033.7,479.1 1036.7,484.7 1039.3,492.1 C1041.9,499.5 1043.8,509.4 1044.5,518.1 C1045.2,526.8 1044.5,535.5 1043.2,544.2 C1041.9,552.9 1040.0,562.0 1036.7,570.2 C1033.4,578.4 1028.8,586.7 1023.6,593.6 C1018.4,600.5 1012.8,607.1 1005.4,611.9 C998.0,616.7 988.1,619.3 979.4,622.3 C970.7,625.3 960.7,628.4 953.3,630.1 C945.9,631.8 941.2,634.0 935.1,632.7 C929.0,631.4 923.4,625.3 916.9,622.3 C910.4,619.3 901.6,617.1 896.0,614.5 C890.4,611.9 886.0,611.5 883.0,606.7 C880.0,601.9 878.4,594.0 877.8,585.8 C877.1,577.5 878.6,564.0 879.1,557.2 C879.6,550.4 880.2,547.6 881.0,545.0 C881.8,542.4 882.7,544.0 884.0,541.6 C885.3,539.2 886.6,534.2 888.8,530.6 C890.9,527.0 894.5,521.9 896.6,519.7 C898.7,517.5 898.4,517.8 901.2,517.3 C904.1,516.8 910.8,517.2 913.8,516.6 C916.7,516.0 918.2,515.2 919.2,513.4 C920.2,511.6 920.6,507.9 920.0,505.6 C919.4,503.3 916.9,501.2 915.3,499.4 C913.7,497.6 911.1,496.0 910.6,494.7 C910.1,493.4 910.4,492.9 912.2,491.6 C914.0,490.3 918.7,489.2 921.6,486.9 C924.5,484.5 927.1,480.1 929.4,477.5 C931.7,474.9 932.5,473.7 935.6,471.3 C938.7,468.9 944.4,465.5 948.0,463.4 C951.6,461.3 953.3,460.7 957.5,458.8 C961.7,456.8 968.5,454.0 973.0,451.7 C977.5,449.4 981.4,445.4 984.6,445.2 Z" fill="#fff" stroke="#1e1e1e" stroke-width="1.2" stroke-linejoin="round" stroke-linecap="round" />
<path d="M886.0,548.0 C885.7,553.3 883.7,570.7 884.0,580.0 C884.3,589.3 885.3,598.7 888.0,604.0 C890.7,609.3 894.7,609.8 900.0,612.0 C905.3,614.2 914.3,614.7 920.0,617.0 C925.7,619.3 931.7,624.5 934.0,626.0" fill="none" stroke="#444" stroke-width="0.7" stroke-linejoin="round" stroke-linecap="round" />
<path d="M915.0,520.0 C916.7,521.7 922.5,525.8 925.0,530.0 C927.5,534.2 929.7,538.3 930.0,545.0 C930.3,551.7 927.0,560.8 927.0,570.0 C927.0,579.2 928.5,590.3 930.0,600.0 C931.5,609.7 935.0,623.3 936.0,628.0" fill="none" stroke="#444" stroke-width="0.7" stroke-linejoin="round" stroke-linecap="round" />
<path d="M900.0,545.0 C900.8,547.5 904.2,552.5 905.0,560.0 C905.8,567.5 904.5,581.3 905.0,590.0 C905.5,598.7 907.5,608.3 908.0,612.0" fill="none" stroke="#444" stroke-width="0.6" stroke-linejoin="round" stroke-linecap="round" />
<path d="M922.0,506.0 C925.8,507.0 937.0,509.7 945.0,512.0 C953.0,514.3 963.3,517.0 970.0,520.0 C976.7,523.0 980.8,526.7 985.0,530.0 C989.2,533.3 993.3,538.3 995.0,540.0" fill="none" stroke="#444" stroke-width="0.7" stroke-linejoin="round" stroke-linecap="round" />
<path d="M952.0,486.0 C955.8,487.5 967.0,492.7 975.0,495.0 C983.0,497.3 992.2,498.3 1000.0,500.0 C1007.8,501.7 1016.2,502.5 1022.0,505.0 C1027.8,507.5 1032.8,513.3 1035.0,515.0" fill="none" stroke="#444" stroke-width="0.7" stroke-linejoin="round" stroke-linecap="round" />
<path d="M966.0,548.0 C966.3,543.3 964.8,528.0 968.0,520.0 C971.2,512.0 978.0,504.7 985.0,500.0 C992.0,495.3 1002.5,492.0 1010.0,492.0 C1017.5,492.0 1025.0,495.3 1030.0,500.0 C1035.0,504.7 1038.3,511.7 1040.0,520.0 C1041.7,528.3 1041.7,540.0 1040.0,550.0 C1038.3,560.0 1034.7,571.7 1030.0,580.0 C1025.3,588.3 1018.7,595.0 1012.0,600.0 C1005.3,605.0 997.0,609.0 990.0,610.0 C983.0,611.0 975.0,609.3 970.0,606.0 C965.0,602.7 962.0,596.0 960.0,590.0 C958.0,584.0 958.3,573.3 958.0,570.0" fill="none" stroke="#333" stroke-width="0.8" stroke-linejoin="round" stroke-linecap="round" />
<path d="M975.0,545.0 C975.8,541.7 976.7,530.5 980.0,525.0 C983.3,519.5 989.2,514.8 995.0,512.0 C1000.8,509.2 1008.7,506.7 1015.0,508.0 C1021.3,509.3 1030.0,518.0 1033.0,520.0" fill="none" stroke="#444" stroke-width="0.6" stroke-linejoin="round" stroke-linecap="round" />
<ellipse cx="1005.4" cy="562.4" rx="19.5" ry="25.0" fill="#fff" stroke="#1e1e1e" stroke-width="1.0" transform="rotate(15 1005.4 562.4)" />
<ellipse cx="1007.0" cy="563.0" rx="14.5" ry="20.0" fill="#fff" stroke="#1e1e1e" stroke-width="0.9" transform="rotate(15 1007.0 563.0)" />
<path d="M996.0,550.0 L1018.0,546.5" fill="none" stroke="#444" stroke-width="0.6" stroke-linejoin="round" stroke-linecap="round" />
<path d="M996.0,553.3 L1018.0,549.8" fill="none" stroke="#444" stroke-width="0.6" stroke-linejoin="round" stroke-linecap="round" />
<path d="M996.0,556.6 L1018.0,553.1" fill="none" stroke="#444" stroke-width="0.6" stroke-linejoin="round" stroke-linecap="round" />
<path d="M996.0,559.9 L1018.0,556.4" fill="none" stroke="#444" stroke-width="0.6" stroke-linejoin="round" stroke-linecap="round" />
<path d="M996.0,563.2 L1018.0,559.7" fill="none" stroke="#444" stroke-width="0.6" stroke-linejoin="round" stroke-linecap="round" />
<path d="M996.0,566.5 L1018.0,563.0" fill="none" stroke="#444" stroke-width="0.6" stroke-linejoin="round" stroke-linecap="round" />
<path d="M996.0,569.8 L1018.0,566.3" fill="none" stroke="#444" stroke-width="0.6" stroke-linejoin="round" stroke-linecap="round" />
<path d="M996.0,573.1 L1018.0,569.6" fill="none" stroke="#444" stroke-width="0.6" stroke-linejoin="round" stroke-linecap="round" />
<path d="M996.0,576.4 L1018.0,572.9" fill="none" stroke="#444" stroke-width="0.6" stroke-linejoin="round" stroke-linecap="round" />
<ellipse cx="1005.4" cy="562.4" rx="19.5" ry="25.0" fill="none" stroke="#1e1e1e" stroke-width="1.0" transform="rotate(15 1005.4 562.4)" />
<ellipse cx="980.0" cy="448.5" rx="6.5" ry="8.0" fill="#fff" stroke="#1e1e1e" stroke-width="1.0" transform="rotate(20 980.0 448.5)" />
<path d="M988.5,460.8 L977.3,456.0 L982.7,441.0 L993.9,445.8 Z" fill="#fff" stroke="none"/>
<path d="M988.5,460.8 L977.3,456.0 M993.9,445.8 L982.7,441.0" stroke="#1e1e1e" stroke-width="1.0" fill="none"/>
<ellipse cx="991.2" cy="453.3" rx="6.5" ry="8.0" fill="#fff" stroke="#1e1e1e" stroke-width="1.0" transform="rotate(20 991.2 453.3)" />
<ellipse cx="991.2" cy="453.3" rx="3.9" ry="4.8" fill="#fff" stroke="#1e1e1e" stroke-width="0.9" transform="rotate(20 991.2 453.3)" />
<ellipse cx="941.0" cy="468.5" rx="6.5" ry="7.8" fill="#fff" stroke="#1e1e1e" stroke-width="1.0" transform="rotate(20 941.0 468.5)" />
<path d="M947.8,480.9 L938.3,475.8 L943.7,461.2 L953.2,466.3 Z" fill="#fff" stroke="none"/>
<path d="M947.8,480.9 L938.3,475.8 M953.2,466.3 L943.7,461.2" stroke="#1e1e1e" stroke-width="1.0" fill="none"/>
<ellipse cx="950.5" cy="473.6" rx="6.5" ry="7.8" fill="#fff" stroke="#1e1e1e" stroke-width="1.0" transform="rotate(20 950.5 473.6)" />
<ellipse cx="950.5" cy="473.6" rx="3.8" ry="4.5" fill="#fff" stroke="#1e1e1e" stroke-width="0.9" transform="rotate(20 950.5 473.6)" />
<path d="M956,471.3 L971.6,480.6 Q975,487 966.9,493.1 L956,486.9" fill="#fff" stroke="#333" stroke-width="0.8" stroke-linejoin="round" stroke-linecap="round" />
<ellipse cx="893.0" cy="529.0" rx="6.8" ry="8.0" fill="#fff" stroke="#1e1e1e" stroke-width="1.0" transform="rotate(20 893.0 529.0)" />
<path d="M900.9,541.3 L890.3,536.5 L895.7,521.5 L906.3,526.3 Z" fill="#fff" stroke="none"/>
<path d="M900.9,541.3 L890.3,536.5 M906.3,526.3 L895.7,521.5" stroke="#1e1e1e" stroke-width="1.0" fill="none"/>
<ellipse cx="903.6" cy="533.8" rx="6.8" ry="8.0" fill="#fff" stroke="#1e1e1e" stroke-width="1.0" transform="rotate(20 903.6 533.8)" />
<ellipse cx="903.6" cy="533.8" rx="3.9" ry="4.6" fill="#fff" stroke="#1e1e1e" stroke-width="0.9" transform="rotate(20 903.6 533.8)" />
<ellipse cx="961.0" cy="517.0" rx="4.0" ry="5.5" fill="#fff" stroke="#1e1e1e" stroke-width="1.0" transform="rotate(20 961.0 517.0)" />
<path d="M966.1,526.2 L959.1,522.2 L962.9,511.8 L969.9,515.8 Z" fill="#fff" stroke="none"/>
<path d="M966.1,526.2 L959.1,522.2 M969.9,515.8 L962.9,511.8" stroke="#1e1e1e" stroke-width="1.0" fill="none"/>
<ellipse cx="968.0" cy="521.0" rx="4.0" ry="5.5" fill="#fff" stroke="#1e1e1e" stroke-width="1.0" transform="rotate(20 968.0 521.0)" />
<ellipse cx="968.0" cy="521.0" rx="0.0" ry="0.0" fill="#fff" stroke="#1e1e1e" stroke-width="0.9" transform="rotate(20 968.0 521.0)" />
<ellipse cx="949.0" cy="545.5" rx="4.0" ry="5.5" fill="#fff" stroke="#1e1e1e" stroke-width="1.0" transform="rotate(20 949.0 545.5)" />
<path d="M953.1,554.2 L947.1,550.7 L950.9,540.3 L956.9,543.8 Z" fill="#fff" stroke="none"/>
<path d="M953.1,554.2 L947.1,550.7 M956.9,543.8 L950.9,540.3" stroke="#1e1e1e" stroke-width="1.0" fill="none"/>
<ellipse cx="955.0" cy="549.0" rx="4.0" ry="5.5" fill="#fff" stroke="#1e1e1e" stroke-width="1.0" transform="rotate(20 955.0 549.0)" />
<ellipse cx="955.0" cy="549.0" rx="0.0" ry="0.0" fill="#fff" stroke="#1e1e1e" stroke-width="0.9" transform="rotate(20 955.0 549.0)" />
<path d="M928,486 L935,492 L930,503 L924,500 Z" fill="#fff" stroke="#444" stroke-width="0.7" stroke-linejoin="round" stroke-linecap="round" />
<path d="M915,499 L930,497 L934,505 L920,510" fill="none" stroke="#444" stroke-width="0.6" stroke-linejoin="round" stroke-linecap="round" />
<path d="M897,616 L905,610 L912,614 L914,622" fill="none" stroke="#444" stroke-width="0.6" stroke-linejoin="round" stroke-linecap="round" />
<path d="M1060.0,576.0 L1110.0,602.0" fill="none" stroke="#888" stroke-width="0.6" stroke-dasharray="6,2,1.5,2" stroke-linejoin="round" stroke-linecap="round" />
<path d="M1055.0,472.0 L1095.0,490.0" fill="none" stroke="#888" stroke-width="0.6" stroke-dasharray="6,2,1.5,2" stroke-linejoin="round" stroke-linecap="round" />
<path d="M857.0,458.5 L874.0,467.0" fill="none" stroke="#888" stroke-width="0.6" stroke-dasharray="6,2,1.5,2" stroke-linejoin="round" stroke-linecap="round" />
<path d="M884.0,472.0 L925.0,493.0" fill="none" stroke="#888" stroke-width="0.6" stroke-dasharray="6,2,1.5,2" stroke-linejoin="round" stroke-linecap="round" />
<path d="M1020.0,615.0 L1060.0,671.0" fill="none" stroke="#888" stroke-width="0.6" stroke-dasharray="6,2,1.5,2" stroke-linejoin="round" stroke-linecap="round" />
<ellipse cx="1053.0" cy="588.6" rx="10.5" ry="13.8" fill="none" stroke="#111" stroke-width="1.4" transform="rotate(20 1053.0 588.6)" />
<ellipse cx="1076.0" cy="601.5" rx="12.0" ry="17.5" fill="#fff" stroke="#1e1e1e" stroke-width="1.0" transform="rotate(20 1076.0 601.5)" />
<path d="M1082.0,623.4 L1070.0,617.9 L1082.0,585.1 L1094.0,590.6 Z" fill="#fff" stroke="none"/>
<path d="M1082.0,623.4 L1070.0,617.9 M1094.0,590.6 L1082.0,585.1" stroke="#1e1e1e" stroke-width="1.0" fill="none"/>
<path d="M1094.3,590.8 A12,17.5 20 0 0 1080.2,622.6" fill="none" stroke="#444" stroke-width="0.6"/>
<path d="M1092.8,590.1 A12,17.5 20 0 0 1078.7,621.9" fill="none" stroke="#444" stroke-width="0.6"/>
<path d="M1091.3,589.4 A12,17.5 20 0 0 1077.2,621.3" fill="none" stroke="#444" stroke-width="0.6"/>
<path d="M1089.8,588.7 A12,17.5 20 0 0 1075.7,620.6" fill="none" stroke="#444" stroke-width="0.6"/>
<path d="M1088.3,588.1 A12,17.5 20 0 0 1074.2,619.9" fill="none" stroke="#444" stroke-width="0.6"/>
<path d="M1086.8,587.4 A12,17.5 20 0 0 1072.7,619.2" fill="none" stroke="#444" stroke-width="0.6"/>
<path d="M1085.3,586.7 A12,17.5 20 0 0 1071.2,618.5" fill="none" stroke="#444" stroke-width="0.6"/>
<ellipse cx="1093.0" cy="610.6" rx="16.0" ry="21.5" fill="#fff" stroke="#1e1e1e" stroke-width="1.1" transform="rotate(20 1093.0 610.6)" />
<path d="M1089.6,632.8 L1085.6,630.8 L1100.4,590.4 L1104.4,592.4 Z" fill="#fff" stroke="none"/>
<path d="M1089.6,632.8 L1085.6,630.8 M1104.4,592.4 L1100.4,590.4" stroke="#1e1e1e" stroke-width="1.1" fill="none"/>
<ellipse cx="1097.0" cy="612.6" rx="16.0" ry="21.5" fill="#fff" stroke="#1e1e1e" stroke-width="1.1" transform="rotate(20 1097.0 612.6)" />
<ellipse cx="1097.7" cy="613.6" rx="10.5" ry="14.5" fill="#fff" stroke="#1e1e1e" stroke-width="0.9" transform="rotate(20 1097.7 613.6)" />
<path d="M1101.7,616.6 L1095.1,620.3 L1089.8,615.7 L1091.3,607.4 L1097.9,603.7 L1103.2,608.3 Z" fill="#fff" stroke="#1e1e1e" stroke-width="0.9" stroke-linejoin="round" stroke-linecap="round" />
<ellipse cx="1097.5" cy="613.0" rx="3.5" ry="4.5" fill="none" stroke="#444" stroke-width="0.6" transform="rotate(20 1097.5 613.0)" />
<path d="M1073.0,421.0 L1089.5,430.0" fill="none" stroke="#1e1e1e" stroke-width="4.0" stroke-linejoin="round" stroke-linecap="round" />
<path d="M1073.0,421.0 L1089.5,430.0" fill="none" stroke="#fff" stroke-width="2.4" stroke-linejoin="round" stroke-linecap="round" />
<path d="M1073.7,419.9 L1074.7,423.5" fill="none" stroke="#333" stroke-width="0.5" stroke-linejoin="round" stroke-linecap="round" />
<path d="M1076.2,421.2 L1077.2,424.8" fill="none" stroke="#333" stroke-width="0.5" stroke-linejoin="round" stroke-linecap="round" />
<path d="M1078.7,422.6 L1079.7,426.2" fill="none" stroke="#333" stroke-width="0.5" stroke-linejoin="round" stroke-linecap="round" />
<path d="M1081.2,423.9 L1082.2,427.5" fill="none" stroke="#333" stroke-width="0.5" stroke-linejoin="round" stroke-linecap="round" />
<path d="M1083.6,425.3 L1084.6,428.9" fill="none" stroke="#333" stroke-width="0.5" stroke-linejoin="round" stroke-linecap="round" />
<path d="M1086.1,426.6 L1087.1,430.2" fill="none" stroke="#333" stroke-width="0.5" stroke-linejoin="round" stroke-linecap="round" />
<ellipse cx="1088.5" cy="429.4" rx="3.3" ry="4.3" fill="#fff" stroke="#1e1e1e" stroke-width="1.0" transform="rotate(25 1088.5 429.4)" />
<path d="M1090.2,435.3 L1086.7,433.3 L1090.3,425.5 L1093.8,427.5 Z" fill="#fff" stroke="none"/>
<path d="M1090.2,435.3 L1086.7,433.3 M1093.8,427.5 L1090.3,425.5" stroke="#1e1e1e" stroke-width="1.0" fill="none"/>
<ellipse cx="1092.0" cy="431.4" rx="3.3" ry="4.3" fill="#fff" stroke="#1e1e1e" stroke-width="1.0" transform="rotate(25 1092.0 431.4)" />
<ellipse cx="1092.1" cy="431.5" rx="1.4" ry="1.9" fill="#fff" stroke="#333" stroke-width="0.6" transform="rotate(25 1092.1 431.5)" />
<path d="M1048.0,482.0 L1065.0,492.0" fill="none" stroke="#1e1e1e" stroke-width="4.0" stroke-linejoin="round" stroke-linecap="round" />
<path d="M1048.0,482.0 L1065.0,492.0" fill="none" stroke="#fff" stroke-width="2.4" stroke-linejoin="round" stroke-linecap="round" />
<path d="M1048.8,480.9 L1049.8,484.6" fill="none" stroke="#333" stroke-width="0.5" stroke-linejoin="round" stroke-linecap="round" />
<path d="M1051.3,482.4 L1052.3,486.1" fill="none" stroke="#333" stroke-width="0.5" stroke-linejoin="round" stroke-linecap="round" />
<path d="M1053.9,483.9 L1054.9,487.6" fill="none" stroke="#333" stroke-width="0.5" stroke-linejoin="round" stroke-linecap="round" />
<path d="M1056.4,485.4 L1057.4,489.1" fill="none" stroke="#333" stroke-width="0.5" stroke-linejoin="round" stroke-linecap="round" />
<path d="M1059.0,486.9 L1060.0,490.6" fill="none" stroke="#333" stroke-width="0.5" stroke-linejoin="round" stroke-linecap="round" />
<path d="M1061.5,488.4 L1062.5,492.1" fill="none" stroke="#333" stroke-width="0.5" stroke-linejoin="round" stroke-linecap="round" />
<ellipse cx="1064.0" cy="491.4" rx="3.3" ry="4.3" fill="#fff" stroke="#1e1e1e" stroke-width="1.0" transform="rotate(25 1064.0 491.4)" />
<path d="M1065.7,497.3 L1062.2,495.3 L1065.8,487.5 L1069.3,489.5 Z" fill="#fff" stroke="none"/>
<path d="M1065.7,497.3 L1062.2,495.3 M1069.3,489.5 L1065.8,487.5" stroke="#1e1e1e" stroke-width="1.0" fill="none"/>
<ellipse cx="1067.5" cy="493.4" rx="3.3" ry="4.3" fill="#fff" stroke="#1e1e1e" stroke-width="1.0" transform="rotate(25 1067.5 493.4)" />
<ellipse cx="1067.6" cy="493.5" rx="1.4" ry="1.9" fill="#fff" stroke="#333" stroke-width="0.6" transform="rotate(25 1067.6 493.5)" />
<path d="M1042.0,660.5 L1058.0,669.5" fill="none" stroke="#1e1e1e" stroke-width="4.0" stroke-linejoin="round" stroke-linecap="round" />
<path d="M1042.0,660.5 L1058.0,669.5" fill="none" stroke="#fff" stroke-width="2.4" stroke-linejoin="round" stroke-linecap="round" />
<path d="M1042.7,659.4 L1043.7,663.0" fill="none" stroke="#333" stroke-width="0.5" stroke-linejoin="round" stroke-linecap="round" />
<path d="M1045.1,660.7 L1046.1,664.3" fill="none" stroke="#333" stroke-width="0.5" stroke-linejoin="round" stroke-linecap="round" />
<path d="M1047.5,662.1 L1048.5,665.7" fill="none" stroke="#333" stroke-width="0.5" stroke-linejoin="round" stroke-linecap="round" />
<path d="M1049.9,663.4 L1050.9,667.0" fill="none" stroke="#333" stroke-width="0.5" stroke-linejoin="round" stroke-linecap="round" />
<path d="M1052.3,664.8 L1053.3,668.4" fill="none" stroke="#333" stroke-width="0.5" stroke-linejoin="round" stroke-linecap="round" />
<path d="M1054.7,666.1 L1055.7,669.7" fill="none" stroke="#333" stroke-width="0.5" stroke-linejoin="round" stroke-linecap="round" />
<ellipse cx="1057.0" cy="668.9" rx="3.3" ry="4.3" fill="#fff" stroke="#1e1e1e" stroke-width="1.0" transform="rotate(25 1057.0 668.9)" />
<path d="M1058.7,674.8 L1055.2,672.8 L1058.8,665.0 L1062.3,667.0 Z" fill="#fff" stroke="none"/>
<path d="M1058.7,674.8 L1055.2,672.8 M1062.3,667.0 L1058.8,665.0" stroke="#1e1e1e" stroke-width="1.0" fill="none"/>
<ellipse cx="1060.5" cy="670.9" rx="3.3" ry="4.3" fill="#fff" stroke="#1e1e1e" stroke-width="1.0" transform="rotate(25 1060.5 670.9)" />
<ellipse cx="1060.6" cy="671.0" rx="1.4" ry="1.9" fill="#fff" stroke="#333" stroke-width="0.6" transform="rotate(25 1060.6 671.0)" />
<path d="M848.0,453.2 L857.0,458.3" fill="none" stroke="#1e1e1e" stroke-width="3.6" stroke-linejoin="round" stroke-linecap="round" />
<path d="M848.0,453.2 L857.0,458.3" fill="none" stroke="#fff" stroke-width="2.0" stroke-linejoin="round" stroke-linecap="round" />
<path d="M849.5,452.7 L850.5,455.9" fill="none" stroke="#333" stroke-width="0.5" stroke-linejoin="round" stroke-linecap="round" />
<path d="M852.1,454.1 L853.1,457.4" fill="none" stroke="#333" stroke-width="0.5" stroke-linejoin="round" stroke-linecap="round" />
<path d="M854.7,455.6 L855.7,458.8" fill="none" stroke="#333" stroke-width="0.5" stroke-linejoin="round" stroke-linecap="round" />
<ellipse cx="844.5" cy="451.1" rx="3.3" ry="4.0" fill="#fff" stroke="#1e1e1e" stroke-width="1.0" transform="rotate(25 844.5 451.1)" />
<path d="M845.8,456.4 L842.8,454.7 L846.2,447.5 L849.2,449.2 Z" fill="#fff" stroke="none"/>
<path d="M845.8,456.4 L842.8,454.7 M849.2,449.2 L846.2,447.5" stroke="#1e1e1e" stroke-width="1.0" fill="none"/>
<ellipse cx="847.5" cy="452.8" rx="3.3" ry="4.0" fill="#fff" stroke="#1e1e1e" stroke-width="1.0" transform="rotate(25 847.5 452.8)" />
<path d="M859.3,466 L873,467.5 L874,491 L861.5,487 Q858.5,486 860,483 Q864,478 864,472.5 Q863,469 859.3,466 Z" fill="#fff" stroke="#1e1e1e" stroke-width="1.0" stroke-linejoin="round" stroke-linecap="round" />
<path d="M860,467.5 L872,469.5" fill="none" stroke="#444" stroke-width="0.7" stroke-linejoin="round" stroke-linecap="round" />
<path d="M873,463.3 Q876,462 880.8,462.3 Q884,463 883.7,466 L883.2,497.5 Q882.5,502 879.8,502.4 L874.9,501.4 Q872,499 872,495.5 L873,489.7 Z" fill="#fff" stroke="#1e1e1e" stroke-width="1.1" stroke-linejoin="round" stroke-linecap="round" />
<ellipse cx="878.8" cy="469.7" rx="2.2" ry="2.8" fill="#fff" stroke="#1e1e1e" stroke-width="0.9" transform="rotate(10 878.8 469.7)" />
<ellipse cx="878.3" cy="496.5" rx="2.2" ry="2.8" fill="#fff" stroke="#1e1e1e" stroke-width="0.9" transform="rotate(10 878.3 496.5)" />
<defs><pattern id="hatch" patternUnits="userSpaceOnUse" width="2" height="2" patternTransform="rotate(70)"><rect width="2" height="2" fill="#fff"/><line x1="0" y1="0" x2="0" y2="2" stroke="#3a3a3a" stroke-width="0.9"/></pattern><pattern id="hatch2" patternUnits="userSpaceOnUse" width="2" height="2" patternTransform="rotate(-20)"><rect width="2" height="2" fill="#fff"/><line x1="0" y1="0" x2="0" y2="2" stroke="#3a3a3a" stroke-width="0.9"/></pattern></defs>
<path d="M691.8,643.3 L706.0,652.3 L725.0,664.3 L710.8,655.3 Z" fill="url(#hatch2)" stroke="#1e1e1e" stroke-width="0.7" stroke-linejoin="round" stroke-linecap="round" />
<path d="M683.8,655.1 L692.8,671.7 L711.8,683.7 L702.8,667.1 Z" fill="url(#hatch2)" stroke="#1e1e1e" stroke-width="0.7" stroke-linejoin="round" stroke-linecap="round" />
<path d="M680.9,658.0 L687.9,676.5 L706.9,688.5 L699.9,670.0 Z" fill="url(#hatch2)" stroke="#1e1e1e" stroke-width="0.7" stroke-linejoin="round" stroke-linecap="round" />
<path d="M670.3,664.2 L670.5,686.7 L689.5,698.7 L689.3,676.2 Z" fill="url(#hatch2)" stroke="#1e1e1e" stroke-width="0.7" stroke-linejoin="round" stroke-linecap="round" />
<path d="M667.0,665.1 L665.0,688.1 L684.0,700.1 L686.0,677.1 Z" fill="url(#hatch2)" stroke="#1e1e1e" stroke-width="0.7" stroke-linejoin="round" stroke-linecap="round" />
<path d="M656.7,664.0 L648.1,686.4 L667.1,698.4 L675.7,676.0 Z" fill="url(#hatch2)" stroke="#1e1e1e" stroke-width="0.7" stroke-linejoin="round" stroke-linecap="round" />
<path d="M653.9,662.6 L643.5,684.0 L662.5,696.0 L672.9,674.6 Z" fill="url(#hatch2)" stroke="#1e1e1e" stroke-width="0.7" stroke-linejoin="round" stroke-linecap="round" />
<path d="M646.7,654.6 L631.5,670.8 L650.5,682.8 L665.7,666.6 Z" fill="url(#hatch2)" stroke="#1e1e1e" stroke-width="0.7" stroke-linejoin="round" stroke-linecap="round" />
<path d="M645.1,651.2 L629.0,665.3 L648.0,677.3 L664.1,663.2 Z" fill="url(#hatch2)" stroke="#1e1e1e" stroke-width="0.7" stroke-linejoin="round" stroke-linecap="round" />
<path d="M642.9,638.4 L625.3,644.2 L644.3,656.2 L661.9,650.4 Z" fill="url(#hatch2)" stroke="#1e1e1e" stroke-width="0.7" stroke-linejoin="round" stroke-linecap="round" />
<path d="M643.0,634.1 L625.6,637.0 L644.6,649.0 L662.0,646.1 Z" fill="url(#hatch2)" stroke="#1e1e1e" stroke-width="0.7" stroke-linejoin="round" stroke-linecap="round" />
<path d="M646.4,619.9 L631.0,613.6 L650.0,625.6 L665.4,631.9 Z" fill="url(#hatch2)" stroke="#1e1e1e" stroke-width="0.7" stroke-linejoin="round" stroke-linecap="round" />
<path d="M648.2,615.7 L634.0,606.7 L653.0,618.7 L667.2,627.7 Z" fill="url(#hatch2)" stroke="#1e1e1e" stroke-width="0.7" stroke-linejoin="round" stroke-linecap="round" />
<path d="M656.2,603.9 L647.2,587.3 L666.2,599.3 L675.2,615.9 Z" fill="url(#hatch2)" stroke="#1e1e1e" stroke-width="0.7" stroke-linejoin="round" stroke-linecap="round" />
<path d="M659.1,601.0 L652.1,582.5 L671.1,594.5 L678.1,613.0 Z" fill="url(#hatch2)" stroke="#1e1e1e" stroke-width="0.7" stroke-linejoin="round" stroke-linecap="round" />
<path d="M669.7,594.8 L669.5,572.3 L688.5,584.3 L688.7,606.8 Z" fill="url(#hatch2)" stroke="#1e1e1e" stroke-width="0.7" stroke-linejoin="round" stroke-linecap="round" />
<path d="M673.0,593.9 L675.0,570.9 L694.0,582.9 L692.0,605.9 Z" fill="url(#hatch2)" stroke="#1e1e1e" stroke-width="0.7" stroke-linejoin="round" stroke-linecap="round" />
<path d="M683.3,595.0 L691.9,572.6 L710.9,584.6 L702.3,607.0 Z" fill="url(#hatch2)" stroke="#1e1e1e" stroke-width="0.7" stroke-linejoin="round" stroke-linecap="round" />
<path d="M686.1,596.4 L696.5,575.0 L715.5,587.0 L705.1,608.4 Z" fill="url(#hatch2)" stroke="#1e1e1e" stroke-width="0.7" stroke-linejoin="round" stroke-linecap="round" />
<path d="M693.3,604.4 L708.5,588.2 L727.5,600.2 L712.3,616.4 Z" fill="url(#hatch2)" stroke="#1e1e1e" stroke-width="0.7" stroke-linejoin="round" stroke-linecap="round" />
<path d="M694.9,607.8 L711.0,593.7 L730.0,605.7 L713.9,619.8 Z" fill="url(#hatch2)" stroke="#1e1e1e" stroke-width="0.7" stroke-linejoin="round" stroke-linecap="round" />
<path d="M697.1,620.6 L714.7,614.8 L733.7,626.8 L716.1,632.6 Z" fill="url(#hatch2)" stroke="#1e1e1e" stroke-width="0.7" stroke-linejoin="round" stroke-linecap="round" />
<path d="M697.0,624.9 L714.4,622.0 L733.4,634.0 L716.0,636.9 Z" fill="url(#hatch2)" stroke="#1e1e1e" stroke-width="0.7" stroke-linejoin="round" stroke-linecap="round" />
<path d="M693.6,639.1 L709.0,645.4 L728.0,657.4 L712.6,651.1 Z" fill="url(#hatch2)" stroke="#1e1e1e" stroke-width="0.7" stroke-linejoin="round" stroke-linecap="round" />
<path d="M706.0,652.3 L692.8,671.7 L711.8,683.7 L725.0,664.3 Z" fill="#fff" stroke="#1e1e1e" stroke-width="0.8" stroke-linejoin="round" stroke-linecap="round" />
<path d="M687.9,676.5 L670.5,686.7 L689.5,698.7 L706.9,688.5 Z" fill="#fff" stroke="#1e1e1e" stroke-width="0.8" stroke-linejoin="round" stroke-linecap="round" />
<path d="M665.0,688.1 L648.1,686.4 L667.1,698.4 L684.0,700.1 Z" fill="#fff" stroke="#1e1e1e" stroke-width="0.8" stroke-linejoin="round" stroke-linecap="round" />
<path d="M643.5,684.0 L631.5,670.8 L650.5,682.8 L662.5,696.0 Z" fill="#fff" stroke="#1e1e1e" stroke-width="0.8" stroke-linejoin="round" stroke-linecap="round" />
<path d="M629.0,665.3 L625.3,644.2 L644.3,656.2 L648.0,677.3 Z" fill="#fff" stroke="#1e1e1e" stroke-width="0.8" stroke-linejoin="round" stroke-linecap="round" />
<path d="M625.6,637.0 L631.0,613.6 L650.0,625.6 L644.6,649.0 Z" fill="#fff" stroke="#1e1e1e" stroke-width="0.8" stroke-linejoin="round" stroke-linecap="round" />
<path d="M634.0,606.7 L647.2,587.3 L666.2,599.3 L653.0,618.7 Z" fill="#fff" stroke="#1e1e1e" stroke-width="0.8" stroke-linejoin="round" stroke-linecap="round" />
<path d="M652.1,582.5 L669.5,572.3 L688.5,584.3 L671.1,594.5 Z" fill="#fff" stroke="#1e1e1e" stroke-width="0.8" stroke-linejoin="round" stroke-linecap="round" />
<path d="M675.0,570.9 L691.9,572.6 L710.9,584.6 L694.0,582.9 Z" fill="#fff" stroke="#1e1e1e" stroke-width="0.8" stroke-linejoin="round" stroke-linecap="round" />
<path d="M696.5,575.0 L708.5,588.2 L727.5,600.2 L715.5,587.0 Z" fill="#fff" stroke="#1e1e1e" stroke-width="0.8" stroke-linejoin="round" stroke-linecap="round" />
<path d="M711.0,593.7 L714.7,614.8 L733.7,626.8 L730.0,605.7 Z" fill="#fff" stroke="#1e1e1e" stroke-width="0.8" stroke-linejoin="round" stroke-linecap="round" />
<path d="M714.4,622.0 L709.0,645.4 L728.0,657.4 L733.4,634.0 Z" fill="#fff" stroke="#1e1e1e" stroke-width="0.8" stroke-linejoin="round" stroke-linecap="round" />
<path d="M711.6,653.7 L725.0,664.3 L711.8,683.7 L701.7,668.3 Z" fill="url(#hatch)" stroke="#1e1e1e" stroke-width="0.8" stroke-linejoin="round" stroke-linecap="round" />
<path d="M701.1,668.9 L706.9,688.5 L689.5,698.7 L688.0,676.6 Z" fill="url(#hatch)" stroke="#1e1e1e" stroke-width="0.8" stroke-linejoin="round" stroke-linecap="round" />
<path d="M687.3,676.8 L684.0,700.1 L667.1,698.4 L674.6,675.5 Z" fill="url(#hatch)" stroke="#1e1e1e" stroke-width="0.8" stroke-linejoin="round" stroke-linecap="round" />
<path d="M674.0,675.2 L662.5,696.0 L650.5,682.8 L665.0,665.3 Z" fill="url(#hatch)" stroke="#1e1e1e" stroke-width="0.8" stroke-linejoin="round" stroke-linecap="round" />
<path d="M664.7,664.6 L648.0,677.3 L644.3,656.2 L661.9,648.7 Z" fill="url(#hatch)" stroke="#1e1e1e" stroke-width="0.8" stroke-linejoin="round" stroke-linecap="round" />
<path d="M661.9,647.8 L644.6,649.0 L650.0,625.6 L666.0,630.1 Z" fill="url(#hatch)" stroke="#1e1e1e" stroke-width="0.8" stroke-linejoin="round" stroke-linecap="round" />
<path d="M666.4,629.3 L653.0,618.7 L666.2,599.3 L676.3,614.7 Z" fill="url(#hatch)" stroke="#1e1e1e" stroke-width="0.8" stroke-linejoin="round" stroke-linecap="round" />
<path d="M676.9,614.1 L671.1,594.5 L688.5,584.3 L690.0,606.4 Z" fill="url(#hatch)" stroke="#1e1e1e" stroke-width="0.8" stroke-linejoin="round" stroke-linecap="round" />
<path d="M690.7,606.2 L694.0,582.9 L710.9,584.6 L703.4,607.5 Z" fill="url(#hatch)" stroke="#1e1e1e" stroke-width="0.8" stroke-linejoin="round" stroke-linecap="round" />
<path d="M704.0,607.8 L715.5,587.0 L727.5,600.2 L713.0,617.7 Z" fill="url(#hatch)" stroke="#1e1e1e" stroke-width="0.8" stroke-linejoin="round" stroke-linecap="round" />
<path d="M713.3,618.4 L730.0,605.7 L733.7,626.8 L716.1,634.3 Z" fill="url(#hatch)" stroke="#1e1e1e" stroke-width="0.8" stroke-linejoin="round" stroke-linecap="round" />
<path d="M716.1,635.2 L733.4,634.0 L728.0,657.4 L712.0,652.9 Z" fill="url(#hatch)" stroke="#1e1e1e" stroke-width="0.8" stroke-linejoin="round" stroke-linecap="round" />
<path d="M715.4,651.4 L714.6,655.3 L713.2,659.1 L711.3,662.5 L708.8,665.4 L706.1,667.6 L703.1,669.2 L700.2,670.3 L697.5,671.0 L694.9,671.6 L692.5,672.3 L690.1,673.2 L687.7,674.4 L685.1,675.8 L682.4,677.2 L679.5,678.3 L676.5,679.0 L673.7,678.9 L671.0,677.9 L668.9,676.1 L667.2,673.5 L666.1,670.2 L665.6,666.7 L665.5,663.0 L665.6,659.4 L665.8,656.0 L665.8,652.9 L665.7,649.9 L665.4,646.9 L664.9,643.7 L664.5,640.4 L664.3,636.7 L664.5,632.8 L665.3,628.9 L666.7,625.1 L668.6,621.7 L671.1,618.8 L673.8,616.6 L676.8,615.0 L679.7,613.9 L682.4,613.2 L685.0,612.6 L687.4,611.9 L689.8,611.0 L692.2,609.8 L694.8,608.4 L697.5,607.0 L700.4,605.9 L703.4,605.2 L706.2,605.3 L708.9,606.3 L711.0,608.1 L712.7,610.7 L713.8,614.0 L714.3,617.5 L714.4,621.2 L714.3,624.8 L714.1,628.2 L714.1,631.3 L714.2,634.3 L714.5,637.3 L715.0,640.5 L715.4,643.8 L715.6,647.5 Z" fill="#fff" stroke="#1e1e1e" stroke-width="1.0" stroke-linejoin="round" stroke-linecap="round" />
<ellipse cx="708.0" cy="657.2" rx="2.6" ry="3.4" fill="#fff" stroke="#1e1e1e" stroke-width="0.9" transform="rotate(20 708.0 657.2)" />
<ellipse cx="673.8" cy="670.3" rx="2.6" ry="3.4" fill="#fff" stroke="#1e1e1e" stroke-width="0.9" transform="rotate(20 673.8 670.3)" />
<ellipse cx="671.9" cy="627.0" rx="2.6" ry="3.4" fill="#fff" stroke="#1e1e1e" stroke-width="0.9" transform="rotate(20 671.9 627.0)" />
<ellipse cx="706.1" cy="613.9" rx="2.6" ry="3.4" fill="#fff" stroke="#1e1e1e" stroke-width="0.9" transform="rotate(20 706.1 613.9)" />
<ellipse cx="690.3" cy="640.5" rx="15.0" ry="22.5" fill="#fff" stroke="#1e1e1e" stroke-width="1.1" transform="rotate(20 690.3 640.5)" />
<clipPath id="c38"><ellipse cx="690.3" cy="640.5" rx="15" ry="22.5" transform="rotate(20 690.3 640.5)"/></clipPath>
<g clip-path="url(#c38)"><ellipse cx="677.0" cy="632.1" rx="15.0" ry="22.5" fill="none" stroke="#333" stroke-width="0.8" transform="rotate(20 677.0 632.1)" /></g>
<path d="M640.0,600.0 L660.0,612.0" fill="none" stroke="#888" stroke-width="0.6" stroke-dasharray="6,2,1.5,2" stroke-linejoin="round" stroke-linecap="round" />
<path d="M706.0,655.0 L740.0,676.0" fill="none" stroke="#888" stroke-width="0.6" stroke-dasharray="6,2,1.5,2" stroke-linejoin="round" stroke-linecap="round" />
<path d="M735.0,662.0 L770.0,682.0" fill="none" stroke="#888" stroke-width="0.6" stroke-dasharray="6,2,1.5,2" stroke-linejoin="round" stroke-linecap="round" />
<path d="M660.0,535.0 L693.0,553.0 L648.0,575.0 L690.0,598.0" fill="none" stroke="#888" stroke-width="0.6" stroke-dasharray="6,2,1.5,2" stroke-linejoin="round" stroke-linecap="round" />
<path d="M768,600 C768,618 767,632 760,640 C750,650 730,656 716,662" fill="none" stroke="#1e1e1e" stroke-width="3.8" stroke-linejoin="round" stroke-linecap="round" />
<path d="M768,600 C768,618 767,632 760,640 C750,650 730,656 716,662" fill="none" stroke="#fff" stroke-width="2.0" stroke-linejoin="round" stroke-linecap="round" />
<path d="M766,512 L766,586" fill="none" stroke="#1e1e1e" stroke-width="3.0" stroke-linejoin="round" stroke-linecap="round" />
<path d="M766,512 L766,586" fill="none" stroke="#fff" stroke-width="1.4" stroke-linejoin="round" stroke-linecap="round" />
<path d="M771,512 L771,586" fill="none" stroke="#1e1e1e" stroke-width="2.6" stroke-linejoin="round" stroke-linecap="round" />
<path d="M771,512 L771,586" fill="none" stroke="#fff" stroke-width="1.0" stroke-linejoin="round" stroke-linecap="round" />
<path d="M756,590 Q756,586 762,585 L778,585 Q783,586 782,590 L781,598 Q779,602 770,602 Q759,602 757,598 Z" fill="#b5b5b5" stroke="#1e1e1e" stroke-width="1.1" stroke-linejoin="round" stroke-linecap="round" />
<path d="M757,593 Q768,597 781,593" fill="none" stroke="#1e1e1e" stroke-width="0.8" stroke-linejoin="round" stroke-linecap="round" />
<ellipse cx="769.0" cy="588.0" rx="5.0" ry="2.4" fill="#999" stroke="#1e1e1e" stroke-width="0.8" />
<ellipse cx="769.0" cy="588.0" rx="2.4" ry="1.3" fill="#fff" stroke="#1e1e1e" stroke-width="0.6" />
<path d="M774,512 C778,530 782,540 792,541 C801,542 805,534 805,520 L804,491" fill="none" stroke="#1e1e1e" stroke-width="3.2" stroke-linejoin="round" stroke-linecap="round" />
<path d="M774,512 C778,530 782,540 792,541 C801,542 805,534 805,520 L804,491" fill="none" stroke="#fff" stroke-width="1.6" stroke-linejoin="round" stroke-linecap="round" />
<path d="M752.5,482.6 L770.2,472.7 L788.4,481.6 L788.4,501.5 L782,506 L777,509 L771.25,513.3 L757,508 L752.5,501 Z" fill="#fff" stroke="#1e1e1e" stroke-width="1.0" stroke-linejoin="round" stroke-linecap="round" />
<path d="M752.5,482.6 L771.25,490.9 L788.4,481.6 M771.25,490.9 L771.25,513.3" fill="none" stroke="#1e1e1e" stroke-width="0.9" stroke-linejoin="round" stroke-linecap="round" />
<path d="M755.5,482.3 L770.3,475.5 L785.3,481.8 L770.8,488.6 Z" fill="#fff" stroke="#333" stroke-width="0.7" stroke-linejoin="round" stroke-linecap="round" />
<path d="M762.8,478.9 L778,485.2 M762.5,485.5 L777.8,478.6" fill="none" stroke="#333" stroke-width="0.9" stroke-linejoin="round" stroke-linecap="round" />
<path d="M776,491 L776,510 M779,489 L779,507 M782,487.5 L782,505" fill="none" stroke="#444" stroke-width="0.6" stroke-linejoin="round" stroke-linecap="round" />
<path d="M778,503 L783,500 L783,508 L778,510 Z" fill="#ddd" stroke="#1e1e1e" stroke-width="0.8" stroke-linejoin="round" stroke-linecap="round" />
<path d="M756.7,503 L756.7,509.5 L771,514.5 L771,509" fill="#fff" stroke="#1e1e1e" stroke-width="0.8" stroke-linejoin="round" stroke-linecap="round" />
<path d="M797,468 L803,464.4 L809.3,466 L809.3,488 L805,492 L797.5,490 Z" fill="#fff" stroke="#1e1e1e" stroke-width="0.9" stroke-linejoin="round" stroke-linecap="round" />
<path d="M797,468 L803,470 L809.3,466 M803,470 L803,491.5" fill="none" stroke="#333" stroke-width="0.7" stroke-linejoin="round" stroke-linecap="round" />
<path d="M799,476 L808,474 L808,482 L799,484 Z" fill="#ccc" stroke="#444" stroke-width="0.6" stroke-linejoin="round" stroke-linecap="round" />
<path d="M769.0,650.0 L806.0,670.5" fill="none" stroke="#1e1e1e" stroke-width="6.0" stroke-linejoin="round" stroke-linecap="round" />
<path d="M769.0,650.0 L806.0,670.5" fill="none" stroke="#fff" stroke-width="4.2" stroke-linejoin="round" stroke-linecap="round" />
<path d="M769.7,648.4 L771.3,653.2" fill="none" stroke="#444" stroke-width="0.6" stroke-linejoin="round" stroke-linecap="round" />
<path d="M772.3,649.8 L773.9,654.6" fill="none" stroke="#444" stroke-width="0.6" stroke-linejoin="round" stroke-linecap="round" />
<path d="M774.9,651.3 L776.5,656.1" fill="none" stroke="#444" stroke-width="0.6" stroke-linejoin="round" stroke-linecap="round" />
<path d="M777.5,652.7 L779.1,657.5" fill="none" stroke="#444" stroke-width="0.6" stroke-linejoin="round" stroke-linecap="round" />
<path d="M795.7,662.8 L797.3,667.6" fill="none" stroke="#444" stroke-width="0.6" stroke-linejoin="round" stroke-linecap="round" />
<path d="M798.3,664.2 L799.9,669.0" fill="none" stroke="#444" stroke-width="0.6" stroke-linejoin="round" stroke-linecap="round" />
<path d="M800.9,665.7 L802.5,670.5" fill="none" stroke="#444" stroke-width="0.6" stroke-linejoin="round" stroke-linecap="round" />
<path d="M803.5,667.1 L805.1,671.9" fill="none" stroke="#444" stroke-width="0.6" stroke-linejoin="round" stroke-linecap="round" />
<ellipse cx="806.3" cy="670.6" rx="2.2" ry="3.0" fill="#fff" stroke="#1e1e1e" stroke-width="1.0" transform="rotate(25 806.3 670.6)" />
<ellipse cx="768.8" cy="649.9" rx="2.2" ry="3.0" fill="#fff" stroke="#1e1e1e" stroke-width="1.0" transform="rotate(25 768.8 649.9)" />
<ellipse cx="653.0" cy="536.5" rx="4.2" ry="5.2" fill="#fff" stroke="#1e1e1e" stroke-width="1.0" transform="rotate(20 653.0 536.5)" />
<path d="M654.2,542.9 L651.2,541.4 L654.8,531.6 L657.8,533.1 Z" fill="#fff" stroke="none"/>
<path d="M654.2,542.9 L651.2,541.4 M657.8,533.1 L654.8,531.6" stroke="#1e1e1e" stroke-width="1.0" fill="none"/>
<path d="M659.2,540.8 L655.1,543.1 L651.9,540.3 L652.8,535.2 L656.9,532.9 L660.1,535.7 Z" fill="#fff" stroke="#1e1e1e" stroke-width="0.9" stroke-linejoin="round" stroke-linecap="round" />
<ellipse cx="656.5" cy="538.3" rx="2.0" ry="2.6" fill="#fff" stroke="#1e1e1e" stroke-width="0.7" transform="rotate(20 656.5 538.3)" />
<ellipse cx="674.8" cy="548.2" rx="4.2" ry="5.2" fill="#fff" stroke="#1e1e1e" stroke-width="1.2" transform="rotate(20 674.8 548.2)" />
<ellipse cx="675.1" cy="548.4" rx="2.0" ry="2.6" fill="#fff" stroke="#1e1e1e" stroke-width="0.8" transform="rotate(20 675.1 548.4)" />
<path d="M271.0,81.0 L300.0,98.0" fill="none" stroke="#888" stroke-width="0.6" stroke-dasharray="6,2,1.5,2" stroke-linejoin="round" stroke-linecap="round" />
<path d="M305.0,104.0 L360.0,136.0" fill="none" stroke="#888" stroke-width="0.6" stroke-dasharray="6,2,1.5,2" stroke-linejoin="round" stroke-linecap="round" />
<path d="M370.0,142.0 L410.0,162.0" fill="none" stroke="#888" stroke-width="0.6" stroke-dasharray="6,2,1.5,2" stroke-linejoin="round" stroke-linecap="round" />
<path d="M294.0,147.0 L318.0,160.0" fill="none" stroke="#888" stroke-width="0.6" stroke-dasharray="6,2,1.5,2" stroke-linejoin="round" stroke-linecap="round" />
<path d="M261.8,77.0 L271.0,82.1" fill="none" stroke="#1e1e1e" stroke-width="4.4" stroke-linejoin="round" stroke-linecap="round" />
<path d="M261.8,77.0 L271.0,82.1" fill="none" stroke="#fff" stroke-width="2.8" stroke-linejoin="round" stroke-linecap="round" />
<path d="M263.0,76.1 L264.0,79.9" fill="none" stroke="#333" stroke-width="0.5" stroke-linejoin="round" stroke-linecap="round" />
<path d="M265.6,77.5 L266.6,81.4" fill="none" stroke="#333" stroke-width="0.5" stroke-linejoin="round" stroke-linecap="round" />
<path d="M268.2,79.0 L269.2,82.8" fill="none" stroke="#333" stroke-width="0.5" stroke-linejoin="round" stroke-linecap="round" />
<ellipse cx="257.0" cy="75.3" rx="3.6" ry="4.6" fill="#fff" stroke="#1e1e1e" stroke-width="1.0" transform="rotate(25 257.0 75.3)" />
<path d="M259.1,81.7 L255.1,79.5 L258.9,71.1 L262.9,73.3 Z" fill="#fff" stroke="none"/>
<path d="M259.1,81.7 L255.1,79.5 M262.9,73.3 L258.9,71.1" stroke="#1e1e1e" stroke-width="1.0" fill="none"/>
<ellipse cx="261.0" cy="77.5" rx="3.6" ry="4.6" fill="#fff" stroke="#1e1e1e" stroke-width="1.0" transform="rotate(25 261.0 77.5)" />
<ellipse cx="280.0" cy="88.0" rx="4.6" ry="5.9" fill="#fff" stroke="#1e1e1e" stroke-width="1.2" transform="rotate(25 280.0 88.0)" />
<ellipse cx="280.4" cy="88.2" rx="2.0" ry="2.7" fill="#fff" stroke="#1e1e1e" stroke-width="0.8" transform="rotate(25 280.4 88.2)" />
<path d="M283.3,116.0 C283.3,112.8 284.0,111.0 284.6,108.2 C285.2,105.4 286.1,101.2 287.2,99.1 C288.3,97.0 289.1,96.6 291.1,95.8 C293.1,95.0 296.8,94.8 299.0,94.5 C301.2,94.2 303.0,93.4 304.2,93.9 C305.4,94.5 305.9,96.3 306.1,97.8 C306.3,99.3 306.0,101.5 305.5,103.0 C305.0,104.5 304.2,105.4 302.9,106.9 C301.6,108.4 299.2,110.4 297.7,112.1 C296.2,113.8 294.4,115.1 293.8,117.3 C293.1,119.5 293.3,123.4 293.8,125.1 C294.2,126.8 294.7,126.8 296.4,127.7 C298.1,128.6 302.5,129.4 304.2,130.3 C305.9,131.2 306.4,131.6 306.8,132.9 C307.2,134.2 307.2,136.4 306.8,138.1 C306.4,139.8 305.5,141.6 304.2,143.3 C302.9,145.0 300.7,147.0 299.0,148.5 C297.3,150.0 295.3,151.5 293.8,152.4 C292.2,153.3 291.1,154.0 289.8,153.8 C288.5,153.5 286.8,152.4 285.9,151.1 C285.0,149.8 284.6,148.1 284.6,145.9 C284.6,143.7 285.9,141.1 285.9,138.1 C285.9,135.1 285.0,131.4 284.6,127.7 C284.2,124.0 283.3,119.2 283.3,116.0 Z" fill="#fff" stroke="#1e1e1e" stroke-width="1.1" stroke-linejoin="round" stroke-linecap="round" />
<path d="M285.5,112.0 C285.7,110.5 285.9,105.3 286.5,103.0 C287.1,100.7 288.6,98.8 289.0,98.0" fill="none" stroke="#444" stroke-width="0.6" stroke-linejoin="round" stroke-linecap="round" />
<ellipse cx="291.1" cy="103.6" rx="2.2" ry="3.0" fill="#fff" stroke="#1e1e1e" stroke-width="0.9" transform="rotate(20 291.1 103.6)" />
<ellipse cx="300.9" cy="101.7" rx="2.2" ry="3.0" fill="#fff" stroke="#1e1e1e" stroke-width="0.9" transform="rotate(20 300.9 101.7)" />
<ellipse cx="301.6" cy="136.2" rx="2.2" ry="3.0" fill="#fff" stroke="#1e1e1e" stroke-width="0.9" transform="rotate(20 301.6 136.2)" />
<ellipse cx="291.8" cy="145.3" rx="2.2" ry="3.0" fill="#fff" stroke="#1e1e1e" stroke-width="0.9" transform="rotate(20 291.8 145.3)" />
<ellipse cx="337.5" cy="110.1" rx="1.7" ry="2.3" fill="#fff" stroke="#1e1e1e" stroke-width="1.0" transform="rotate(25 337.5 110.1)" />
<path d="M347.0,117.4 L336.5,112.2 L338.5,108.0 L349.0,113.2 Z" fill="#fff" stroke="none"/>
<path d="M347.0,117.4 L336.5,112.2 M349.0,113.2 L338.5,108.0" stroke="#1e1e1e" stroke-width="1.0" fill="none"/>
<ellipse cx="348.0" cy="115.3" rx="1.7" ry="2.3" fill="#fff" stroke="#1e1e1e" stroke-width="1.0" transform="rotate(25 348.0 115.3)" />
<path d="M316.5,149.6 C325,149 335,152 345,156 C350,158 354,158.5 358,158" fill="none" stroke="#1e1e1e" stroke-width="3.0" stroke-linejoin="round" stroke-linecap="round" />
<path d="M316.5,149.6 C325,149 335,152 345,156 C350,158 354,158.5 358,158" fill="none" stroke="#fff" stroke-width="1.3" stroke-linejoin="round" stroke-linecap="round" />
<path d="M360,136 Q360,131 364,130.5 L367.5,130.2 Q371,130.5 370.6,135 L370,150 L368,172 Q368,177.5 364,177.7 L361.5,177.7 Q358.5,177 358.8,172 L359.5,150 Z" fill="#fff" stroke="#1e1e1e" stroke-width="1.0" stroke-linejoin="round" stroke-linecap="round" />
<ellipse cx="364.8" cy="138.6" rx="1.9" ry="2.4" fill="#fff" stroke="#1e1e1e" stroke-width="0.8" transform="rotate(10 364.8 138.6)" />
<ellipse cx="363.5" cy="172.5" rx="1.8" ry="2.3" fill="#fff" stroke="#1e1e1e" stroke-width="0.8" transform="rotate(10 363.5 172.5)" />
<path d="M354,149.8 L363,146.5 L381,150.5 L381.5,162.5 L373.5,166.5 L355.5,161.5 Z" fill="#fff" stroke="#1e1e1e" stroke-width="1.1" stroke-linejoin="round" stroke-linecap="round" />
<path d="M354,149.8 L372.5,154 L381,150.5 M372.5,154 L373.5,166.5" fill="none" stroke="#1e1e1e" stroke-width="0.8" stroke-linejoin="round" stroke-linecap="round" />
<path d="M355.5,151.5 Q359,148.5 362.5,151 L363,157.5 Q359,160 356,158 Z" fill="#fff" stroke="#1e1e1e" stroke-width="0.8" stroke-linejoin="round" stroke-linecap="round" />
<path d="M357,152.8 Q359.5,151 361.5,153.5 M357.5,155.5 Q359.5,154 361.5,156" fill="none" stroke="#333" stroke-width="0.6" stroke-linejoin="round" stroke-linecap="round" />
<ellipse cx="392.5" cy="153.8" rx="4.4" ry="5.5" fill="#fff" stroke="#1e1e1e" stroke-width="1.2" transform="rotate(25 392.5 153.8)" />
<ellipse cx="392.9" cy="154.0" rx="1.9" ry="2.5" fill="#fff" stroke="#1e1e1e" stroke-width="0.8" transform="rotate(25 392.9 154.0)" />
<ellipse cx="403.5" cy="159.2" rx="4.4" ry="5.2" fill="#fff" stroke="#1e1e1e" stroke-width="1.0" transform="rotate(25 403.5 159.2)" />
<path d="M403.8,165.2 L401.3,163.9 L405.7,154.5 L408.2,155.8 Z" fill="#fff" stroke="none"/>
<path d="M403.8,165.2 L401.3,163.9 M408.2,155.8 L405.7,154.5" stroke="#1e1e1e" stroke-width="1.0" fill="none"/>
<path d="M409.2,163.7 L404.7,165.5 L401.6,162.3 L402.8,157.3 L407.3,155.5 L410.4,158.7 Z" fill="#888" stroke="#1e1e1e" stroke-width="1.0" stroke-linejoin="round" stroke-linecap="round" />
<ellipse cx="406.4" cy="160.7" rx="2.0" ry="2.5" fill="#fff" stroke="#1e1e1e" stroke-width="0.7" transform="rotate(25 406.4 160.7)" />
<ellipse cx="317.0" cy="160.0" rx="4.4" ry="5.5" fill="#fff" stroke="#1e1e1e" stroke-width="1.2" transform="rotate(25 317.0 160.0)" />
<ellipse cx="317.4" cy="160.2" rx="1.9" ry="2.5" fill="#fff" stroke="#1e1e1e" stroke-width="0.8" transform="rotate(25 317.4 160.2)" />
<path d="M324.8,165.2 L336.0,171.3" fill="none" stroke="#1e1e1e" stroke-width="4.4" stroke-linejoin="round" stroke-linecap="round" />
<path d="M324.8,165.2 L336.0,171.3" fill="none" stroke="#fff" stroke-width="2.8" stroke-linejoin="round" stroke-linecap="round" />
<path d="M325.5,164.0 L326.5,167.8" fill="none" stroke="#333" stroke-width="0.5" stroke-linejoin="round" stroke-linecap="round" />
<path d="M328.1,165.4 L329.1,169.2" fill="none" stroke="#333" stroke-width="0.5" stroke-linejoin="round" stroke-linecap="round" />
<path d="M330.7,166.8 L331.7,170.6" fill="none" stroke="#333" stroke-width="0.5" stroke-linejoin="round" stroke-linecap="round" />
<path d="M333.3,168.2 L334.3,172.0" fill="none" stroke="#333" stroke-width="0.5" stroke-linejoin="round" stroke-linecap="round" />
<ellipse cx="335.5" cy="171.1" rx="3.6" ry="4.6" fill="#fff" stroke="#1e1e1e" stroke-width="1.0" transform="rotate(25 335.5 171.1)" />
<path d="M337.1,177.2 L333.6,175.3 L337.4,166.9 L340.9,168.8 Z" fill="#fff" stroke="none"/>
<path d="M337.1,177.2 L333.6,175.3 M340.9,168.8 L337.4,166.9" stroke="#1e1e1e" stroke-width="1.0" fill="none"/>
<ellipse cx="339.0" cy="173.0" rx="3.6" ry="4.6" fill="#fff" stroke="#1e1e1e" stroke-width="1.0" transform="rotate(25 339.0 173.0)" />
<ellipse cx="339.2" cy="173.1" rx="1.6" ry="2.1" fill="#fff" stroke="#333" stroke-width="0.7" transform="rotate(25 339.2 173.1)" />
<text transform="translate(107.4,712) rotate(-90)" font-family="Liberation Sans" font-size="12" fill="#2d4c80" textLength="46.5" lengthAdjust="spacingAndGlyphs">TM0137.01</text>
<g font-family="Liberation Sans" font-weight="bold" font-size="13" fill="#1c1c1c" opacity="0.99">
<path d="M219.2,87.2 L222.3,84.0 L224.0,84.0 L224.0,93.4 L221.9,93.4 L221.9,86.8 L219.2,88.9 Z"/>
<text x="225.1" y="93.4">9</text>
<text x="234.9" y="118.8">2</text>
<text x="242.1" y="118.8">0</text>
<text x="324.7" y="83.0">2</text>
<path d="M333.2,76.8 L336.3,73.6 L338.0,73.6 L338.0,83.0 L335.9,83.0 L335.9,76.4 L333.2,78.5 Z"/>
<text x="362.9" y="93.5">2</text>
<text x="370.1" y="93.5">2</text>
<text x="391.9" y="109.6">2</text>
<text x="399.2" y="109.6">4</text>
<text x="418.4" y="124.8">2</text>
<text x="425.6" y="124.8">0</text>
<text x="432.7" y="146.7">2</text>
<text x="439.9" y="146.7">5</text>
<text x="279.5" y="189.4">2</text>
<text x="286.7" y="189.4">0</text>
<text x="303.5" y="208.1">2</text>
<text x="310.7" y="208.1">3</text>
<text x="698.0" y="129.2">4</text>
<text x="722.1" y="145.8">5</text>
<path d="M833.2,81.2 L836.3,78.0 L838.0,78.0 L838.0,87.4 L835.9,87.4 L835.9,80.8 L833.2,82.9 Z"/>
<text x="1068.0" y="155.5">2</text>
<text x="1109.5" y="180.5">3</text>
<text x="904.7" y="199.9">3</text>
<text x="911.9" y="199.9">7</text>
<text x="823.8" y="233.2">6</text>
<text x="868.4" y="274.9">8</text>
<text x="914.5" y="306.2">9</text>
<text x="755.3" y="366.9">7</text>
<text x="793.8" y="379.9">8</text>
<text x="831.0" y="390.2">9</text>
<path d="M1055.0,349.7 L1058.1,346.5 L1059.8,346.5 L1059.8,355.9 L1057.7,355.9 L1057.7,349.3 L1055.0,351.4 Z"/>
<text x="1060.9" y="355.9">0</text>
<path d="M1116.8,408.0 L1119.9,404.8 L1121.6,404.8 L1121.6,414.2 L1119.5,414.2 L1119.5,407.6 L1116.8,409.7 Z"/>
<path d="M1124.0,408.0 L1127.1,404.8 L1128.8,404.8 L1128.8,414.2 L1126.7,414.2 L1126.7,407.6 L1124.0,409.7 Z"/>
<path d="M816.9,422.0 L820.0,418.8 L821.7,418.8 L821.7,428.2 L819.6,428.2 L819.6,421.6 L816.9,423.7 Z"/>
<text x="822.8" y="428.2">7</text>
<path d="M1093.3,474.0 L1096.4,470.8 L1098.1,470.8 L1098.1,480.2 L1096.0,480.2 L1096.0,473.6 L1093.3,475.7 Z"/>
<text x="1099.2" y="480.2">4</text>
<path d="M835.2,508.2 L838.3,505.0 L840.0,505.0 L840.0,514.4 L837.9,514.4 L837.9,507.8 L835.2,509.9 Z"/>
<text x="841.1" y="514.4">8</text>
<path d="M1081.0,549.2 L1084.1,546.0 L1085.8,546.0 L1085.8,555.4 L1083.7,555.4 L1083.7,548.8 L1081.0,550.9 Z"/>
<text x="1086.9" y="555.4">2</text>
<path d="M1119.9,571.5 L1123.0,568.3 L1124.7,568.3 L1124.7,577.7 L1122.6,577.7 L1122.6,571.1 L1119.9,573.2 Z"/>
<text x="1125.8" y="577.7">3</text>
<path d="M1030.8,690.3 L1033.9,687.1 L1035.6,687.1 L1035.6,696.5 L1033.5,696.5 L1033.5,689.9 L1030.8,692.0 Z"/>
<text x="1036.7" y="696.5">4</text>
<text x="106.5" y="363.5">2</text>
<text x="113.7" y="363.5">6</text>
<text x="127.2" y="390.6">2</text>
<text x="134.5" y="390.6">7</text>
<text x="161.9" y="409.4">2</text>
<text x="169.1" y="409.4">8</text>
<text x="181.7" y="491.4">2</text>
<text x="188.9" y="491.4">9</text>
<text x="221.2" y="525.0">3</text>
<text x="228.4" y="525.0">0</text>
<text x="288.9" y="556.9">3</text>
<path d="M297.4,550.7 L300.5,547.5 L302.2,547.5 L302.2,556.9 L300.1,556.9 L300.1,550.3 L297.4,552.4 Z"/>
<text x="384.6" y="565.7">3</text>
<text x="391.9" y="565.7">2</text>
<text x="449.0" y="619.5">3</text>
<text x="456.2" y="619.5">4</text>
<text x="542.0" y="634.2">3</text>
<text x="549.2" y="634.2">5</text>
<text x="554.1" y="655.2">3</text>
<text x="561.4" y="655.2">6</text>
<text x="505.5" y="683.5">3</text>
<text x="512.7" y="683.5">3</text>
<text x="584.4" y="699.7">3</text>
<text x="591.6" y="699.7">8</text>
<text x="677.6" y="517.2">4</text>
<path d="M686.1,511.0 L689.2,507.8 L690.9,507.8 L690.9,517.2 L688.8,517.2 L688.8,510.6 L686.1,512.7 Z"/>
<text x="692.8" y="536.5">4</text>
<text x="700.1" y="536.5">0</text>
<text x="802.4" y="639.8">3</text>
<text x="809.6" y="639.8">9</text>
<path d="M654.7,454.0 L657.8,450.8 L659.5,450.8 L659.5,460.2 L657.4,460.2 L657.4,453.6 L654.7,455.7 Z"/>
<text x="660.6" y="460.2">6</text>
<path d="M729.5,314.8 L732.6,311.6 L734.3,311.6 L734.3,321.0 L732.2,321.0 L732.2,314.4 L729.5,316.5 Z"/>
<text x="735.4" y="321.0">6</text>
<path d="M681.5,416.3 L684.6,413.1 L686.4,413.1 L686.4,422.5 L684.2,422.5 L684.2,415.9 L681.5,418.0 Z"/>
<text x="687.5" y="422.5">5</text>
</g>
</svg>
</body></html>
